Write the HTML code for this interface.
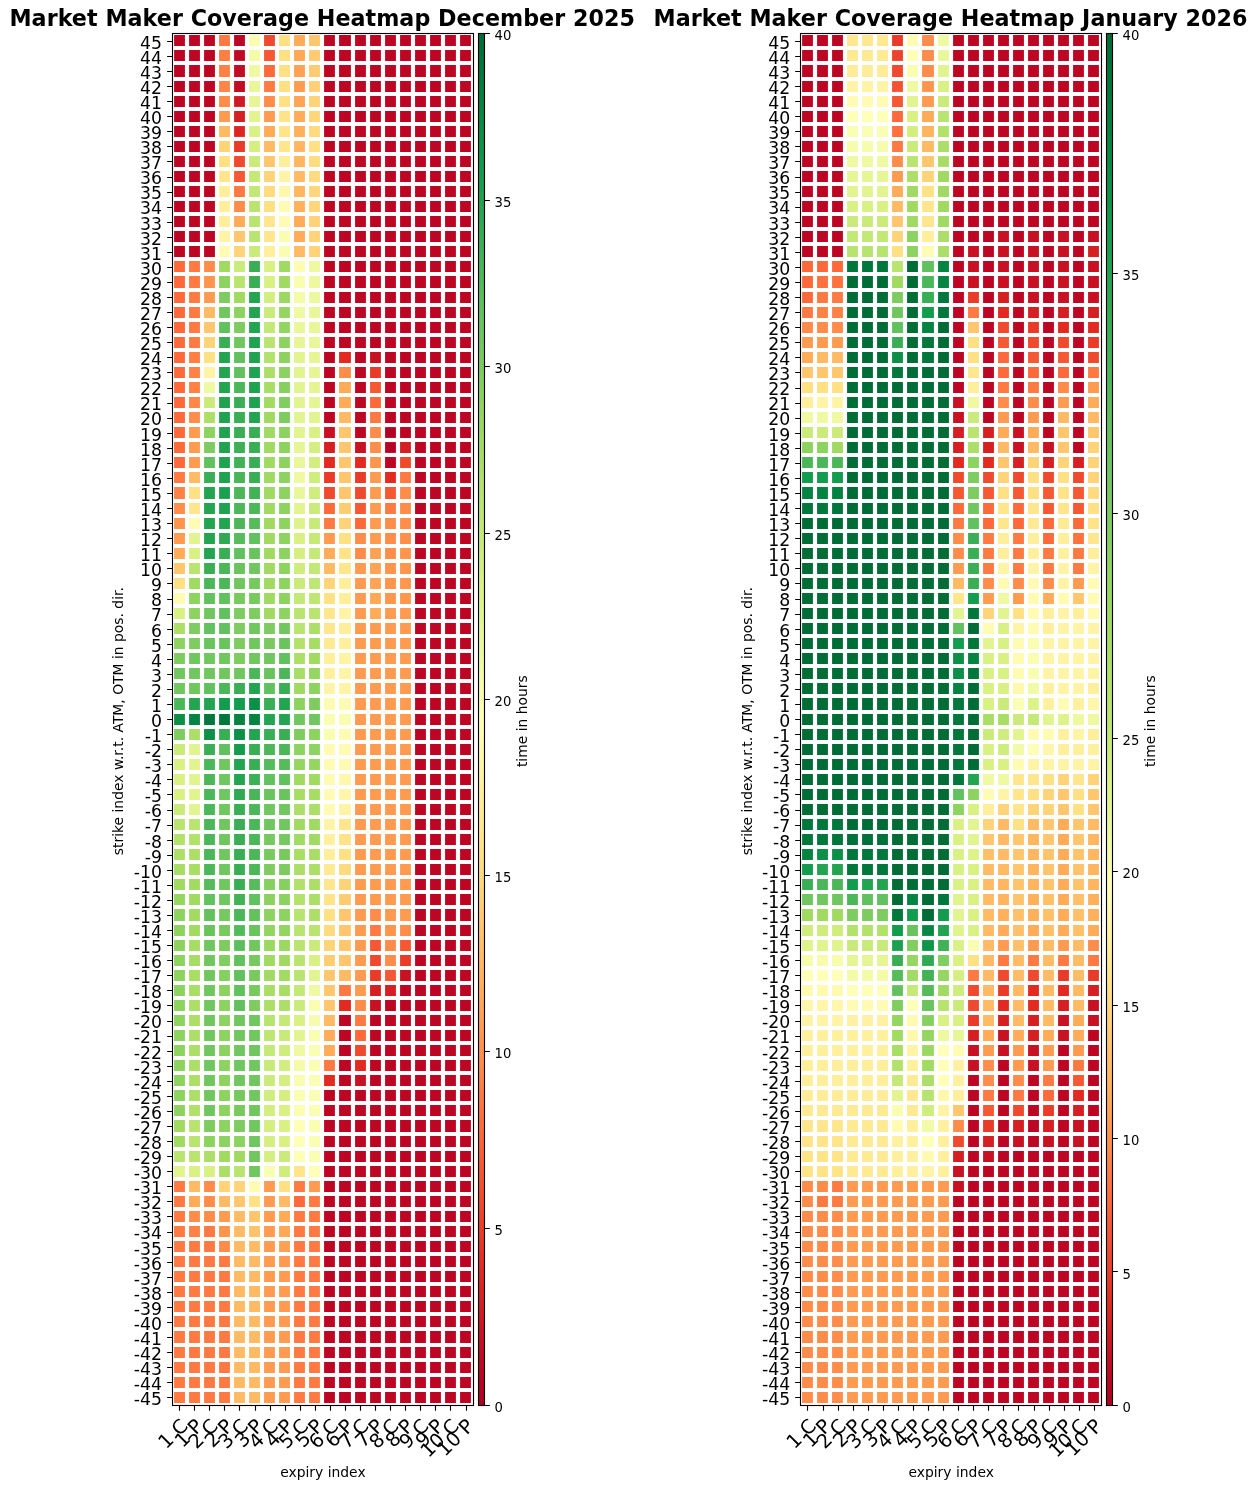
<!DOCTYPE html>
<html><head><meta charset="utf-8"><title>Market Maker Coverage Heatmap</title>
<style>html,body{margin:0;padding:0;background:#fff}svg{display:block}text{font-family:"DejaVu Sans","Liberation Sans",sans-serif;fill:#000}</style></head><body>
<svg width="1257" height="1489" viewBox="0 0 1257 1489">
<rect width="1257" height="1489" fill="#fff"/>
<defs><linearGradient id="cb" x1="0" y1="1" x2="0" y2="0"><stop offset="0%" stop-color="#b00024"/><stop offset="2.5%" stop-color="#bc0624"/><stop offset="5%" stop-color="#c81123"/><stop offset="7.5%" stop-color="#d61f22"/><stop offset="10%" stop-color="#e22a21"/><stop offset="12.5%" stop-color="#ea3b28"/><stop offset="15%" stop-color="#f04a2e"/><stop offset="17.5%" stop-color="#f65834"/><stop offset="20%" stop-color="#fe693b"/><stop offset="22.5%" stop-color="#ff7942"/><stop offset="25%" stop-color="#ff8c4a"/><stop offset="27.5%" stop-color="#ff9b51"/><stop offset="30%" stop-color="#ffab57"/><stop offset="32.5%" stop-color="#ffba63"/><stop offset="35%" stop-color="#ffc66d"/><stop offset="37.5%" stop-color="#ffd479"/><stop offset="40%" stop-color="#ffe083"/><stop offset="42.5%" stop-color="#ffe88f"/><stop offset="45%" stop-color="#fff09e"/><stop offset="47.5%" stop-color="#fff8ab"/><stop offset="50%" stop-color="#ffffb8"/><stop offset="52.5%" stop-color="#f6fcab"/><stop offset="55%" stop-color="#edf89f"/><stop offset="57.5%" stop-color="#e2f490"/><stop offset="60%" stop-color="#d9f183"/><stop offset="62.5%" stop-color="#caeb7a"/><stop offset="65%" stop-color="#bee672"/><stop offset="67.5%" stop-color="#b1e16a"/><stop offset="70%" stop-color="#a2db62"/><stop offset="72.5%" stop-color="#93d561"/><stop offset="75%" stop-color="#80cd60"/><stop offset="77.5%" stop-color="#71c75f"/><stop offset="80%" stop-color="#61c15e"/><stop offset="82.5%" stop-color="#4bb759"/><stop offset="85%" stop-color="#39ae55"/><stop offset="87.5%" stop-color="#23a451"/><stop offset="90%" stop-color="#129c4d"/><stop offset="92.5%" stop-color="#0c9047"/><stop offset="95%" stop-color="#058341"/><stop offset="97.5%" stop-color="#00773b"/><stop offset="100%" stop-color="#006c36"/></linearGradient><linearGradient id="cb2" x1="0" y1="1" x2="0" y2="0"><stop offset="0.00%" stop-color="#b00024"/><stop offset="1.89%" stop-color="#bc0624"/><stop offset="3.77%" stop-color="#c81123"/><stop offset="5.66%" stop-color="#d61f22"/><stop offset="7.55%" stop-color="#e22a21"/><stop offset="9.43%" stop-color="#ea3b28"/><stop offset="11.32%" stop-color="#f04a2e"/><stop offset="13.21%" stop-color="#f65834"/><stop offset="15.09%" stop-color="#fe693b"/><stop offset="16.98%" stop-color="#ff7942"/><stop offset="18.87%" stop-color="#ff8c4a"/><stop offset="20.75%" stop-color="#ff9b51"/><stop offset="22.64%" stop-color="#ffab57"/><stop offset="24.53%" stop-color="#ffba63"/><stop offset="26.41%" stop-color="#ffc66d"/><stop offset="28.30%" stop-color="#ffd479"/><stop offset="30.19%" stop-color="#ffe083"/><stop offset="32.07%" stop-color="#ffe88f"/><stop offset="33.96%" stop-color="#fff09e"/><stop offset="35.85%" stop-color="#fff8ab"/><stop offset="37.73%" stop-color="#ffffb8"/><stop offset="39.74%" stop-color="#f6fcab"/><stop offset="41.74%" stop-color="#edf89f"/><stop offset="43.74%" stop-color="#e2f490"/><stop offset="45.75%" stop-color="#d9f183"/><stop offset="47.75%" stop-color="#caeb7a"/><stop offset="49.75%" stop-color="#bee672"/><stop offset="50.00%" stop-color="#bce571"/><stop offset="53.16%" stop-color="#b1e16a"/><stop offset="56.77%" stop-color="#a2db62"/><stop offset="60.37%" stop-color="#93d561"/><stop offset="63.97%" stop-color="#80cd60"/><stop offset="67.57%" stop-color="#71c75f"/><stop offset="71.18%" stop-color="#61c15e"/><stop offset="74.78%" stop-color="#4bb759"/><stop offset="78.38%" stop-color="#39ae55"/><stop offset="81.99%" stop-color="#23a451"/><stop offset="85.59%" stop-color="#129c4d"/><stop offset="89.19%" stop-color="#0c9047"/><stop offset="92.79%" stop-color="#058341"/><stop offset="96.40%" stop-color="#00773b"/><stop offset="100.00%" stop-color="#006c36"/></linearGradient></defs>
<g>
<path fill="#bc0624" d="M174.09 35.09h10.83v10.83h-10.83zM189.09 35.09h10.83v10.83h-10.83zM204.09 35.09h10.83v10.83h-10.83zM234.09 35.09h10.83v10.83h-10.83zM324.08 35.09h10.83v10.83h-10.83zM339.08 35.09h11.83v10.83h-11.83zM355.08 35.09h10.83v10.83h-10.83zM370.08 35.09h10.83v10.83h-10.83zM385.08 35.09h10.83v10.83h-10.83zM400.08 35.09h10.83v10.83h-10.83zM415.08 35.09h10.83v10.83h-10.83zM430.08 35.09h10.83v10.83h-10.83zM445.08 35.09h10.83v10.83h-10.83zM460.08 35.09h10.83v10.83h-10.83zM174.09 50.09h10.83v10.83h-10.83zM189.09 50.09h10.83v10.83h-10.83zM204.09 50.09h10.83v10.83h-10.83zM324.08 50.09h10.83v10.83h-10.83zM339.08 50.09h11.83v10.83h-11.83zM355.08 50.09h10.83v10.83h-10.83zM370.08 50.09h10.83v10.83h-10.83zM385.08 50.09h10.83v10.83h-10.83zM400.08 50.09h10.83v10.83h-10.83zM415.08 50.09h10.83v10.83h-10.83zM430.08 50.09h10.83v10.83h-10.83zM445.08 50.09h10.83v10.83h-10.83zM460.08 50.09h10.83v10.83h-10.83zM174.09 65.08h10.83v11.83h-10.83zM189.09 65.08h10.83v11.83h-10.83zM204.09 65.08h10.83v11.83h-10.83zM324.08 65.08h10.83v11.83h-10.83zM339.08 65.08h11.83v11.83h-11.83zM355.08 65.08h10.83v11.83h-10.83zM370.08 65.08h10.83v11.83h-10.83zM385.08 65.08h10.83v11.83h-10.83zM400.08 65.08h10.83v11.83h-10.83zM415.08 65.08h10.83v11.83h-10.83zM430.08 65.08h10.83v11.83h-10.83zM445.08 65.08h10.83v11.83h-10.83zM460.08 65.08h10.83v11.83h-10.83zM174.09 81.08h10.83v10.83h-10.83zM189.09 81.08h10.83v10.83h-10.83zM204.09 81.08h10.83v10.83h-10.83zM324.08 81.08h10.83v10.83h-10.83zM339.08 81.08h11.83v10.83h-11.83zM355.08 81.08h10.83v10.83h-10.83zM370.08 81.08h10.83v10.83h-10.83zM385.08 81.08h10.83v10.83h-10.83zM400.08 81.08h10.83v10.83h-10.83zM415.08 81.08h10.83v10.83h-10.83zM430.08 81.08h10.83v10.83h-10.83zM445.08 81.08h10.83v10.83h-10.83zM460.08 81.08h10.83v10.83h-10.83zM174.09 96.08h10.83v10.83h-10.83zM189.09 96.08h10.83v10.83h-10.83zM204.09 96.08h10.83v10.83h-10.83zM324.08 96.08h10.83v10.83h-10.83zM339.08 96.08h11.83v10.83h-11.83zM355.08 96.08h10.83v10.83h-10.83zM370.08 96.08h10.83v10.83h-10.83zM385.08 96.08h10.83v10.83h-10.83zM400.08 96.08h10.83v10.83h-10.83zM415.08 96.08h10.83v10.83h-10.83zM430.08 96.08h10.83v10.83h-10.83zM445.08 96.08h10.83v10.83h-10.83zM460.08 96.08h10.83v10.83h-10.83zM174.09 111.08h10.83v10.83h-10.83zM189.09 111.08h10.83v10.83h-10.83zM204.09 111.08h10.83v10.83h-10.83zM324.08 111.08h10.83v10.83h-10.83zM339.08 111.08h11.83v10.83h-11.83zM355.08 111.08h10.83v10.83h-10.83zM370.08 111.08h10.83v10.83h-10.83zM385.08 111.08h10.83v10.83h-10.83zM400.08 111.08h10.83v10.83h-10.83zM415.08 111.08h10.83v10.83h-10.83zM430.08 111.08h10.83v10.83h-10.83zM445.08 111.08h10.83v10.83h-10.83zM460.08 111.08h10.83v10.83h-10.83zM174.09 126.08h10.83v10.83h-10.83zM189.09 126.08h10.83v10.83h-10.83zM204.09 126.08h10.83v10.83h-10.83zM324.08 126.08h10.83v10.83h-10.83zM339.08 126.08h11.83v10.83h-11.83zM355.08 126.08h10.83v10.83h-10.83zM370.08 126.08h10.83v10.83h-10.83zM385.08 126.08h10.83v10.83h-10.83zM400.08 126.08h10.83v10.83h-10.83zM415.08 126.08h10.83v10.83h-10.83zM430.08 126.08h10.83v10.83h-10.83zM445.08 126.08h10.83v10.83h-10.83zM460.08 126.08h10.83v10.83h-10.83zM174.09 141.09h10.83v10.83h-10.83zM189.09 141.09h10.83v10.83h-10.83zM204.09 141.09h10.83v10.83h-10.83zM324.08 141.09h10.83v10.83h-10.83zM339.08 141.09h11.83v10.83h-11.83zM355.08 141.09h10.83v10.83h-10.83zM370.08 141.09h10.83v10.83h-10.83zM385.08 141.09h10.83v10.83h-10.83zM400.08 141.09h10.83v10.83h-10.83zM415.08 141.09h10.83v10.83h-10.83zM430.08 141.09h10.83v10.83h-10.83zM445.08 141.09h10.83v10.83h-10.83zM460.08 141.09h10.83v10.83h-10.83zM174.09 156.09h10.83v10.83h-10.83zM189.09 156.09h10.83v10.83h-10.83zM204.09 156.09h10.83v10.83h-10.83zM324.08 156.09h10.83v10.83h-10.83zM339.08 156.09h11.83v10.83h-11.83zM355.08 156.09h10.83v10.83h-10.83zM370.08 156.09h10.83v10.83h-10.83zM385.08 156.09h10.83v10.83h-10.83zM400.08 156.09h10.83v10.83h-10.83zM415.08 156.09h10.83v10.83h-10.83zM430.08 156.09h10.83v10.83h-10.83zM445.08 156.09h10.83v10.83h-10.83zM460.08 156.09h10.83v10.83h-10.83zM174.09 171.09h10.83v10.83h-10.83zM189.09 171.09h10.83v10.83h-10.83zM204.09 171.09h10.83v10.83h-10.83zM324.08 171.09h10.83v10.83h-10.83zM339.08 171.09h11.83v10.83h-11.83zM355.08 171.09h10.83v10.83h-10.83zM370.08 171.09h10.83v10.83h-10.83zM385.08 171.09h10.83v10.83h-10.83zM400.08 171.09h10.83v10.83h-10.83zM415.08 171.09h10.83v10.83h-10.83zM430.08 171.09h10.83v10.83h-10.83zM445.08 171.09h10.83v10.83h-10.83zM460.08 171.09h10.83v10.83h-10.83zM174.09 186.09h10.83v10.83h-10.83zM189.09 186.09h10.83v10.83h-10.83zM204.09 186.09h10.83v10.83h-10.83zM324.08 186.09h10.83v10.83h-10.83zM339.08 186.09h11.83v10.83h-11.83zM355.08 186.09h10.83v10.83h-10.83zM370.08 186.09h10.83v10.83h-10.83zM385.08 186.09h10.83v10.83h-10.83zM400.08 186.09h10.83v10.83h-10.83zM415.08 186.09h10.83v10.83h-10.83zM430.08 186.09h10.83v10.83h-10.83zM445.08 186.09h10.83v10.83h-10.83zM460.08 186.09h10.83v10.83h-10.83zM174.09 201.09h10.83v10.83h-10.83zM189.09 201.09h10.83v10.83h-10.83zM204.09 201.09h10.83v10.83h-10.83zM324.08 201.09h10.83v10.83h-10.83zM339.08 201.09h11.83v10.83h-11.83zM355.08 201.09h10.83v10.83h-10.83zM370.08 201.09h10.83v10.83h-10.83zM385.08 201.09h10.83v10.83h-10.83zM400.08 201.09h10.83v10.83h-10.83zM415.08 201.09h10.83v10.83h-10.83zM430.08 201.09h10.83v10.83h-10.83zM445.08 201.09h10.83v10.83h-10.83zM460.08 201.09h10.83v10.83h-10.83zM174.09 216.09h10.83v10.83h-10.83zM189.09 216.09h10.83v10.83h-10.83zM204.09 216.09h10.83v10.83h-10.83zM324.08 216.09h10.83v10.83h-10.83zM339.08 216.09h11.83v10.83h-11.83zM355.08 216.09h10.83v10.83h-10.83zM370.08 216.09h10.83v10.83h-10.83zM385.08 216.09h10.83v10.83h-10.83zM400.08 216.09h10.83v10.83h-10.83zM415.08 216.09h10.83v10.83h-10.83zM430.08 216.09h10.83v10.83h-10.83zM445.08 216.09h10.83v10.83h-10.83zM460.08 216.09h10.83v10.83h-10.83zM174.09 231.09h10.83v10.83h-10.83zM189.09 231.09h10.83v10.83h-10.83zM204.09 231.09h10.83v10.83h-10.83zM324.08 231.09h10.83v10.83h-10.83zM339.08 231.09h11.83v10.83h-11.83zM355.08 231.09h10.83v10.83h-10.83zM370.08 231.09h10.83v10.83h-10.83zM385.08 231.09h10.83v10.83h-10.83zM400.08 231.09h10.83v10.83h-10.83zM415.08 231.09h10.83v10.83h-10.83zM430.08 231.09h10.83v10.83h-10.83zM445.08 231.09h10.83v10.83h-10.83zM460.08 231.09h10.83v10.83h-10.83zM174.09 246.09h10.83v10.83h-10.83zM189.09 246.09h10.83v10.83h-10.83zM204.09 246.09h10.83v10.83h-10.83zM324.08 246.09h10.83v10.83h-10.83zM339.08 246.09h11.83v10.83h-11.83zM355.08 246.09h10.83v10.83h-10.83zM370.08 246.09h10.83v10.83h-10.83zM385.08 246.09h10.83v10.83h-10.83zM400.08 246.09h10.83v10.83h-10.83zM415.08 246.09h10.83v10.83h-10.83zM430.08 246.09h10.83v10.83h-10.83zM445.08 246.09h10.83v10.83h-10.83zM460.08 246.09h10.83v10.83h-10.83zM324.08 261.08h10.83v10.83h-10.83zM339.08 261.08h11.83v10.83h-11.83zM355.08 261.08h10.83v10.83h-10.83zM370.08 261.08h10.83v10.83h-10.83zM385.08 261.08h10.83v10.83h-10.83zM400.08 261.08h10.83v10.83h-10.83zM415.08 261.08h10.83v10.83h-10.83zM430.08 261.08h10.83v10.83h-10.83zM445.08 261.08h10.83v10.83h-10.83zM460.08 261.08h10.83v10.83h-10.83zM324.08 276.08h10.83v11.83h-10.83zM339.08 276.08h11.83v11.83h-11.83zM355.08 276.08h10.83v11.83h-10.83zM370.08 276.08h10.83v11.83h-10.83zM385.08 276.08h10.83v11.83h-10.83zM400.08 276.08h10.83v11.83h-10.83zM415.08 276.08h10.83v11.83h-10.83zM430.08 276.08h10.83v11.83h-10.83zM445.08 276.08h10.83v11.83h-10.83zM460.08 276.08h10.83v11.83h-10.83zM324.08 292.08h10.83v10.83h-10.83zM339.08 292.08h11.83v10.83h-11.83zM355.08 292.08h10.83v10.83h-10.83zM370.08 292.08h10.83v10.83h-10.83zM385.08 292.08h10.83v10.83h-10.83zM400.08 292.08h10.83v10.83h-10.83zM415.08 292.08h10.83v10.83h-10.83zM430.08 292.08h10.83v10.83h-10.83zM445.08 292.08h10.83v10.83h-10.83zM460.08 292.08h10.83v10.83h-10.83zM324.08 307.08h10.83v10.83h-10.83zM339.08 307.08h11.83v10.83h-11.83zM355.08 307.08h10.83v10.83h-10.83zM370.08 307.08h10.83v10.83h-10.83zM385.08 307.08h10.83v10.83h-10.83zM400.08 307.08h10.83v10.83h-10.83zM415.08 307.08h10.83v10.83h-10.83zM430.08 307.08h10.83v10.83h-10.83zM445.08 307.08h10.83v10.83h-10.83zM460.08 307.08h10.83v10.83h-10.83zM324.08 322.08h10.83v10.83h-10.83zM339.08 322.08h11.83v10.83h-11.83zM355.08 322.08h10.83v10.83h-10.83zM370.08 322.08h10.83v10.83h-10.83zM385.08 322.08h10.83v10.83h-10.83zM400.08 322.08h10.83v10.83h-10.83zM415.08 322.08h10.83v10.83h-10.83zM430.08 322.08h10.83v10.83h-10.83zM445.08 322.08h10.83v10.83h-10.83zM460.08 322.08h10.83v10.83h-10.83zM324.08 337.08h10.83v10.83h-10.83zM339.08 337.08h11.83v10.83h-11.83zM355.08 337.08h10.83v10.83h-10.83zM370.08 337.08h10.83v10.83h-10.83zM385.08 337.08h10.83v10.83h-10.83zM400.08 337.08h10.83v10.83h-10.83zM415.08 337.08h10.83v10.83h-10.83zM430.08 337.08h10.83v10.83h-10.83zM445.08 337.08h10.83v10.83h-10.83zM460.08 337.08h10.83v10.83h-10.83zM324.08 352.08h10.83v10.83h-10.83zM355.08 352.08h10.83v10.83h-10.83zM385.08 352.08h10.83v10.83h-10.83zM400.08 352.08h10.83v10.83h-10.83zM415.08 352.08h10.83v10.83h-10.83zM430.08 352.08h10.83v10.83h-10.83zM445.08 352.08h10.83v10.83h-10.83zM460.08 352.08h10.83v10.83h-10.83zM324.08 367.08h10.83v10.83h-10.83zM355.08 367.08h10.83v10.83h-10.83zM385.08 367.08h10.83v10.83h-10.83zM400.08 367.08h10.83v10.83h-10.83zM415.08 367.08h10.83v10.83h-10.83zM430.08 367.08h10.83v10.83h-10.83zM445.08 367.08h10.83v10.83h-10.83zM460.08 367.08h10.83v10.83h-10.83zM324.08 382.08h10.83v10.83h-10.83zM355.08 382.08h10.83v10.83h-10.83zM385.08 382.08h10.83v10.83h-10.83zM400.08 382.08h10.83v10.83h-10.83zM415.08 382.08h10.83v10.83h-10.83zM430.08 382.08h10.83v10.83h-10.83zM445.08 382.08h10.83v10.83h-10.83zM460.08 382.08h10.83v10.83h-10.83zM324.08 397.08h10.83v10.83h-10.83zM355.08 397.08h10.83v10.83h-10.83zM385.08 397.08h10.83v10.83h-10.83zM400.08 397.08h10.83v10.83h-10.83zM415.08 397.08h10.83v10.83h-10.83zM430.08 397.08h10.83v10.83h-10.83zM445.08 397.08h10.83v10.83h-10.83zM460.08 397.08h10.83v10.83h-10.83zM324.08 412.08h10.83v10.83h-10.83zM355.08 412.08h10.83v10.83h-10.83zM385.08 412.08h10.83v10.83h-10.83zM400.08 412.08h10.83v10.83h-10.83zM415.08 412.08h10.83v10.83h-10.83zM430.08 412.08h10.83v10.83h-10.83zM445.08 412.08h10.83v10.83h-10.83zM460.08 412.08h10.83v10.83h-10.83zM355.08 427.08h10.83v10.83h-10.83zM400.08 427.08h10.83v10.83h-10.83zM415.08 427.08h10.83v10.83h-10.83zM430.08 427.08h10.83v10.83h-10.83zM445.08 427.08h10.83v10.83h-10.83zM460.08 427.08h10.83v10.83h-10.83zM415.08 442.08h10.83v10.83h-10.83zM430.08 442.08h10.83v10.83h-10.83zM445.08 442.08h10.83v10.83h-10.83zM460.08 442.08h10.83v10.83h-10.83zM385.08 457.08h10.83v10.83h-10.83zM415.08 457.08h10.83v10.83h-10.83zM430.08 457.08h10.83v10.83h-10.83zM445.08 457.08h10.83v10.83h-10.83zM460.08 457.08h10.83v10.83h-10.83zM415.08 472.08h10.83v10.83h-10.83zM430.08 472.08h10.83v10.83h-10.83zM445.08 472.08h10.83v10.83h-10.83zM460.08 472.08h10.83v10.83h-10.83zM415.08 487.08h10.83v11.83h-10.83zM430.08 487.08h10.83v11.83h-10.83zM445.08 487.08h10.83v11.83h-10.83zM460.08 487.08h10.83v11.83h-10.83zM415.08 503.08h10.83v10.83h-10.83zM430.08 503.08h10.83v10.83h-10.83zM445.08 503.08h10.83v10.83h-10.83zM460.08 503.08h10.83v10.83h-10.83zM415.08 518.09h10.83v10.83h-10.83zM430.08 518.09h10.83v10.83h-10.83zM445.08 518.09h10.83v10.83h-10.83zM460.08 518.09h10.83v10.83h-10.83zM415.08 533.09h10.83v10.83h-10.83zM430.08 533.09h10.83v10.83h-10.83zM445.08 533.09h10.83v10.83h-10.83zM460.08 533.09h10.83v10.83h-10.83zM415.08 548.09h10.83v10.83h-10.83zM430.08 548.09h10.83v10.83h-10.83zM445.08 548.09h10.83v10.83h-10.83zM460.08 548.09h10.83v10.83h-10.83zM415.08 563.09h10.83v10.83h-10.83zM430.08 563.09h10.83v10.83h-10.83zM445.08 563.09h10.83v10.83h-10.83zM460.08 563.09h10.83v10.83h-10.83zM415.08 578.09h10.83v10.83h-10.83zM430.08 578.09h10.83v10.83h-10.83zM445.08 578.09h10.83v10.83h-10.83zM460.08 578.09h10.83v10.83h-10.83zM415.08 593.09h10.83v10.83h-10.83zM430.08 593.09h10.83v10.83h-10.83zM445.08 593.09h10.83v10.83h-10.83zM460.08 593.09h10.83v10.83h-10.83zM415.08 608.09h10.83v10.83h-10.83zM430.08 608.09h10.83v10.83h-10.83zM445.08 608.09h10.83v10.83h-10.83zM460.08 608.09h10.83v10.83h-10.83zM415.08 623.09h10.83v10.83h-10.83zM430.08 623.09h10.83v10.83h-10.83zM445.08 623.09h10.83v10.83h-10.83zM460.08 623.09h10.83v10.83h-10.83zM415.08 638.09h10.83v10.83h-10.83zM430.08 638.09h10.83v10.83h-10.83zM445.08 638.09h10.83v10.83h-10.83zM460.08 638.09h10.83v10.83h-10.83zM415.08 653.09h10.83v10.83h-10.83zM430.08 653.09h10.83v10.83h-10.83zM445.08 653.09h10.83v10.83h-10.83zM460.08 653.09h10.83v10.83h-10.83zM415.08 668.09h10.83v10.83h-10.83zM430.08 668.09h10.83v10.83h-10.83zM445.08 668.09h10.83v10.83h-10.83zM460.08 668.09h10.83v10.83h-10.83zM415.08 683.09h10.83v10.83h-10.83zM430.08 683.09h10.83v10.83h-10.83zM445.08 683.09h10.83v10.83h-10.83zM460.08 683.09h10.83v10.83h-10.83zM415.08 698.09h10.83v11.83h-10.83zM430.08 698.09h10.83v11.83h-10.83zM445.08 698.09h10.83v11.83h-10.83zM460.08 698.09h10.83v11.83h-10.83zM415.08 714.09h10.83v10.83h-10.83zM430.08 714.09h10.83v10.83h-10.83zM445.08 714.09h10.83v10.83h-10.83zM460.08 714.09h10.83v10.83h-10.83zM415.08 729.09h10.83v10.83h-10.83zM430.08 729.09h10.83v10.83h-10.83zM445.08 729.09h10.83v10.83h-10.83zM460.08 729.09h10.83v10.83h-10.83zM415.08 744.09h10.83v10.83h-10.83zM430.08 744.09h10.83v10.83h-10.83zM445.08 744.09h10.83v10.83h-10.83zM460.08 744.09h10.83v10.83h-10.83zM415.08 759.09h10.83v10.83h-10.83zM430.08 759.09h10.83v10.83h-10.83zM445.08 759.09h10.83v10.83h-10.83zM460.08 759.09h10.83v10.83h-10.83zM415.08 774.09h10.83v10.83h-10.83zM430.08 774.09h10.83v10.83h-10.83zM445.08 774.09h10.83v10.83h-10.83zM460.08 774.09h10.83v10.83h-10.83zM415.08 789.09h10.83v10.83h-10.83zM430.08 789.09h10.83v10.83h-10.83zM445.08 789.09h10.83v10.83h-10.83zM460.08 789.09h10.83v10.83h-10.83zM415.08 804.09h10.83v10.83h-10.83zM430.08 804.09h10.83v10.83h-10.83zM445.08 804.09h10.83v10.83h-10.83zM460.08 804.09h10.83v10.83h-10.83zM415.08 819.09h10.83v10.83h-10.83zM430.08 819.09h10.83v10.83h-10.83zM445.08 819.09h10.83v10.83h-10.83zM460.08 819.09h10.83v10.83h-10.83zM415.08 834.09h10.83v10.83h-10.83zM430.08 834.09h10.83v10.83h-10.83zM445.08 834.09h10.83v10.83h-10.83zM460.08 834.09h10.83v10.83h-10.83zM415.08 849.09h10.83v10.83h-10.83zM430.08 849.09h10.83v10.83h-10.83zM445.08 849.09h10.83v10.83h-10.83zM460.08 849.09h10.83v10.83h-10.83zM415.08 864.09h10.83v10.83h-10.83zM430.08 864.09h10.83v10.83h-10.83zM445.08 864.09h10.83v10.83h-10.83zM460.08 864.09h10.83v10.83h-10.83zM415.08 879.09h10.83v10.83h-10.83zM430.08 879.09h10.83v10.83h-10.83zM445.08 879.09h10.83v10.83h-10.83zM460.08 879.09h10.83v10.83h-10.83zM415.08 894.09h10.83v10.83h-10.83zM430.08 894.09h10.83v10.83h-10.83zM445.08 894.09h10.83v10.83h-10.83zM460.08 894.09h10.83v10.83h-10.83zM415.08 909.09h10.83v11.83h-10.83zM430.08 909.09h10.83v11.83h-10.83zM445.08 909.09h10.83v11.83h-10.83zM460.08 909.09h10.83v11.83h-10.83zM415.08 925.09h10.83v10.83h-10.83zM430.08 925.09h10.83v10.83h-10.83zM445.08 925.09h10.83v10.83h-10.83zM460.08 925.09h10.83v10.83h-10.83zM415.08 940.09h10.83v10.83h-10.83zM430.08 940.09h10.83v10.83h-10.83zM445.08 940.09h10.83v10.83h-10.83zM460.08 940.09h10.83v10.83h-10.83zM415.08 955.09h10.83v10.83h-10.83zM430.08 955.09h10.83v10.83h-10.83zM445.08 955.09h10.83v10.83h-10.83zM460.08 955.09h10.83v10.83h-10.83zM415.08 970.09h10.83v10.83h-10.83zM430.08 970.09h10.83v10.83h-10.83zM445.08 970.09h10.83v10.83h-10.83zM460.08 970.09h10.83v10.83h-10.83zM400.08 985.09h10.83v10.83h-10.83zM415.08 985.09h10.83v10.83h-10.83zM430.08 985.09h10.83v10.83h-10.83zM445.08 985.09h10.83v10.83h-10.83zM460.08 985.09h10.83v10.83h-10.83zM385.08 1000.09h10.83v10.83h-10.83zM400.08 1000.09h10.83v10.83h-10.83zM415.08 1000.09h10.83v10.83h-10.83zM430.08 1000.09h10.83v10.83h-10.83zM445.08 1000.09h10.83v10.83h-10.83zM460.08 1000.09h10.83v10.83h-10.83zM339.08 1015.09h11.83v10.83h-11.83zM370.08 1015.09h10.83v10.83h-10.83zM385.08 1015.09h10.83v10.83h-10.83zM400.08 1015.09h10.83v10.83h-10.83zM415.08 1015.09h10.83v10.83h-10.83zM430.08 1015.09h10.83v10.83h-10.83zM445.08 1015.09h10.83v10.83h-10.83zM460.08 1015.09h10.83v10.83h-10.83zM339.08 1030.09h11.83v10.83h-11.83zM370.08 1030.09h10.83v10.83h-10.83zM385.08 1030.09h10.83v10.83h-10.83zM400.08 1030.09h10.83v10.83h-10.83zM415.08 1030.09h10.83v10.83h-10.83zM430.08 1030.09h10.83v10.83h-10.83zM445.08 1030.09h10.83v10.83h-10.83zM460.08 1030.09h10.83v10.83h-10.83zM339.08 1045.09h11.83v10.83h-11.83zM370.08 1045.09h10.83v10.83h-10.83zM385.08 1045.09h10.83v10.83h-10.83zM400.08 1045.09h10.83v10.83h-10.83zM415.08 1045.09h10.83v10.83h-10.83zM430.08 1045.09h10.83v10.83h-10.83zM445.08 1045.09h10.83v10.83h-10.83zM460.08 1045.09h10.83v10.83h-10.83zM339.08 1060.09h11.83v10.83h-11.83zM370.08 1060.09h10.83v10.83h-10.83zM385.08 1060.09h10.83v10.83h-10.83zM400.08 1060.09h10.83v10.83h-10.83zM415.08 1060.09h10.83v10.83h-10.83zM430.08 1060.09h10.83v10.83h-10.83zM445.08 1060.09h10.83v10.83h-10.83zM460.08 1060.09h10.83v10.83h-10.83zM339.08 1075.09h11.83v10.83h-11.83zM370.08 1075.09h10.83v10.83h-10.83zM385.08 1075.09h10.83v10.83h-10.83zM400.08 1075.09h10.83v10.83h-10.83zM415.08 1075.09h10.83v10.83h-10.83zM430.08 1075.09h10.83v10.83h-10.83zM445.08 1075.09h10.83v10.83h-10.83zM460.08 1075.09h10.83v10.83h-10.83zM324.08 1090.09h10.83v10.83h-10.83zM339.08 1090.09h11.83v10.83h-11.83zM355.08 1090.09h10.83v10.83h-10.83zM370.08 1090.09h10.83v10.83h-10.83zM385.08 1090.09h10.83v10.83h-10.83zM400.08 1090.09h10.83v10.83h-10.83zM415.08 1090.09h10.83v10.83h-10.83zM430.08 1090.09h10.83v10.83h-10.83zM445.08 1090.09h10.83v10.83h-10.83zM460.08 1090.09h10.83v10.83h-10.83zM324.08 1105.09h10.83v10.83h-10.83zM339.08 1105.09h11.83v10.83h-11.83zM355.08 1105.09h10.83v10.83h-10.83zM370.08 1105.09h10.83v10.83h-10.83zM385.08 1105.09h10.83v10.83h-10.83zM400.08 1105.09h10.83v10.83h-10.83zM415.08 1105.09h10.83v10.83h-10.83zM430.08 1105.09h10.83v10.83h-10.83zM445.08 1105.09h10.83v10.83h-10.83zM460.08 1105.09h10.83v10.83h-10.83zM324.08 1120.09h10.83v11.83h-10.83zM339.08 1120.09h11.83v11.83h-11.83zM355.08 1120.09h10.83v11.83h-10.83zM370.08 1120.09h10.83v11.83h-10.83zM385.08 1120.09h10.83v11.83h-10.83zM400.08 1120.09h10.83v11.83h-10.83zM415.08 1120.09h10.83v11.83h-10.83zM430.08 1120.09h10.83v11.83h-10.83zM445.08 1120.09h10.83v11.83h-10.83zM460.08 1120.09h10.83v11.83h-10.83zM324.08 1136.09h10.83v10.83h-10.83zM339.08 1136.09h11.83v10.83h-11.83zM355.08 1136.09h10.83v10.83h-10.83zM370.08 1136.09h10.83v10.83h-10.83zM385.08 1136.09h10.83v10.83h-10.83zM400.08 1136.09h10.83v10.83h-10.83zM415.08 1136.09h10.83v10.83h-10.83zM430.08 1136.09h10.83v10.83h-10.83zM445.08 1136.09h10.83v10.83h-10.83zM460.08 1136.09h10.83v10.83h-10.83zM324.08 1151.09h10.83v10.83h-10.83zM339.08 1151.09h11.83v10.83h-11.83zM355.08 1151.09h10.83v10.83h-10.83zM370.08 1151.09h10.83v10.83h-10.83zM385.08 1151.09h10.83v10.83h-10.83zM400.08 1151.09h10.83v10.83h-10.83zM415.08 1151.09h10.83v10.83h-10.83zM430.08 1151.09h10.83v10.83h-10.83zM445.08 1151.09h10.83v10.83h-10.83zM460.08 1151.09h10.83v10.83h-10.83zM324.08 1166.09h10.83v10.83h-10.83zM339.08 1166.09h11.83v10.83h-11.83zM355.08 1166.09h10.83v10.83h-10.83zM370.08 1166.09h10.83v10.83h-10.83zM385.08 1166.09h10.83v10.83h-10.83zM400.08 1166.09h10.83v10.83h-10.83zM415.08 1166.09h10.83v10.83h-10.83zM430.08 1166.09h10.83v10.83h-10.83zM445.08 1166.09h10.83v10.83h-10.83zM460.08 1166.09h10.83v10.83h-10.83zM324.08 1181.09h10.83v10.83h-10.83zM339.08 1181.09h11.83v10.83h-11.83zM355.08 1181.09h10.83v10.83h-10.83zM370.08 1181.09h10.83v10.83h-10.83zM385.08 1181.09h10.83v10.83h-10.83zM400.08 1181.09h10.83v10.83h-10.83zM415.08 1181.09h10.83v10.83h-10.83zM430.08 1181.09h10.83v10.83h-10.83zM445.08 1181.09h10.83v10.83h-10.83zM460.08 1181.09h10.83v10.83h-10.83zM324.08 1196.09h10.83v10.83h-10.83zM339.08 1196.09h11.83v10.83h-11.83zM355.08 1196.09h10.83v10.83h-10.83zM370.08 1196.09h10.83v10.83h-10.83zM385.08 1196.09h10.83v10.83h-10.83zM400.08 1196.09h10.83v10.83h-10.83zM415.08 1196.09h10.83v10.83h-10.83zM430.08 1196.09h10.83v10.83h-10.83zM445.08 1196.09h10.83v10.83h-10.83zM460.08 1196.09h10.83v10.83h-10.83zM324.08 1211.09h10.83v10.83h-10.83zM339.08 1211.09h11.83v10.83h-11.83zM355.08 1211.09h10.83v10.83h-10.83zM370.08 1211.09h10.83v10.83h-10.83zM385.08 1211.09h10.83v10.83h-10.83zM400.08 1211.09h10.83v10.83h-10.83zM415.08 1211.09h10.83v10.83h-10.83zM430.08 1211.09h10.83v10.83h-10.83zM445.08 1211.09h10.83v10.83h-10.83zM460.08 1211.09h10.83v10.83h-10.83zM324.08 1226.09h10.83v10.83h-10.83zM339.08 1226.09h11.83v10.83h-11.83zM355.08 1226.09h10.83v10.83h-10.83zM370.08 1226.09h10.83v10.83h-10.83zM385.08 1226.09h10.83v10.83h-10.83zM400.08 1226.09h10.83v10.83h-10.83zM415.08 1226.09h10.83v10.83h-10.83zM430.08 1226.09h10.83v10.83h-10.83zM445.08 1226.09h10.83v10.83h-10.83zM460.08 1226.09h10.83v10.83h-10.83zM324.08 1241.09h10.83v10.83h-10.83zM339.08 1241.09h11.83v10.83h-11.83zM355.08 1241.09h10.83v10.83h-10.83zM370.08 1241.09h10.83v10.83h-10.83zM385.08 1241.09h10.83v10.83h-10.83zM400.08 1241.09h10.83v10.83h-10.83zM415.08 1241.09h10.83v10.83h-10.83zM430.08 1241.09h10.83v10.83h-10.83zM445.08 1241.09h10.83v10.83h-10.83zM460.08 1241.09h10.83v10.83h-10.83zM324.08 1256.09h10.83v10.83h-10.83zM339.08 1256.09h11.83v10.83h-11.83zM355.08 1256.09h10.83v10.83h-10.83zM370.08 1256.09h10.83v10.83h-10.83zM385.08 1256.09h10.83v10.83h-10.83zM400.08 1256.09h10.83v10.83h-10.83zM415.08 1256.09h10.83v10.83h-10.83zM430.08 1256.09h10.83v10.83h-10.83zM445.08 1256.09h10.83v10.83h-10.83zM460.08 1256.09h10.83v10.83h-10.83zM324.08 1271.09h10.83v10.83h-10.83zM339.08 1271.09h11.83v10.83h-11.83zM355.08 1271.09h10.83v10.83h-10.83zM370.08 1271.09h10.83v10.83h-10.83zM385.08 1271.09h10.83v10.83h-10.83zM400.08 1271.09h10.83v10.83h-10.83zM415.08 1271.09h10.83v10.83h-10.83zM430.08 1271.09h10.83v10.83h-10.83zM445.08 1271.09h10.83v10.83h-10.83zM460.08 1271.09h10.83v10.83h-10.83zM324.08 1286.09h10.83v10.83h-10.83zM339.08 1286.09h11.83v10.83h-11.83zM355.08 1286.09h10.83v10.83h-10.83zM370.08 1286.09h10.83v10.83h-10.83zM385.08 1286.09h10.83v10.83h-10.83zM400.08 1286.09h10.83v10.83h-10.83zM415.08 1286.09h10.83v10.83h-10.83zM430.08 1286.09h10.83v10.83h-10.83zM445.08 1286.09h10.83v10.83h-10.83zM460.08 1286.09h10.83v10.83h-10.83zM324.08 1301.09h10.83v10.83h-10.83zM339.08 1301.09h11.83v10.83h-11.83zM355.08 1301.09h10.83v10.83h-10.83zM370.08 1301.09h10.83v10.83h-10.83zM385.08 1301.09h10.83v10.83h-10.83zM400.08 1301.09h10.83v10.83h-10.83zM415.08 1301.09h10.83v10.83h-10.83zM430.08 1301.09h10.83v10.83h-10.83zM445.08 1301.09h10.83v10.83h-10.83zM460.08 1301.09h10.83v10.83h-10.83zM324.08 1316.09h10.83v10.83h-10.83zM339.08 1316.09h11.83v10.83h-11.83zM355.08 1316.09h10.83v10.83h-10.83zM370.08 1316.09h10.83v10.83h-10.83zM385.08 1316.09h10.83v10.83h-10.83zM400.08 1316.09h10.83v10.83h-10.83zM415.08 1316.09h10.83v10.83h-10.83zM430.08 1316.09h10.83v10.83h-10.83zM445.08 1316.09h10.83v10.83h-10.83zM460.08 1316.09h10.83v10.83h-10.83zM324.08 1331.09h10.83v11.83h-10.83zM339.08 1331.09h11.83v11.83h-11.83zM355.08 1331.09h10.83v11.83h-10.83zM370.08 1331.09h10.83v11.83h-10.83zM385.08 1331.09h10.83v11.83h-10.83zM400.08 1331.09h10.83v11.83h-10.83zM415.08 1331.09h10.83v11.83h-10.83zM430.08 1331.09h10.83v11.83h-10.83zM445.08 1331.09h10.83v11.83h-10.83zM460.08 1331.09h10.83v11.83h-10.83zM324.08 1347.09h10.83v10.83h-10.83zM339.08 1347.09h11.83v10.83h-11.83zM355.08 1347.09h10.83v10.83h-10.83zM370.08 1347.09h10.83v10.83h-10.83zM385.08 1347.09h10.83v10.83h-10.83zM400.08 1347.09h10.83v10.83h-10.83zM415.08 1347.09h10.83v10.83h-10.83zM430.08 1347.09h10.83v10.83h-10.83zM445.08 1347.09h10.83v10.83h-10.83zM460.08 1347.09h10.83v10.83h-10.83zM324.08 1362.09h10.83v10.83h-10.83zM339.08 1362.09h11.83v10.83h-11.83zM355.08 1362.09h10.83v10.83h-10.83zM370.08 1362.09h10.83v10.83h-10.83zM385.08 1362.09h10.83v10.83h-10.83zM400.08 1362.09h10.83v10.83h-10.83zM415.08 1362.09h10.83v10.83h-10.83zM430.08 1362.09h10.83v10.83h-10.83zM445.08 1362.09h10.83v10.83h-10.83zM460.08 1362.09h10.83v10.83h-10.83zM324.08 1377.09h10.83v10.83h-10.83zM339.08 1377.09h11.83v10.83h-11.83zM355.08 1377.09h10.83v10.83h-10.83zM370.08 1377.09h10.83v10.83h-10.83zM385.08 1377.09h10.83v10.83h-10.83zM400.08 1377.09h10.83v10.83h-10.83zM415.08 1377.09h10.83v10.83h-10.83zM430.08 1377.09h10.83v10.83h-10.83zM445.08 1377.09h10.83v10.83h-10.83zM460.08 1377.09h10.83v10.83h-10.83zM324.08 1392.09h10.83v10.83h-10.83zM339.08 1392.09h11.83v10.83h-11.83zM355.08 1392.09h10.83v10.83h-10.83zM370.08 1392.09h10.83v10.83h-10.83zM385.08 1392.09h10.83v10.83h-10.83zM400.08 1392.09h10.83v10.83h-10.83zM415.08 1392.09h10.83v10.83h-10.83zM430.08 1392.09h10.83v10.83h-10.83zM445.08 1392.09h10.83v10.83h-10.83zM460.08 1392.09h10.83v10.83h-10.83z"/>
<path fill="#ff7942" d="M219.09 35.09h10.83v10.83h-10.83zM264.08 81.08h10.83v10.83h-10.83zM234.09 186.09h10.83v10.83h-10.83zM189.09 261.08h10.83v10.83h-10.83zM189.09 276.08h10.83v11.83h-10.83zM189.09 292.08h10.83v10.83h-10.83zM189.09 307.08h10.83v10.83h-10.83zM189.09 322.08h10.83v10.83h-10.83zM189.09 337.08h10.83v10.83h-10.83zM370.08 412.08h10.83v10.83h-10.83zM174.09 472.08h10.83v10.83h-10.83zM400.08 472.08h10.83v10.83h-10.83zM385.08 503.08h10.83v10.83h-10.83zM324.08 518.09h10.83v10.83h-10.83zM370.08 925.09h10.83v10.83h-10.83zM339.08 985.09h11.83v10.83h-11.83zM355.08 1015.09h10.83v10.83h-10.83zM324.08 1060.09h10.83v10.83h-10.83zM174.09 1181.09h10.83v10.83h-10.83zM294.08 1181.09h10.83v10.83h-10.83zM174.09 1196.09h10.83v10.83h-10.83zM309.08 1196.09h10.83v10.83h-10.83zM174.09 1211.09h10.83v10.83h-10.83zM294.08 1211.09h10.83v10.83h-10.83zM309.08 1211.09h10.83v10.83h-10.83zM174.09 1226.09h10.83v10.83h-10.83zM204.09 1226.09h10.83v10.83h-10.83zM294.08 1226.09h10.83v10.83h-10.83zM309.08 1226.09h10.83v10.83h-10.83zM174.09 1241.09h10.83v10.83h-10.83zM189.09 1241.09h10.83v10.83h-10.83zM204.09 1241.09h10.83v10.83h-10.83zM294.08 1241.09h10.83v10.83h-10.83zM309.08 1241.09h10.83v10.83h-10.83zM174.09 1256.09h10.83v10.83h-10.83zM189.09 1256.09h10.83v10.83h-10.83zM204.09 1256.09h10.83v10.83h-10.83zM219.09 1256.09h10.83v10.83h-10.83zM294.08 1256.09h10.83v10.83h-10.83zM309.08 1256.09h10.83v10.83h-10.83zM174.09 1271.09h10.83v10.83h-10.83zM189.09 1271.09h10.83v10.83h-10.83zM204.09 1271.09h10.83v10.83h-10.83zM219.09 1271.09h10.83v10.83h-10.83zM294.08 1271.09h10.83v10.83h-10.83zM309.08 1271.09h10.83v10.83h-10.83zM174.09 1286.09h10.83v10.83h-10.83zM189.09 1286.09h10.83v10.83h-10.83zM204.09 1286.09h10.83v10.83h-10.83zM219.09 1286.09h10.83v10.83h-10.83zM294.08 1286.09h10.83v10.83h-10.83zM309.08 1286.09h10.83v10.83h-10.83zM174.09 1301.09h10.83v10.83h-10.83zM189.09 1301.09h10.83v10.83h-10.83zM204.09 1301.09h10.83v10.83h-10.83zM219.09 1301.09h10.83v10.83h-10.83zM294.08 1301.09h10.83v10.83h-10.83zM309.08 1301.09h10.83v10.83h-10.83zM174.09 1316.09h10.83v10.83h-10.83zM189.09 1316.09h10.83v10.83h-10.83zM204.09 1316.09h10.83v10.83h-10.83zM219.09 1316.09h10.83v10.83h-10.83zM294.08 1316.09h10.83v10.83h-10.83zM309.08 1316.09h10.83v10.83h-10.83zM174.09 1331.09h10.83v11.83h-10.83zM189.09 1331.09h10.83v11.83h-10.83zM204.09 1331.09h10.83v11.83h-10.83zM219.09 1331.09h10.83v11.83h-10.83zM294.08 1331.09h10.83v11.83h-10.83zM309.08 1331.09h10.83v11.83h-10.83zM174.09 1347.09h10.83v10.83h-10.83zM189.09 1347.09h10.83v10.83h-10.83zM204.09 1347.09h10.83v10.83h-10.83zM219.09 1347.09h10.83v10.83h-10.83zM294.08 1347.09h10.83v10.83h-10.83zM309.08 1347.09h10.83v10.83h-10.83zM174.09 1362.09h10.83v10.83h-10.83zM189.09 1362.09h10.83v10.83h-10.83zM204.09 1362.09h10.83v10.83h-10.83zM219.09 1362.09h10.83v10.83h-10.83zM294.08 1362.09h10.83v10.83h-10.83zM309.08 1362.09h10.83v10.83h-10.83zM174.09 1377.09h10.83v10.83h-10.83zM189.09 1377.09h10.83v10.83h-10.83zM204.09 1377.09h10.83v10.83h-10.83zM219.09 1377.09h10.83v10.83h-10.83zM294.08 1377.09h10.83v10.83h-10.83zM309.08 1377.09h10.83v10.83h-10.83zM174.09 1392.09h10.83v10.83h-10.83zM189.09 1392.09h10.83v10.83h-10.83zM204.09 1392.09h10.83v10.83h-10.83zM219.09 1392.09h10.83v10.83h-10.83zM294.08 1392.09h10.83v10.83h-10.83zM309.08 1392.09h10.83v10.83h-10.83z"/>
<path fill="#f9fdb0" d="M249.09 35.09h10.83v10.83h-10.83zM279.08 231.09h10.83v10.83h-10.83zM279.08 246.09h10.83v10.83h-10.83zM294.08 276.08h10.83v11.83h-10.83zM324.08 714.09h10.83v10.83h-10.83zM339.08 714.09h11.83v10.83h-11.83zM324.08 729.09h10.83v10.83h-10.83zM309.08 1000.09h10.83v10.83h-10.83zM309.08 1030.09h10.83v10.83h-10.83zM294.08 1075.09h10.83v10.83h-10.83zM264.08 1166.09h10.83v10.83h-10.83z"/>
<path fill="#f04a2e" d="M264.08 35.09h10.83v10.83h-10.83zM234.09 156.09h10.83v10.83h-10.83zM400.08 457.08h10.83v10.83h-10.83zM324.08 487.08h10.83v11.83h-10.83zM355.08 487.08h10.83v11.83h-10.83zM370.08 955.09h10.83v10.83h-10.83zM355.08 1045.09h10.83v10.83h-10.83z"/>
<path fill="#ffe083" d="M279.08 35.09h10.83v10.83h-10.83zM279.08 50.09h10.83v10.83h-10.83zM279.08 65.08h10.83v11.83h-10.83zM279.08 81.08h10.83v10.83h-10.83zM279.08 96.08h10.83v10.83h-10.83zM309.08 141.09h10.83v10.83h-10.83zM219.09 156.09h10.83v10.83h-10.83zM264.08 201.09h10.83v10.83h-10.83zM204.09 352.08h10.83v10.83h-10.83zM189.09 487.08h10.83v11.83h-10.83zM339.08 533.09h11.83v10.83h-11.83zM174.09 578.09h10.83v10.83h-10.83zM324.08 593.09h10.83v10.83h-10.83zM339.08 849.09h11.83v10.83h-11.83zM324.08 909.09h10.83v11.83h-10.83zM279.08 1181.09h10.83v10.83h-10.83zM249.09 1196.09h10.83v10.83h-10.83z"/>
<path fill="#ffab57" d="M294.08 35.09h10.83v10.83h-10.83zM294.08 111.08h10.83v10.83h-10.83zM264.08 126.08h10.83v10.83h-10.83zM234.09 216.09h10.83v10.83h-10.83zM294.08 216.09h10.83v10.83h-10.83zM294.08 231.09h10.83v10.83h-10.83zM339.08 382.08h11.83v10.83h-11.83zM339.08 397.08h11.83v10.83h-11.83zM174.09 548.09h10.83v10.83h-10.83zM324.08 548.09h10.83v10.83h-10.83zM370.08 608.09h10.83v10.83h-10.83zM324.08 1030.09h10.83v10.83h-10.83zM324.08 1045.09h10.83v10.83h-10.83zM189.09 1196.09h10.83v10.83h-10.83zM279.08 1211.09h10.83v10.83h-10.83z"/>
<path fill="#ffc66d" d="M309.08 35.09h10.83v10.83h-10.83zM264.08 156.09h10.83v10.83h-10.83zM234.09 231.09h10.83v10.83h-10.83zM204.09 322.08h10.83v10.83h-10.83zM339.08 427.08h11.83v10.83h-11.83zM339.08 442.08h11.83v10.83h-11.83zM339.08 457.08h11.83v10.83h-11.83zM339.08 472.08h11.83v10.83h-11.83zM339.08 487.08h11.83v11.83h-11.83zM174.09 563.09h10.83v10.83h-10.83zM339.08 909.09h11.83v11.83h-11.83zM339.08 925.09h11.83v10.83h-11.83zM339.08 940.09h11.83v10.83h-11.83zM339.08 955.09h11.83v10.83h-11.83zM324.08 970.09h10.83v10.83h-10.83zM324.08 985.09h10.83v10.83h-10.83zM324.08 1000.09h10.83v10.83h-10.83zM234.09 1196.09h10.83v10.83h-10.83zM249.09 1211.09h10.83v10.83h-10.83z"/>
<path fill="#ff7e44" d="M219.09 50.09h10.83v10.83h-10.83zM189.09 352.08h10.83v10.83h-10.83z"/>
<path fill="#c00a23" d="M234.09 50.09h10.83v10.83h-10.83z"/>
<path fill="#f3fba7" d="M249.09 50.09h10.83v10.83h-10.83zM294.08 292.08h10.83v10.83h-10.83zM294.08 1060.09h10.83v10.83h-10.83z"/>
<path fill="#f65834" d="M264.08 50.09h10.83v10.83h-10.83zM234.09 171.09h10.83v10.83h-10.83zM370.08 382.08h10.83v10.83h-10.83zM385.08 487.08h10.83v11.83h-10.83zM355.08 503.08h10.83v10.83h-10.83zM370.08 940.09h10.83v10.83h-10.83zM400.08 940.09h10.83v10.83h-10.83zM385.08 970.09h10.83v10.83h-10.83z"/>
<path fill="#ffa956" d="M294.08 50.09h10.83v10.83h-10.83zM370.08 593.09h10.83v10.83h-10.83zM279.08 1226.09h10.83v10.83h-10.83z"/>
<path fill="#ffca70" d="M309.08 50.09h10.83v10.83h-10.83z"/>
<path fill="#ff8145" d="M219.09 65.08h10.83v11.83h-10.83zM189.09 367.08h10.83v10.83h-10.83zM189.09 382.08h10.83v10.83h-10.83zM174.09 487.08h10.83v11.83h-10.83zM189.09 1226.09h10.83v10.83h-10.83z"/>
<path fill="#c20c23" d="M234.09 65.08h10.83v11.83h-10.83zM234.09 81.08h10.83v10.83h-10.83z"/>
<path fill="#eef9a1" d="M249.09 65.08h10.83v11.83h-10.83zM309.08 261.08h10.83v10.83h-10.83zM294.08 307.08h10.83v10.83h-10.83zM204.09 382.08h10.83v10.83h-10.83zM294.08 472.08h10.83v10.83h-10.83zM309.08 985.09h10.83v10.83h-10.83zM294.08 1045.09h10.83v10.83h-10.83z"/>
<path fill="#fe693b" d="M264.08 65.08h10.83v11.83h-10.83zM174.09 261.08h10.83v10.83h-10.83zM174.09 276.08h10.83v11.83h-10.83zM174.09 292.08h10.83v10.83h-10.83zM174.09 307.08h10.83v10.83h-10.83zM174.09 322.08h10.83v10.83h-10.83zM174.09 337.08h10.83v10.83h-10.83zM174.09 352.08h10.83v10.83h-10.83zM174.09 367.08h10.83v10.83h-10.83zM174.09 382.08h10.83v10.83h-10.83zM174.09 397.08h10.83v10.83h-10.83zM370.08 397.08h10.83v10.83h-10.83zM174.09 412.08h10.83v10.83h-10.83zM174.09 427.08h10.83v10.83h-10.83zM174.09 442.08h10.83v10.83h-10.83zM174.09 457.08h10.83v10.83h-10.83zM324.08 503.08h10.83v10.83h-10.83zM355.08 518.09h10.83v10.83h-10.83zM355.08 1030.09h10.83v10.83h-10.83zM294.08 1196.09h10.83v10.83h-10.83z"/>
<path fill="#ffa153" d="M294.08 65.08h10.83v11.83h-10.83zM370.08 548.09h10.83v10.83h-10.83zM279.08 1241.09h10.83v10.83h-10.83z"/>
<path fill="#ffcc72" d="M309.08 65.08h10.83v11.83h-10.83zM339.08 503.08h11.83v10.83h-11.83zM339.08 894.09h11.83v10.83h-11.83zM324.08 955.09h10.83v10.83h-10.83z"/>
<path fill="#ff8648" d="M219.09 81.08h10.83v10.83h-10.83zM189.09 397.08h10.83v10.83h-10.83z"/>
<path fill="#e9f79a" d="M249.09 81.08h10.83v10.83h-10.83zM309.08 307.08h10.83v10.83h-10.83zM294.08 322.08h10.83v10.83h-10.83zM309.08 322.08h10.83v10.83h-10.83zM309.08 337.08h10.83v10.83h-10.83zM294.08 457.08h10.83v10.83h-10.83zM294.08 487.08h10.83v11.83h-10.83z"/>
<path fill="#ff9b51" d="M294.08 81.08h10.83v10.83h-10.83zM219.09 111.08h10.83v10.83h-10.83zM264.08 111.08h10.83v10.83h-10.83zM204.09 292.08h10.83v10.83h-10.83zM189.09 427.08h10.83v10.83h-10.83zM189.09 442.08h10.83v10.83h-10.83zM189.09 457.08h10.83v10.83h-10.83zM370.08 472.08h10.83v10.83h-10.83zM370.08 487.08h10.83v11.83h-10.83zM370.08 503.08h10.83v10.83h-10.83zM370.08 518.09h10.83v10.83h-10.83zM174.09 533.09h10.83v10.83h-10.83zM324.08 533.09h10.83v10.83h-10.83zM370.08 533.09h10.83v10.83h-10.83zM355.08 563.09h10.83v10.83h-10.83zM355.08 578.09h10.83v10.83h-10.83zM355.08 593.09h10.83v10.83h-10.83zM355.08 608.09h10.83v10.83h-10.83zM385.08 608.09h10.83v10.83h-10.83zM400.08 608.09h10.83v10.83h-10.83zM355.08 623.09h10.83v10.83h-10.83zM370.08 623.09h10.83v10.83h-10.83zM385.08 623.09h10.83v10.83h-10.83zM400.08 623.09h10.83v10.83h-10.83zM355.08 638.09h10.83v10.83h-10.83zM370.08 638.09h10.83v10.83h-10.83zM385.08 638.09h10.83v10.83h-10.83zM400.08 638.09h10.83v10.83h-10.83zM355.08 653.09h10.83v10.83h-10.83zM370.08 653.09h10.83v10.83h-10.83zM385.08 653.09h10.83v10.83h-10.83zM400.08 653.09h10.83v10.83h-10.83zM355.08 668.09h10.83v10.83h-10.83zM370.08 668.09h10.83v10.83h-10.83zM385.08 668.09h10.83v10.83h-10.83zM400.08 668.09h10.83v10.83h-10.83zM355.08 683.09h10.83v10.83h-10.83zM370.08 683.09h10.83v10.83h-10.83zM385.08 683.09h10.83v10.83h-10.83zM400.08 683.09h10.83v10.83h-10.83zM355.08 698.09h10.83v11.83h-10.83zM370.08 698.09h10.83v11.83h-10.83zM385.08 698.09h10.83v11.83h-10.83zM400.08 698.09h10.83v11.83h-10.83zM355.08 714.09h10.83v10.83h-10.83zM370.08 714.09h10.83v10.83h-10.83zM385.08 714.09h10.83v10.83h-10.83zM400.08 714.09h10.83v10.83h-10.83zM355.08 729.09h10.83v10.83h-10.83zM370.08 729.09h10.83v10.83h-10.83zM385.08 729.09h10.83v10.83h-10.83zM400.08 729.09h10.83v10.83h-10.83zM355.08 744.09h10.83v10.83h-10.83zM370.08 744.09h10.83v10.83h-10.83zM385.08 744.09h10.83v10.83h-10.83zM400.08 744.09h10.83v10.83h-10.83zM355.08 759.09h10.83v10.83h-10.83zM370.08 759.09h10.83v10.83h-10.83zM385.08 759.09h10.83v10.83h-10.83zM400.08 759.09h10.83v10.83h-10.83zM355.08 774.09h10.83v10.83h-10.83zM370.08 774.09h10.83v10.83h-10.83zM385.08 774.09h10.83v10.83h-10.83zM400.08 774.09h10.83v10.83h-10.83zM355.08 789.09h10.83v10.83h-10.83zM370.08 789.09h10.83v10.83h-10.83zM385.08 789.09h10.83v10.83h-10.83zM400.08 789.09h10.83v10.83h-10.83zM355.08 804.09h10.83v10.83h-10.83zM370.08 804.09h10.83v10.83h-10.83zM385.08 804.09h10.83v10.83h-10.83zM400.08 804.09h10.83v10.83h-10.83zM355.08 819.09h10.83v10.83h-10.83zM370.08 819.09h10.83v10.83h-10.83zM385.08 819.09h10.83v10.83h-10.83zM400.08 819.09h10.83v10.83h-10.83zM355.08 834.09h10.83v10.83h-10.83zM370.08 834.09h10.83v10.83h-10.83zM385.08 834.09h10.83v10.83h-10.83zM400.08 834.09h10.83v10.83h-10.83zM355.08 849.09h10.83v10.83h-10.83zM370.08 849.09h10.83v10.83h-10.83zM385.08 849.09h10.83v10.83h-10.83zM400.08 849.09h10.83v10.83h-10.83zM355.08 864.09h10.83v10.83h-10.83zM370.08 864.09h10.83v10.83h-10.83zM385.08 864.09h10.83v10.83h-10.83zM400.08 864.09h10.83v10.83h-10.83zM355.08 879.09h10.83v10.83h-10.83zM370.08 879.09h10.83v10.83h-10.83zM385.08 879.09h10.83v10.83h-10.83zM400.08 879.09h10.83v10.83h-10.83zM355.08 894.09h10.83v10.83h-10.83zM370.08 894.09h10.83v10.83h-10.83zM385.08 894.09h10.83v10.83h-10.83zM400.08 894.09h10.83v10.83h-10.83zM355.08 909.09h10.83v11.83h-10.83zM385.08 909.09h10.83v11.83h-10.83zM400.08 909.09h10.83v11.83h-10.83zM355.08 925.09h10.83v10.83h-10.83zM355.08 940.09h10.83v10.83h-10.83zM355.08 955.09h10.83v10.83h-10.83zM355.08 970.09h10.83v10.83h-10.83zM355.08 985.09h10.83v10.83h-10.83zM264.08 1181.09h10.83v10.83h-10.83zM309.08 1181.09h10.83v10.83h-10.83zM264.08 1196.09h10.83v10.83h-10.83zM219.09 1211.09h10.83v10.83h-10.83zM264.08 1211.09h10.83v10.83h-10.83zM264.08 1226.09h10.83v10.83h-10.83zM264.08 1241.09h10.83v10.83h-10.83zM264.08 1256.09h10.83v10.83h-10.83zM279.08 1256.09h10.83v10.83h-10.83zM264.08 1271.09h10.83v10.83h-10.83zM279.08 1271.09h10.83v10.83h-10.83zM264.08 1286.09h10.83v10.83h-10.83zM279.08 1286.09h10.83v10.83h-10.83zM264.08 1301.09h10.83v10.83h-10.83zM279.08 1301.09h10.83v10.83h-10.83zM264.08 1316.09h10.83v10.83h-10.83zM279.08 1316.09h10.83v10.83h-10.83zM264.08 1331.09h10.83v11.83h-10.83zM279.08 1331.09h10.83v11.83h-10.83zM264.08 1347.09h10.83v10.83h-10.83zM279.08 1347.09h10.83v10.83h-10.83zM264.08 1362.09h10.83v10.83h-10.83zM279.08 1362.09h10.83v10.83h-10.83zM264.08 1377.09h10.83v10.83h-10.83zM279.08 1377.09h10.83v10.83h-10.83zM264.08 1392.09h10.83v10.83h-10.83zM279.08 1392.09h10.83v10.83h-10.83z"/>
<path fill="#ffd075" d="M309.08 81.08h10.83v10.83h-10.83z"/>
<path fill="#ff8c4a" d="M219.09 96.08h10.83v10.83h-10.83zM264.08 96.08h10.83v10.83h-10.83zM234.09 201.09h10.83v10.83h-10.83zM204.09 261.08h10.83v10.83h-10.83zM339.08 367.08h11.83v10.83h-11.83zM189.09 412.08h10.83v10.83h-10.83zM370.08 427.08h10.83v10.83h-10.83zM400.08 487.08h10.83v11.83h-10.83zM174.09 503.08h10.83v10.83h-10.83zM400.08 503.08h10.83v10.83h-10.83zM385.08 518.09h10.83v10.83h-10.83zM355.08 533.09h10.83v10.83h-10.83zM385.08 533.09h10.83v10.83h-10.83zM355.08 548.09h10.83v10.83h-10.83zM370.08 909.09h10.83v11.83h-10.83zM400.08 925.09h10.83v10.83h-10.83zM385.08 940.09h10.83v10.83h-10.83zM385.08 955.09h10.83v10.83h-10.83zM355.08 1000.09h10.83v10.83h-10.83zM204.09 1181.09h10.83v10.83h-10.83zM204.09 1196.09h10.83v10.83h-10.83zM189.09 1211.09h10.83v10.83h-10.83zM204.09 1211.09h10.83v10.83h-10.83zM219.09 1241.09h10.83v10.83h-10.83z"/>
<path fill="#d01922" d="M234.09 96.08h10.83v10.83h-10.83z"/>
<path fill="#e6f696" d="M249.09 96.08h10.83v10.83h-10.83zM294.08 337.08h10.83v10.83h-10.83zM309.08 352.08h10.83v10.83h-10.83zM309.08 367.08h10.83v10.83h-10.83zM294.08 442.08h10.83v10.83h-10.83z"/>
<path fill="#ffa354" d="M294.08 96.08h10.83v10.83h-10.83zM370.08 563.09h10.83v10.83h-10.83zM370.08 578.09h10.83v10.83h-10.83z"/>
<path fill="#ffd479" d="M309.08 96.08h10.83v10.83h-10.83zM219.09 141.09h10.83v10.83h-10.83zM264.08 171.09h10.83v10.83h-10.83zM309.08 216.09h10.83v10.83h-10.83zM309.08 231.09h10.83v10.83h-10.83zM234.09 246.09h10.83v10.83h-10.83zM309.08 246.09h10.83v10.83h-10.83zM204.09 337.08h10.83v10.83h-10.83zM339.08 518.09h11.83v10.83h-11.83zM324.08 578.09h10.83v10.83h-10.83zM339.08 879.09h11.83v10.83h-11.83zM324.08 940.09h10.83v10.83h-10.83zM219.09 1181.09h10.83v10.83h-10.83zM234.09 1181.09h10.83v10.83h-10.83z"/>
<path fill="#d61f22" d="M234.09 111.08h10.83v10.83h-10.83zM324.08 442.08h10.83v10.83h-10.83zM400.08 442.08h10.83v10.83h-10.83zM370.08 985.09h10.83v10.83h-10.83zM385.08 985.09h10.83v10.83h-10.83z"/>
<path fill="#e2f490" d="M249.09 111.08h10.83v10.83h-10.83zM294.08 352.08h10.83v10.83h-10.83zM294.08 367.08h10.83v10.83h-10.83zM294.08 382.08h10.83v10.83h-10.83zM294.08 397.08h10.83v10.83h-10.83zM294.08 412.08h10.83v10.83h-10.83zM309.08 412.08h10.83v10.83h-10.83zM294.08 427.08h10.83v10.83h-10.83zM294.08 503.08h10.83v10.83h-10.83zM189.09 533.09h10.83v10.83h-10.83zM189.09 744.09h10.83v10.83h-10.83zM189.09 759.09h10.83v10.83h-10.83zM189.09 774.09h10.83v10.83h-10.83zM189.09 789.09h10.83v10.83h-10.83zM189.09 804.09h10.83v10.83h-10.83zM309.08 970.09h10.83v10.83h-10.83zM294.08 1030.09h10.83v10.83h-10.83zM174.09 1166.09h10.83v10.83h-10.83z"/>
<path fill="#ffe387" d="M279.08 111.08h10.83v10.83h-10.83zM339.08 548.09h11.83v10.83h-11.83zM339.08 834.09h11.83v10.83h-11.83zM324.08 894.09h10.83v10.83h-10.83z"/>
<path fill="#ffd67a" d="M309.08 111.08h10.83v10.83h-10.83zM309.08 186.09h10.83v10.83h-10.83zM309.08 201.09h10.83v10.83h-10.83z"/>
<path fill="#ffba63" d="M219.09 126.08h10.83v10.83h-10.83zM264.08 141.09h10.83v10.83h-10.83zM294.08 171.09h10.83v10.83h-10.83zM294.08 246.09h10.83v10.83h-10.83zM204.09 307.08h10.83v10.83h-10.83zM339.08 412.08h11.83v10.83h-11.83zM189.09 472.08h10.83v10.83h-10.83zM324.08 563.09h10.83v10.83h-10.83zM339.08 970.09h11.83v10.83h-11.83zM324.08 1015.09h10.83v10.83h-10.83zM189.09 1181.09h10.83v10.83h-10.83zM219.09 1196.09h10.83v10.83h-10.83zM279.08 1196.09h10.83v10.83h-10.83zM234.09 1211.09h10.83v10.83h-10.83zM234.09 1226.09h10.83v10.83h-10.83zM234.09 1241.09h10.83v10.83h-10.83zM234.09 1256.09h10.83v10.83h-10.83zM249.09 1256.09h10.83v10.83h-10.83zM234.09 1271.09h10.83v10.83h-10.83zM249.09 1271.09h10.83v10.83h-10.83zM234.09 1286.09h10.83v10.83h-10.83zM249.09 1286.09h10.83v10.83h-10.83zM234.09 1301.09h10.83v10.83h-10.83zM249.09 1301.09h10.83v10.83h-10.83zM234.09 1316.09h10.83v10.83h-10.83zM249.09 1316.09h10.83v10.83h-10.83zM234.09 1331.09h10.83v11.83h-10.83zM249.09 1331.09h10.83v11.83h-10.83zM234.09 1347.09h10.83v10.83h-10.83zM249.09 1347.09h10.83v10.83h-10.83zM234.09 1362.09h10.83v10.83h-10.83zM249.09 1362.09h10.83v10.83h-10.83zM234.09 1377.09h10.83v10.83h-10.83zM249.09 1377.09h10.83v10.83h-10.83zM234.09 1392.09h10.83v10.83h-10.83zM249.09 1392.09h10.83v10.83h-10.83z"/>
<path fill="#dc2422" d="M234.09 126.08h10.83v10.83h-10.83z"/>
<path fill="#daf185" d="M249.09 126.08h10.83v10.83h-10.83z"/>
<path fill="#ffe489" d="M279.08 126.08h10.83v10.83h-10.83zM294.08 1166.09h10.83v10.83h-10.83z"/>
<path fill="#ffb05a" d="M294.08 126.08h10.83v10.83h-10.83zM294.08 201.09h10.83v10.83h-10.83z"/>
<path fill="#ffda7e" d="M309.08 126.08h10.83v10.83h-10.83zM309.08 171.09h10.83v10.83h-10.83zM264.08 186.09h10.83v10.83h-10.83zM339.08 864.09h11.83v10.83h-11.83zM324.08 925.09h10.83v10.83h-10.83z"/>
<path fill="#ea3b28" d="M234.09 141.09h10.83v10.83h-10.83zM370.08 367.08h10.83v10.83h-10.83zM324.08 472.08h10.83v10.83h-10.83zM355.08 472.08h10.83v10.83h-10.83zM400.08 955.09h10.83v10.83h-10.83zM370.08 970.09h10.83v10.83h-10.83z"/>
<path fill="#d4ef80" d="M249.09 141.09h10.83v10.83h-10.83zM309.08 442.08h10.83v10.83h-10.83zM294.08 548.09h10.83v10.83h-10.83zM279.08 1075.09h10.83v10.83h-10.83zM279.08 1090.09h10.83v10.83h-10.83zM264.08 1120.09h10.83v11.83h-10.83zM264.08 1136.09h10.83v10.83h-10.83zM264.08 1151.09h10.83v10.83h-10.83z"/>
<path fill="#ffe68d" d="M279.08 141.09h10.83v10.83h-10.83zM219.09 171.09h10.83v10.83h-10.83zM264.08 216.09h10.83v10.83h-10.83zM264.08 231.09h10.83v10.83h-10.83zM189.09 503.08h10.83v10.83h-10.83zM339.08 563.09h11.83v10.83h-11.83zM324.08 608.09h10.83v10.83h-10.83zM324.08 623.09h10.83v10.83h-10.83zM339.08 819.09h11.83v10.83h-11.83zM324.08 879.09h10.83v10.83h-10.83z"/>
<path fill="#ffb45e" d="M294.08 141.09h10.83v10.83h-10.83z"/>
<path fill="#caeb7a" d="M249.09 156.09h10.83v10.83h-10.83zM249.09 246.09h10.83v10.83h-10.83zM234.09 261.08h10.83v10.83h-10.83zM264.08 307.08h10.83v10.83h-10.83zM204.09 397.08h10.83v10.83h-10.83zM309.08 503.08h10.83v10.83h-10.83zM294.08 578.09h10.83v10.83h-10.83zM174.09 744.09h10.83v10.83h-10.83zM174.09 804.09h10.83v10.83h-10.83zM309.08 940.09h10.83v10.83h-10.83zM294.08 1000.09h10.83v10.83h-10.83zM264.08 1075.09h10.83v10.83h-10.83zM279.08 1151.09h10.83v10.83h-10.83z"/>
<path fill="#ffee9a" d="M279.08 156.09h10.83v10.83h-10.83zM219.09 186.09h10.83v10.83h-10.83zM219.09 201.09h10.83v10.83h-10.83zM219.09 216.09h10.83v10.83h-10.83zM264.08 246.09h10.83v10.83h-10.83zM339.08 578.09h11.83v10.83h-11.83zM339.08 593.09h11.83v10.83h-11.83zM339.08 623.09h11.83v10.83h-11.83zM324.08 653.09h10.83v10.83h-10.83zM324.08 849.09h10.83v10.83h-10.83z"/>
<path fill="#ffb65f" d="M294.08 156.09h10.83v10.83h-10.83zM294.08 186.09h10.83v10.83h-10.83z"/>
<path fill="#ffdc7f" d="M309.08 156.09h10.83v10.83h-10.83z"/>
<path fill="#c4e976" d="M249.09 171.09h10.83v10.83h-10.83zM309.08 533.09h10.83v10.83h-10.83zM309.08 548.09h10.83v10.83h-10.83zM279.08 1015.09h10.83v10.83h-10.83zM264.08 1045.09h10.83v10.83h-10.83z"/>
<path fill="#fff4a5" d="M279.08 171.09h10.83v10.83h-10.83zM219.09 231.09h10.83v10.83h-10.83zM204.09 367.08h10.83v10.83h-10.83zM339.08 608.09h11.83v10.83h-11.83zM339.08 653.09h11.83v10.83h-11.83zM339.08 668.09h11.83v10.83h-11.83zM324.08 683.09h10.83v10.83h-10.83zM339.08 683.09h11.83v10.83h-11.83zM339.08 804.09h11.83v10.83h-11.83zM324.08 819.09h10.83v10.83h-10.83z"/>
<path fill="#c2e875" d="M249.09 186.09h10.83v10.83h-10.83zM264.08 322.08h10.83v10.83h-10.83zM309.08 563.09h10.83v10.83h-10.83zM294.08 593.09h10.83v10.83h-10.83zM294.08 985.09h10.83v10.83h-10.83z"/>
<path fill="#fff8ab" d="M279.08 186.09h10.83v10.83h-10.83zM339.08 774.09h11.83v10.83h-11.83z"/>
<path fill="#b9e46f" d="M249.09 201.09h10.83v10.83h-10.83zM249.09 216.09h10.83v10.83h-10.83zM249.09 231.09h10.83v10.83h-10.83zM234.09 276.08h10.83v11.83h-10.83zM264.08 337.08h10.83v10.83h-10.83zM189.09 563.09h10.83v10.83h-10.83zM294.08 608.09h10.83v10.83h-10.83zM309.08 608.09h10.83v10.83h-10.83zM294.08 623.09h10.83v10.83h-10.83zM174.09 819.09h10.83v10.83h-10.83zM189.09 819.09h10.83v10.83h-10.83zM294.08 925.09h10.83v10.83h-10.83zM309.08 925.09h10.83v10.83h-10.83zM294.08 940.09h10.83v10.83h-10.83zM294.08 955.09h10.83v10.83h-10.83zM294.08 970.09h10.83v10.83h-10.83zM189.09 1136.09h10.83v10.83h-10.83zM174.09 1151.09h10.83v10.83h-10.83zM189.09 1151.09h10.83v10.83h-10.83zM234.09 1166.09h10.83v10.83h-10.83z"/>
<path fill="#fffbb2" d="M279.08 201.09h10.83v10.83h-10.83zM279.08 216.09h10.83v10.83h-10.83zM219.09 246.09h10.83v10.83h-10.83zM294.08 261.08h10.83v10.83h-10.83zM189.09 518.09h10.83v10.83h-10.83zM174.09 593.09h10.83v10.83h-10.83zM324.08 698.09h10.83v11.83h-10.83zM339.08 698.09h11.83v11.83h-11.83zM339.08 729.09h11.83v10.83h-11.83zM324.08 744.09h10.83v10.83h-10.83zM339.08 744.09h11.83v10.83h-11.83zM324.08 759.09h10.83v10.83h-10.83zM324.08 774.09h10.83v10.83h-10.83zM324.08 789.09h10.83v10.83h-10.83zM324.08 804.09h10.83v10.83h-10.83zM249.09 1181.09h10.83v10.83h-10.83z"/>
<path fill="#a0da61" d="M219.09 261.08h10.83v10.83h-10.83zM279.08 261.08h10.83v10.83h-10.83zM279.08 276.08h10.83v11.83h-10.83zM234.09 292.08h10.83v10.83h-10.83zM264.08 412.08h10.83v10.83h-10.83zM264.08 427.08h10.83v10.83h-10.83zM264.08 442.08h10.83v10.83h-10.83zM264.08 457.08h10.83v10.83h-10.83zM264.08 472.08h10.83v10.83h-10.83zM264.08 487.08h10.83v11.83h-10.83zM264.08 503.08h10.83v10.83h-10.83zM264.08 518.09h10.83v10.83h-10.83zM264.08 533.09h10.83v10.83h-10.83zM264.08 548.09h10.83v10.83h-10.83zM264.08 563.09h10.83v10.83h-10.83zM189.09 578.09h10.83v10.83h-10.83zM264.08 578.09h10.83v10.83h-10.83zM264.08 593.09h10.83v10.83h-10.83zM264.08 608.09h10.83v10.83h-10.83zM309.08 653.09h10.83v10.83h-10.83zM294.08 683.09h10.83v10.83h-10.83zM294.08 774.09h10.83v10.83h-10.83zM309.08 774.09h10.83v10.83h-10.83zM294.08 819.09h10.83v10.83h-10.83zM309.08 819.09h10.83v10.83h-10.83zM174.09 879.09h10.83v10.83h-10.83zM189.09 894.09h10.83v10.83h-10.83zM264.08 955.09h10.83v10.83h-10.83zM279.08 955.09h10.83v10.83h-10.83zM174.09 1120.09h10.83v11.83h-10.83zM174.09 1136.09h10.83v10.83h-10.83zM219.09 1151.09h10.83v10.83h-10.83zM234.09 1151.09h10.83v10.83h-10.83z"/>
<path fill="#39ae55" d="M249.09 261.08h10.83v10.83h-10.83zM249.09 276.08h10.83v11.83h-10.83zM219.09 337.08h10.83v10.83h-10.83zM234.09 397.08h10.83v10.83h-10.83zM234.09 412.08h10.83v10.83h-10.83zM234.09 427.08h10.83v10.83h-10.83zM249.09 427.08h10.83v10.83h-10.83zM249.09 442.08h10.83v10.83h-10.83zM249.09 457.08h10.83v10.83h-10.83zM204.09 472.08h10.83v10.83h-10.83zM249.09 472.08h10.83v10.83h-10.83zM219.09 548.09h10.83v10.83h-10.83zM204.09 563.09h10.83v10.83h-10.83zM234.09 683.09h10.83v10.83h-10.83zM279.08 683.09h10.83v10.83h-10.83zM264.08 698.09h10.83v11.83h-10.83zM219.09 729.09h10.83v10.83h-10.83zM264.08 729.09h10.83v10.83h-10.83zM279.08 729.09h10.83v10.83h-10.83zM204.09 744.09h10.83v10.83h-10.83zM249.09 744.09h10.83v10.83h-10.83zM249.09 759.09h10.83v10.83h-10.83zM234.09 804.09h10.83v10.83h-10.83zM234.09 819.09h10.83v10.83h-10.83zM234.09 834.09h10.83v10.83h-10.83zM234.09 849.09h10.83v10.83h-10.83zM234.09 864.09h10.83v10.83h-10.83zM234.09 879.09h10.83v10.83h-10.83z"/>
<path fill="#d9f183" d="M264.08 261.08h10.83v10.83h-10.83zM264.08 276.08h10.83v11.83h-10.83zM309.08 427.08h10.83v10.83h-10.83zM294.08 533.09h10.83v10.83h-10.83zM189.09 548.09h10.83v10.83h-10.83zM174.09 608.09h10.83v10.83h-10.83zM174.09 759.09h10.83v10.83h-10.83zM174.09 774.09h10.83v10.83h-10.83zM174.09 789.09h10.83v10.83h-10.83zM309.08 955.09h10.83v10.83h-10.83zM294.08 1015.09h10.83v10.83h-10.83zM279.08 1105.09h10.83v10.83h-10.83zM279.08 1120.09h10.83v11.83h-10.83zM279.08 1136.09h10.83v10.83h-10.83zM189.09 1166.09h10.83v10.83h-10.83zM204.09 1166.09h10.83v10.83h-10.83z"/>
<path fill="#ff944d" d="M204.09 276.08h10.83v11.83h-10.83zM174.09 518.09h10.83v10.83h-10.83zM400.08 548.09h10.83v10.83h-10.83zM385.08 563.09h10.83v10.83h-10.83zM400.08 563.09h10.83v10.83h-10.83zM385.08 578.09h10.83v10.83h-10.83zM385.08 925.09h10.83v10.83h-10.83zM219.09 1226.09h10.83v10.83h-10.83z"/>
<path fill="#8dd360" d="M219.09 276.08h10.83v11.83h-10.83zM234.09 307.08h10.83v10.83h-10.83zM279.08 337.08h10.83v10.83h-10.83zM204.09 427.08h10.83v10.83h-10.83zM279.08 427.08h10.83v10.83h-10.83zM279.08 442.08h10.83v10.83h-10.83zM279.08 457.08h10.83v10.83h-10.83zM279.08 472.08h10.83v10.83h-10.83zM279.08 487.08h10.83v11.83h-10.83zM279.08 503.08h10.83v10.83h-10.83zM279.08 518.09h10.83v10.83h-10.83zM279.08 533.09h10.83v10.83h-10.83zM279.08 548.09h10.83v10.83h-10.83zM279.08 563.09h10.83v10.83h-10.83zM279.08 578.09h10.83v10.83h-10.83zM189.09 593.09h10.83v10.83h-10.83zM279.08 593.09h10.83v10.83h-10.83zM189.09 608.09h10.83v10.83h-10.83zM279.08 608.09h10.83v10.83h-10.83zM174.09 638.09h10.83v10.83h-10.83zM309.08 683.09h10.83v10.83h-10.83zM294.08 698.09h10.83v11.83h-10.83zM309.08 729.09h10.83v10.83h-10.83zM294.08 744.09h10.83v10.83h-10.83zM309.08 744.09h10.83v10.83h-10.83zM174.09 909.09h10.83v11.83h-10.83zM264.08 909.09h10.83v11.83h-10.83zM279.08 909.09h10.83v11.83h-10.83zM174.09 925.09h10.83v10.83h-10.83zM174.09 940.09h10.83v10.83h-10.83zM174.09 955.09h10.83v10.83h-10.83zM174.09 970.09h10.83v10.83h-10.83zM174.09 985.09h10.83v10.83h-10.83zM174.09 1000.09h10.83v10.83h-10.83zM219.09 1000.09h10.83v10.83h-10.83zM174.09 1015.09h10.83v10.83h-10.83zM219.09 1015.09h10.83v10.83h-10.83zM174.09 1030.09h10.83v10.83h-10.83zM219.09 1030.09h10.83v10.83h-10.83zM174.09 1045.09h10.83v10.83h-10.83zM219.09 1045.09h10.83v10.83h-10.83zM174.09 1060.09h10.83v10.83h-10.83zM219.09 1060.09h10.83v10.83h-10.83zM174.09 1075.09h10.83v10.83h-10.83zM219.09 1075.09h10.83v10.83h-10.83zM174.09 1090.09h10.83v10.83h-10.83zM219.09 1090.09h10.83v10.83h-10.83zM174.09 1105.09h10.83v10.83h-10.83zM219.09 1105.09h10.83v10.83h-10.83zM219.09 1120.09h10.83v11.83h-10.83zM204.09 1136.09h10.83v10.83h-10.83zM219.09 1136.09h10.83v10.83h-10.83zM234.09 1136.09h10.83v10.83h-10.83z"/>
<path fill="#edf89f" d="M309.08 276.08h10.83v11.83h-10.83zM309.08 292.08h10.83v10.83h-10.83z"/>
<path fill="#7ecc5f" d="M219.09 292.08h10.83v10.83h-10.83zM234.09 322.08h10.83v10.83h-10.83zM279.08 412.08h10.83v10.83h-10.83zM204.09 442.08h10.83v10.83h-10.83zM234.09 608.09h10.83v10.83h-10.83zM249.09 608.09h10.83v10.83h-10.83zM189.09 623.09h10.83v10.83h-10.83zM234.09 623.09h10.83v10.83h-10.83zM264.08 623.09h10.83v10.83h-10.83zM189.09 638.09h10.83v10.83h-10.83zM234.09 638.09h10.83v10.83h-10.83zM174.09 653.09h10.83v10.83h-10.83zM234.09 653.09h10.83v10.83h-10.83zM309.08 698.09h10.83v11.83h-10.83zM174.09 729.09h10.83v10.83h-10.83zM294.08 729.09h10.83v10.83h-10.83zM264.08 864.09h10.83v10.83h-10.83zM279.08 864.09h10.83v10.83h-10.83zM219.09 940.09h10.83v10.83h-10.83zM249.09 1000.09h10.83v10.83h-10.83zM204.09 1120.09h10.83v11.83h-10.83zM234.09 1120.09h10.83v11.83h-10.83z"/>
<path fill="#23a451" d="M249.09 292.08h10.83v10.83h-10.83zM249.09 307.08h10.83v10.83h-10.83zM249.09 322.08h10.83v10.83h-10.83zM219.09 352.08h10.83v10.83h-10.83zM219.09 367.08h10.83v10.83h-10.83zM219.09 382.08h10.83v10.83h-10.83zM249.09 412.08h10.83v10.83h-10.83zM204.09 487.08h10.83v11.83h-10.83zM204.09 503.08h10.83v10.83h-10.83zM204.09 518.09h10.83v10.83h-10.83zM219.09 518.09h10.83v10.83h-10.83zM204.09 533.09h10.83v10.83h-10.83zM204.09 548.09h10.83v10.83h-10.83zM249.09 683.09h10.83v10.83h-10.83zM189.09 698.09h10.83v11.83h-10.83zM204.09 698.09h10.83v11.83h-10.83zM279.08 698.09h10.83v11.83h-10.83zM264.08 714.09h10.83v10.83h-10.83zM279.08 714.09h10.83v10.83h-10.83zM249.09 729.09h10.83v10.83h-10.83zM234.09 759.09h10.83v10.83h-10.83zM234.09 774.09h10.83v10.83h-10.83z"/>
<path fill="#d2ee7f" d="M264.08 292.08h10.83v10.83h-10.83zM309.08 457.08h10.83v10.83h-10.83zM279.08 1060.09h10.83v10.83h-10.83zM264.08 1105.09h10.83v10.83h-10.83z"/>
<path fill="#9bd861" d="M279.08 292.08h10.83v10.83h-10.83zM264.08 940.09h10.83v10.83h-10.83zM279.08 940.09h10.83v10.83h-10.83z"/>
<path fill="#71c75f" d="M219.09 307.08h10.83v10.83h-10.83zM234.09 337.08h10.83v10.83h-10.83zM249.09 563.09h10.83v10.83h-10.83zM234.09 578.09h10.83v10.83h-10.83zM204.09 608.09h10.83v10.83h-10.83zM249.09 623.09h10.83v10.83h-10.83zM279.08 623.09h10.83v10.83h-10.83zM249.09 638.09h10.83v10.83h-10.83zM189.09 653.09h10.83v10.83h-10.83zM204.09 653.09h10.83v10.83h-10.83zM219.09 653.09h10.83v10.83h-10.83zM249.09 653.09h10.83v10.83h-10.83zM264.08 653.09h10.83v10.83h-10.83zM174.09 668.09h10.83v10.83h-10.83zM189.09 668.09h10.83v10.83h-10.83zM204.09 668.09h10.83v10.83h-10.83zM219.09 668.09h10.83v10.83h-10.83zM234.09 668.09h10.83v10.83h-10.83zM174.09 683.09h10.83v10.83h-10.83zM189.09 683.09h10.83v10.83h-10.83zM294.08 714.09h10.83v10.83h-10.83zM309.08 714.09h10.83v10.83h-10.83zM219.09 759.09h10.83v10.83h-10.83zM219.09 774.09h10.83v10.83h-10.83zM219.09 789.09h10.83v10.83h-10.83zM219.09 804.09h10.83v10.83h-10.83zM264.08 804.09h10.83v10.83h-10.83zM279.08 804.09h10.83v10.83h-10.83zM219.09 819.09h10.83v10.83h-10.83zM264.08 819.09h10.83v10.83h-10.83zM279.08 819.09h10.83v10.83h-10.83zM219.09 834.09h10.83v10.83h-10.83zM219.09 849.09h10.83v10.83h-10.83zM219.09 864.09h10.83v10.83h-10.83zM219.09 879.09h10.83v10.83h-10.83zM219.09 894.09h10.83v10.83h-10.83zM204.09 940.09h10.83v10.83h-10.83zM249.09 940.09h10.83v10.83h-10.83zM204.09 955.09h10.83v10.83h-10.83zM204.09 970.09h10.83v10.83h-10.83zM204.09 985.09h10.83v10.83h-10.83zM204.09 1000.09h10.83v10.83h-10.83zM204.09 1015.09h10.83v10.83h-10.83zM234.09 1015.09h10.83v10.83h-10.83zM249.09 1015.09h10.83v10.83h-10.83zM204.09 1030.09h10.83v10.83h-10.83zM234.09 1030.09h10.83v10.83h-10.83zM249.09 1030.09h10.83v10.83h-10.83zM204.09 1045.09h10.83v10.83h-10.83zM234.09 1045.09h10.83v10.83h-10.83zM249.09 1045.09h10.83v10.83h-10.83zM204.09 1060.09h10.83v10.83h-10.83zM234.09 1060.09h10.83v10.83h-10.83zM249.09 1060.09h10.83v10.83h-10.83zM204.09 1075.09h10.83v10.83h-10.83zM234.09 1075.09h10.83v10.83h-10.83zM249.09 1075.09h10.83v10.83h-10.83zM204.09 1090.09h10.83v10.83h-10.83zM249.09 1090.09h10.83v10.83h-10.83zM204.09 1105.09h10.83v10.83h-10.83zM249.09 1105.09h10.83v10.83h-10.83zM249.09 1120.09h10.83v11.83h-10.83zM249.09 1136.09h10.83v10.83h-10.83zM249.09 1151.09h10.83v10.83h-10.83zM249.09 1166.09h10.83v10.83h-10.83z"/>
<path fill="#95d661" d="M279.08 307.08h10.83v10.83h-10.83zM309.08 668.09h10.83v10.83h-10.83zM294.08 759.09h10.83v10.83h-10.83zM309.08 759.09h10.83v10.83h-10.83zM174.09 894.09h10.83v10.83h-10.83z"/>
<path fill="#61c15e" d="M219.09 322.08h10.83v10.83h-10.83zM234.09 352.08h10.83v10.83h-10.83zM234.09 367.08h10.83v10.83h-10.83zM204.09 457.08h10.83v10.83h-10.83zM249.09 533.09h10.83v10.83h-10.83zM234.09 548.09h10.83v10.83h-10.83zM204.09 593.09h10.83v10.83h-10.83zM219.09 593.09h10.83v10.83h-10.83zM219.09 608.09h10.83v10.83h-10.83zM204.09 623.09h10.83v10.83h-10.83zM219.09 623.09h10.83v10.83h-10.83zM279.08 653.09h10.83v10.83h-10.83zM204.09 683.09h10.83v10.83h-10.83zM264.08 683.09h10.83v10.83h-10.83zM219.09 744.09h10.83v10.83h-10.83zM264.08 774.09h10.83v10.83h-10.83zM279.08 774.09h10.83v10.83h-10.83zM204.09 894.09h10.83v10.83h-10.83zM249.09 894.09h10.83v10.83h-10.83zM234.09 955.09h10.83v10.83h-10.83zM234.09 970.09h10.83v10.83h-10.83zM234.09 985.09h10.83v10.83h-10.83zM234.09 1000.09h10.83v10.83h-10.83z"/>
<path fill="#93d561" d="M279.08 322.08h10.83v10.83h-10.83zM264.08 925.09h10.83v10.83h-10.83zM279.08 925.09h10.83v10.83h-10.83z"/>
<path fill="#20a350" d="M249.09 337.08h10.83v10.83h-10.83zM249.09 352.08h10.83v10.83h-10.83zM249.09 367.08h10.83v10.83h-10.83zM249.09 382.08h10.83v10.83h-10.83zM219.09 397.08h10.83v10.83h-10.83zM249.09 397.08h10.83v10.83h-10.83zM219.09 412.08h10.83v10.83h-10.83zM219.09 427.08h10.83v10.83h-10.83zM219.09 442.08h10.83v10.83h-10.83zM219.09 457.08h10.83v10.83h-10.83zM219.09 472.08h10.83v10.83h-10.83zM219.09 503.08h10.83v10.83h-10.83z"/>
<path fill="#b3e26b" d="M264.08 352.08h10.83v10.83h-10.83zM294.08 638.09h10.83v10.83h-10.83zM174.09 834.09h10.83v10.83h-10.83zM189.09 834.09h10.83v10.83h-10.83zM294.08 894.09h10.83v10.83h-10.83z"/>
<path fill="#8bd260" d="M279.08 352.08h10.83v10.83h-10.83zM279.08 367.08h10.83v10.83h-10.83zM264.08 894.09h10.83v10.83h-10.83zM279.08 894.09h10.83v10.83h-10.83zM219.09 985.09h10.83v10.83h-10.83z"/>
<path fill="#e22a21" d="M339.08 352.08h11.83v10.83h-11.83zM324.08 457.08h10.83v10.83h-10.83zM355.08 457.08h10.83v10.83h-10.83zM385.08 472.08h10.83v10.83h-10.83zM339.08 1000.09h11.83v10.83h-11.83zM355.08 1060.09h10.83v10.83h-10.83zM324.08 1075.09h10.83v10.83h-10.83z"/>
<path fill="#c81123" d="M370.08 352.08h10.83v10.83h-10.83zM324.08 427.08h10.83v10.83h-10.83zM355.08 442.08h10.83v10.83h-10.83zM400.08 970.09h10.83v10.83h-10.83zM370.08 1000.09h10.83v10.83h-10.83zM355.08 1075.09h10.83v10.83h-10.83z"/>
<path fill="#addf68" d="M264.08 367.08h10.83v10.83h-10.83zM204.09 412.08h10.83v10.83h-10.83zM174.09 623.09h10.83v10.83h-10.83zM309.08 623.09h10.83v10.83h-10.83zM294.08 653.09h10.83v10.83h-10.83zM189.09 729.09h10.83v10.83h-10.83zM294.08 804.09h10.83v10.83h-10.83zM309.08 804.09h10.83v10.83h-10.83zM174.09 849.09h10.83v10.83h-10.83zM189.09 849.09h10.83v10.83h-10.83zM294.08 864.09h10.83v10.83h-10.83zM309.08 864.09h10.83v10.83h-10.83zM309.08 879.09h10.83v10.83h-10.83zM309.08 894.09h10.83v10.83h-10.83zM309.08 909.09h10.83v11.83h-10.83zM189.09 1000.09h10.83v10.83h-10.83zM264.08 1000.09h10.83v10.83h-10.83zM279.08 1000.09h10.83v10.83h-10.83zM189.09 1015.09h10.83v10.83h-10.83zM189.09 1030.09h10.83v10.83h-10.83zM189.09 1045.09h10.83v10.83h-10.83zM189.09 1060.09h10.83v10.83h-10.83zM189.09 1075.09h10.83v10.83h-10.83zM189.09 1090.09h10.83v10.83h-10.83zM204.09 1151.09h10.83v10.83h-10.83zM219.09 1166.09h10.83v10.83h-10.83z"/>
<path fill="#4bb759" d="M234.09 382.08h10.83v10.83h-10.83zM234.09 487.08h10.83v11.83h-10.83zM234.09 503.08h10.83v10.83h-10.83zM249.09 503.08h10.83v10.83h-10.83zM234.09 518.09h10.83v10.83h-10.83zM219.09 563.09h10.83v10.83h-10.83zM204.09 578.09h10.83v10.83h-10.83zM219.09 578.09h10.83v10.83h-10.83zM249.09 668.09h10.83v10.83h-10.83zM279.08 668.09h10.83v10.83h-10.83zM219.09 683.09h10.83v10.83h-10.83zM174.09 698.09h10.83v11.83h-10.83zM264.08 744.09h10.83v10.83h-10.83zM279.08 744.09h10.83v10.83h-10.83zM204.09 759.09h10.83v10.83h-10.83zM204.09 774.09h10.83v10.83h-10.83zM204.09 789.09h10.83v10.83h-10.83zM204.09 804.09h10.83v10.83h-10.83zM249.09 804.09h10.83v10.83h-10.83zM204.09 819.09h10.83v10.83h-10.83zM249.09 819.09h10.83v10.83h-10.83zM204.09 834.09h10.83v10.83h-10.83zM249.09 834.09h10.83v10.83h-10.83zM204.09 849.09h10.83v10.83h-10.83zM249.09 849.09h10.83v10.83h-10.83zM204.09 864.09h10.83v10.83h-10.83zM249.09 864.09h10.83v10.83h-10.83zM234.09 909.09h10.83v11.83h-10.83z"/>
<path fill="#a9de65" d="M264.08 382.08h10.83v10.83h-10.83zM294.08 849.09h10.83v10.83h-10.83zM309.08 849.09h10.83v10.83h-10.83zM189.09 864.09h10.83v10.83h-10.83zM189.09 970.09h10.83v10.83h-10.83zM189.09 985.09h10.83v10.83h-10.83zM264.08 985.09h10.83v10.83h-10.83zM279.08 985.09h10.83v10.83h-10.83z"/>
<path fill="#86d060" d="M279.08 382.08h10.83v10.83h-10.83zM264.08 879.09h10.83v10.83h-10.83zM279.08 879.09h10.83v10.83h-10.83zM219.09 970.09h10.83v10.83h-10.83z"/>
<path fill="#e5f594" d="M309.08 382.08h10.83v10.83h-10.83zM309.08 397.08h10.83v10.83h-10.83z"/>
<path fill="#a2db62" d="M264.08 397.08h10.83v10.83h-10.83zM294.08 834.09h10.83v10.83h-10.83zM309.08 834.09h10.83v10.83h-10.83zM189.09 879.09h10.83v10.83h-10.83zM189.09 909.09h10.83v11.83h-10.83zM189.09 925.09h10.83v10.83h-10.83zM264.08 970.09h10.83v10.83h-10.83zM279.08 970.09h10.83v10.83h-10.83z"/>
<path fill="#80cd60" d="M279.08 397.08h10.83v10.83h-10.83zM219.09 955.09h10.83v10.83h-10.83z"/>
<path fill="#b00024" d="M385.08 427.08h10.83v10.83h-10.83z"/>
<path fill="#3cb056" d="M234.09 442.08h10.83v10.83h-10.83zM249.09 774.09h10.83v10.83h-10.83z"/>
<path fill="#ff8e4b" d="M370.08 442.08h10.83v10.83h-10.83zM400.08 518.09h10.83v10.83h-10.83zM400.08 533.09h10.83v10.83h-10.83zM385.08 548.09h10.83v10.83h-10.83z"/>
<path fill="#b60024" d="M385.08 442.08h10.83v10.83h-10.83z"/>
<path fill="#42b257" d="M234.09 457.08h10.83v10.83h-10.83zM249.09 487.08h10.83v11.83h-10.83zM234.09 894.09h10.83v10.83h-10.83z"/>
<path fill="#ff964e" d="M370.08 457.08h10.83v10.83h-10.83zM400.08 578.09h10.83v10.83h-10.83zM385.08 593.09h10.83v10.83h-10.83zM400.08 593.09h10.83v10.83h-10.83z"/>
<path fill="#48b559" d="M234.09 472.08h10.83v10.83h-10.83zM249.09 789.09h10.83v10.83h-10.83z"/>
<path fill="#ceed7c" d="M309.08 472.08h10.83v10.83h-10.83zM309.08 487.08h10.83v11.83h-10.83zM294.08 563.09h10.83v10.83h-10.83zM279.08 1045.09h10.83v10.83h-10.83zM264.08 1090.09h10.83v10.83h-10.83zM279.08 1166.09h10.83v10.83h-10.83z"/>
<path fill="#1aa04f" d="M219.09 487.08h10.83v11.83h-10.83z"/>
<path fill="#55bb5b" d="M249.09 518.09h10.83v10.83h-10.83zM234.09 533.09h10.83v10.83h-10.83zM264.08 759.09h10.83v10.83h-10.83zM279.08 759.09h10.83v10.83h-10.83zM204.09 879.09h10.83v10.83h-10.83zM249.09 879.09h10.83v10.83h-10.83z"/>
<path fill="#ddf389" d="M294.08 518.09h10.83v10.83h-10.83z"/>
<path fill="#c8ea78" d="M309.08 518.09h10.83v10.83h-10.83zM279.08 1030.09h10.83v10.83h-10.83zM264.08 1060.09h10.83v10.83h-10.83z"/>
<path fill="#2faa53" d="M219.09 533.09h10.83v10.83h-10.83zM234.09 789.09h10.83v10.83h-10.83z"/>
<path fill="#69c45e" d="M249.09 548.09h10.83v10.83h-10.83zM234.09 563.09h10.83v10.83h-10.83zM204.09 638.09h10.83v10.83h-10.83zM219.09 638.09h10.83v10.83h-10.83zM279.08 638.09h10.83v10.83h-10.83zM264.08 668.09h10.83v10.83h-10.83zM264.08 789.09h10.83v10.83h-10.83zM279.08 789.09h10.83v10.83h-10.83zM204.09 925.09h10.83v10.83h-10.83zM249.09 925.09h10.83v10.83h-10.83z"/>
<path fill="#76c95f" d="M249.09 578.09h10.83v10.83h-10.83zM264.08 834.09h10.83v10.83h-10.83zM279.08 834.09h10.83v10.83h-10.83zM219.09 909.09h10.83v11.83h-10.83zM249.09 955.09h10.83v10.83h-10.83zM234.09 1090.09h10.83v10.83h-10.83z"/>
<path fill="#bee672" d="M309.08 578.09h10.83v10.83h-10.83zM309.08 593.09h10.83v10.83h-10.83zM264.08 1030.09h10.83v10.83h-10.83z"/>
<path fill="#78ca5f" d="M234.09 593.09h10.83v10.83h-10.83zM249.09 593.09h10.83v10.83h-10.83zM264.08 638.09h10.83v10.83h-10.83zM264.08 849.09h10.83v10.83h-10.83zM279.08 849.09h10.83v10.83h-10.83zM219.09 925.09h10.83v10.83h-10.83zM249.09 970.09h10.83v10.83h-10.83zM249.09 985.09h10.83v10.83h-10.83zM234.09 1105.09h10.83v10.83h-10.83z"/>
<path fill="#a7dd64" d="M309.08 638.09h10.83v10.83h-10.83zM294.08 668.09h10.83v10.83h-10.83zM294.08 789.09h10.83v10.83h-10.83zM309.08 789.09h10.83v10.83h-10.83zM174.09 864.09h10.83v10.83h-10.83zM189.09 940.09h10.83v10.83h-10.83zM189.09 955.09h10.83v10.83h-10.83z"/>
<path fill="#ffea94" d="M324.08 638.09h10.83v10.83h-10.83zM324.08 864.09h10.83v10.83h-10.83z"/>
<path fill="#fff09e" d="M339.08 638.09h11.83v10.83h-11.83zM324.08 668.09h10.83v10.83h-10.83zM324.08 834.09h10.83v10.83h-10.83z"/>
<path fill="#129c4d" d="M219.09 698.09h10.83v11.83h-10.83zM234.09 698.09h10.83v11.83h-10.83zM234.09 744.09h10.83v10.83h-10.83z"/>
<path fill="#0c9047" d="M249.09 698.09h10.83v11.83h-10.83zM174.09 714.09h10.83v10.83h-10.83zM204.09 729.09h10.83v10.83h-10.83zM234.09 729.09h10.83v10.83h-10.83z"/>
<path fill="#058341" d="M189.09 714.09h10.83v10.83h-10.83zM234.09 714.09h10.83v10.83h-10.83zM249.09 714.09h10.83v10.83h-10.83z"/>
<path fill="#00773b" d="M204.09 714.09h10.83v10.83h-10.83zM219.09 714.09h10.83v10.83h-10.83z"/>
<path fill="#fffab0" d="M339.08 759.09h11.83v10.83h-11.83z"/>
<path fill="#fff6a9" d="M339.08 789.09h11.83v10.83h-11.83z"/>
<path fill="#b1e16a" d="M294.08 879.09h10.83v10.83h-10.83zM189.09 1105.09h10.83v10.83h-10.83z"/>
<path fill="#64c25e" d="M204.09 909.09h10.83v11.83h-10.83zM249.09 909.09h10.83v11.83h-10.83z"/>
<path fill="#b7e46e" d="M294.08 909.09h10.83v11.83h-10.83zM264.08 1015.09h10.83v10.83h-10.83zM189.09 1120.09h10.83v11.83h-10.83z"/>
<path fill="#51ba5a" d="M234.09 925.09h10.83v10.83h-10.83z"/>
<path fill="#5bbe5c" d="M234.09 940.09h10.83v10.83h-10.83z"/>
<path fill="#f6fcab" d="M309.08 1015.09h10.83v10.83h-10.83z"/>
<path fill="#fafeb2" d="M309.08 1045.09h10.83v10.83h-10.83zM309.08 1060.09h10.83v10.83h-10.83zM309.08 1075.09h10.83v10.83h-10.83zM294.08 1090.09h10.83v10.83h-10.83zM309.08 1090.09h10.83v10.83h-10.83zM294.08 1105.09h10.83v10.83h-10.83zM309.08 1105.09h10.83v10.83h-10.83zM309.08 1120.09h10.83v11.83h-10.83zM309.08 1136.09h10.83v10.83h-10.83zM309.08 1151.09h10.83v10.83h-10.83z"/>
<path fill="#fdffb6" d="M294.08 1120.09h10.83v11.83h-10.83zM294.08 1136.09h10.83v10.83h-10.83z"/>
<path fill="#fffeb6" d="M294.08 1151.09h10.83v10.83h-10.83zM309.08 1166.09h10.83v10.83h-10.83z"/>
<path fill="#ffc46b" d="M249.09 1226.09h10.83v10.83h-10.83z"/>
<path fill="#ffbc64" d="M249.09 1241.09h10.83v10.83h-10.83z"/>
<rect x="172.5" y="33.5" width="301" height="1372" fill="none" stroke="#000" stroke-width="1.11"/>
<path d="M172.5 41.5h-5.36M172.5 56.5h-5.36M172.5 71.5h-5.36M172.5 86.5h-5.36M172.5 101.5h-5.36M172.5 116.5h-5.36M172.5 131.5h-5.36M172.5 146.5h-5.36M172.5 161.5h-5.36M172.5 177.5h-5.36M172.5 192.5h-5.36M172.5 207.5h-5.36M172.5 222.5h-5.36M172.5 237.5h-5.36M172.5 252.5h-5.36M172.5 267.5h-5.36M172.5 282.5h-5.36M172.5 297.5h-5.36M172.5 312.5h-5.36M172.5 327.5h-5.36M172.5 342.5h-5.36M172.5 357.5h-5.36M172.5 372.5h-5.36M172.5 388.5h-5.36M172.5 403.5h-5.36M172.5 418.5h-5.36M172.5 433.5h-5.36M172.5 448.5h-5.36M172.5 463.5h-5.36M172.5 478.5h-5.36M172.5 493.5h-5.36M172.5 508.5h-5.36M172.5 523.5h-5.36M172.5 538.5h-5.36M172.5 553.5h-5.36M172.5 568.5h-5.36M172.5 583.5h-5.36M172.5 599.5h-5.36M172.5 614.5h-5.36M172.5 629.5h-5.36M172.5 644.5h-5.36M172.5 659.5h-5.36M172.5 674.5h-5.36M172.5 689.5h-5.36M172.5 704.5h-5.36M172.5 719.5h-5.36M172.5 734.5h-5.36M172.5 749.5h-5.36M172.5 764.5h-5.36M172.5 779.5h-5.36M172.5 794.5h-5.36M172.5 810.5h-5.36M172.5 825.5h-5.36M172.5 840.5h-5.36M172.5 855.5h-5.36M172.5 870.5h-5.36M172.5 885.5h-5.36M172.5 900.5h-5.36M172.5 915.5h-5.36M172.5 930.5h-5.36M172.5 945.5h-5.36M172.5 960.5h-5.36M172.5 975.5h-5.36M172.5 990.5h-5.36M172.5 1005.5h-5.36M172.5 1021.5h-5.36M172.5 1036.5h-5.36M172.5 1051.5h-5.36M172.5 1066.5h-5.36M172.5 1081.5h-5.36M172.5 1096.5h-5.36M172.5 1111.5h-5.36M172.5 1126.5h-5.36M172.5 1141.5h-5.36M172.5 1156.5h-5.36M172.5 1171.5h-5.36M172.5 1186.5h-5.36M172.5 1201.5h-5.36M172.5 1216.5h-5.36M172.5 1232.5h-5.36M172.5 1247.5h-5.36M172.5 1262.5h-5.36M172.5 1277.5h-5.36M172.5 1292.5h-5.36M172.5 1307.5h-5.36M172.5 1322.5h-5.36M172.5 1337.5h-5.36M172.5 1352.5h-5.36M172.5 1367.5h-5.36M172.5 1382.5h-5.36M172.5 1397.5h-5.36M179.5 1405.5v5.36M194.5 1405.5v5.36M209.5 1405.5v5.36M224.5 1405.5v5.36M239.5 1405.5v5.36M255.5 1405.5v5.36M270.5 1405.5v5.36M285.5 1405.5v5.36M300.5 1405.5v5.36M315.5 1405.5v5.36M330.5 1405.5v5.36M345.5 1405.5v5.36M360.5 1405.5v5.36M375.5 1405.5v5.36M390.5 1405.5v5.36M405.5 1405.5v5.36M420.5 1405.5v5.36M435.5 1405.5v5.36M450.5 1405.5v5.36M466.5 1405.5v5.36" stroke="#000" stroke-width="1.11" fill="none"/>
<g font-size="17.3" text-anchor="end">
<text x="162.04" y="48.64">45</text><text x="162.04" y="63.71">44</text><text x="162.04" y="78.78">43</text><text x="162.04" y="93.86">42</text><text x="162.04" y="108.93">41</text><text x="162.04" y="124">40</text><text x="162.04" y="139.08">39</text><text x="162.04" y="154.15">38</text><text x="162.04" y="169.23">37</text><text x="162.04" y="184.3">36</text><text x="162.04" y="199.37">35</text><text x="162.04" y="214.45">34</text><text x="162.04" y="229.52">33</text><text x="162.04" y="244.59">32</text><text x="162.04" y="259.67">31</text><text x="162.04" y="274.74">30</text><text x="162.04" y="289.81">29</text><text x="162.04" y="304.89">28</text><text x="162.04" y="319.96">27</text><text x="162.04" y="335.04">26</text><text x="162.04" y="350.11">25</text><text x="162.04" y="365.18">24</text><text x="162.04" y="380.26">23</text><text x="162.04" y="395.33">22</text><text x="162.04" y="410.4">21</text><text x="162.04" y="425.48">20</text><text x="162.04" y="440.55">19</text><text x="162.04" y="455.62">18</text><text x="162.04" y="470.7">17</text><text x="162.04" y="485.77">16</text><text x="162.04" y="500.84">15</text><text x="162.04" y="515.92">14</text><text x="162.04" y="530.99">13</text><text x="162.04" y="546.07">12</text><text x="162.04" y="561.14">11</text><text x="162.04" y="576.21">10</text><text x="162.04" y="591.29">9</text><text x="162.04" y="606.36">8</text><text x="162.04" y="621.43">7</text><text x="162.04" y="636.51">6</text><text x="162.04" y="651.58">5</text><text x="162.04" y="666.65">4</text><text x="162.04" y="681.73">3</text><text x="162.04" y="696.8">2</text><text x="162.04" y="711.88">1</text><text x="162.04" y="726.95">0</text><text x="162.04" y="742.02">-1</text><text x="162.04" y="757.1">-2</text><text x="162.04" y="772.17">-3</text><text x="162.04" y="787.24">-4</text><text x="162.04" y="802.32">-5</text><text x="162.04" y="817.39">-6</text><text x="162.04" y="832.46">-7</text><text x="162.04" y="847.54">-8</text><text x="162.04" y="862.61">-9</text><text x="162.04" y="877.68">-10</text><text x="162.04" y="892.76">-11</text><text x="162.04" y="907.83">-12</text><text x="162.04" y="922.91">-13</text><text x="162.04" y="937.98">-14</text><text x="162.04" y="953.05">-15</text><text x="162.04" y="968.13">-16</text><text x="162.04" y="983.2">-17</text><text x="162.04" y="998.27">-18</text><text x="162.04" y="1013.35">-19</text><text x="162.04" y="1028.42">-20</text><text x="162.04" y="1043.49">-21</text><text x="162.04" y="1058.57">-22</text><text x="162.04" y="1073.64">-23</text><text x="162.04" y="1088.72">-24</text><text x="162.04" y="1103.79">-25</text><text x="162.04" y="1118.86">-26</text><text x="162.04" y="1133.94">-27</text><text x="162.04" y="1149.01">-28</text><text x="162.04" y="1164.08">-29</text><text x="162.04" y="1179.16">-30</text><text x="162.04" y="1194.23">-31</text><text x="162.04" y="1209.3">-32</text><text x="162.04" y="1224.38">-33</text><text x="162.04" y="1239.45">-34</text><text x="162.04" y="1254.52">-35</text><text x="162.04" y="1269.6">-36</text><text x="162.04" y="1284.67">-37</text><text x="162.04" y="1299.75">-38</text><text x="162.04" y="1314.82">-39</text><text x="162.04" y="1329.89">-40</text><text x="162.04" y="1344.97">-41</text><text x="162.04" y="1360.04">-42</text><text x="162.04" y="1375.11">-43</text><text x="162.04" y="1390.19">-44</text><text x="162.04" y="1405.26">-45</text>
</g>
<g font-size="19.44" text-anchor="end">
<text transform="translate(178.89 1416.92) rotate(-45)" x="0" y="14.4">1 C</text><text transform="translate(193.94 1416.92) rotate(-45)" x="0" y="14.4">1 P</text><text transform="translate(209 1416.92) rotate(-45)" x="0" y="14.4">2 C</text><text transform="translate(224.05 1416.92) rotate(-45)" x="0" y="14.4">2 P</text><text transform="translate(239.11 1416.92) rotate(-45)" x="0" y="14.4">3 C</text><text transform="translate(254.16 1416.92) rotate(-45)" x="0" y="14.4">3 P</text><text transform="translate(269.22 1416.92) rotate(-45)" x="0" y="14.4">4 C</text><text transform="translate(284.27 1416.92) rotate(-45)" x="0" y="14.4">4 P</text><text transform="translate(299.33 1416.92) rotate(-45)" x="0" y="14.4">5 C</text><text transform="translate(314.38 1416.92) rotate(-45)" x="0" y="14.4">5 P</text><text transform="translate(329.44 1416.92) rotate(-45)" x="0" y="14.4">6 C</text><text transform="translate(344.49 1416.92) rotate(-45)" x="0" y="14.4">6 P</text><text transform="translate(359.55 1416.92) rotate(-45)" x="0" y="14.4">7 C</text><text transform="translate(374.6 1416.92) rotate(-45)" x="0" y="14.4">7 P</text><text transform="translate(389.66 1416.92) rotate(-45)" x="0" y="14.4">8 C</text><text transform="translate(404.71 1416.92) rotate(-45)" x="0" y="14.4">8 P</text><text transform="translate(419.77 1416.92) rotate(-45)" x="0" y="14.4">9 C</text><text transform="translate(434.82 1416.92) rotate(-45)" x="0" y="14.4">9 P</text><text transform="translate(449.88 1416.92) rotate(-45)" x="0" y="14.4">10 C</text><text transform="translate(464.93 1416.92) rotate(-45)" x="0" y="14.4">10 P</text>
</g>
<text x="9.46" y="25.6" font-size="22.22" font-weight="bold" textLength="625.5" lengthAdjust="spacing">Market Maker Coverage Heatmap December 2025</text>
<text x="322.91" y="1476.5" font-size="13.89" text-anchor="middle">expiry index</text>
<text transform="translate(123.26 721.18) rotate(-90)" font-size="13.89" text-anchor="middle">strike index w.r.t. ATM, OTM in pos. dir.</text>
<rect x="478.5" y="33.5" width="6" height="1372" fill="url(#cb)" stroke="#000" stroke-width="1.11"/>
<path d="M484.5 1405.5h5.36M484.5 1228.5h5.36M484.5 1051.5h5.36M484.5 875.5h5.36M484.5 699.5h5.36M484.5 533.5h5.36M484.5 366.5h5.36M484.5 200.5h5.36M484.5 33.5h5.36" stroke="#000" stroke-width="1.11" fill="none"/>
<g font-size="13.2"><text x="494.52" y="1411.94">0</text><text x="494.52" y="1235.2">5</text><text x="494.52" y="1058.46">10</text><text x="494.52" y="881.72">15</text><text x="494.52" y="706.21">20</text><text x="494.52" y="539.77">25</text><text x="494.52" y="373.32">30</text><text x="494.52" y="206.88">35</text><text x="494.52" y="40.43">40</text></g>
<text transform="translate(527.1 721.18) rotate(-90)" font-size="13.89" text-anchor="middle">time in hours</text>
</g>
<g>
<path fill="#bc0624" d="M802.09 35.09h10.83v10.83h-10.83zM817.09 35.09h10.83v10.83h-10.83zM832.09 35.09h10.83v10.83h-10.83zM953.09 35.09h10.83v10.83h-10.83zM968.09 35.09h10.83v10.83h-10.83zM983.09 35.09h10.83v10.83h-10.83zM998.09 35.09h10.83v10.83h-10.83zM1013.09 35.09h10.83v10.83h-10.83zM1028.09 35.09h10.83v10.83h-10.83zM1043.09 35.09h10.83v10.83h-10.83zM1058.09 35.09h10.83v10.83h-10.83zM1073.09 35.09h10.83v10.83h-10.83zM1088.09 35.09h10.83v10.83h-10.83zM802.09 50.09h10.83v10.83h-10.83zM817.09 50.09h10.83v10.83h-10.83zM832.09 50.09h10.83v10.83h-10.83zM953.09 50.09h10.83v10.83h-10.83zM968.09 50.09h10.83v10.83h-10.83zM983.09 50.09h10.83v10.83h-10.83zM998.09 50.09h10.83v10.83h-10.83zM1013.09 50.09h10.83v10.83h-10.83zM1028.09 50.09h10.83v10.83h-10.83zM1043.09 50.09h10.83v10.83h-10.83zM1058.09 50.09h10.83v10.83h-10.83zM1073.09 50.09h10.83v10.83h-10.83zM1088.09 50.09h10.83v10.83h-10.83zM802.09 65.08h10.83v11.83h-10.83zM817.09 65.08h10.83v11.83h-10.83zM832.09 65.08h10.83v11.83h-10.83zM953.09 65.08h10.83v11.83h-10.83zM968.09 65.08h10.83v11.83h-10.83zM983.09 65.08h10.83v11.83h-10.83zM998.09 65.08h10.83v11.83h-10.83zM1013.09 65.08h10.83v11.83h-10.83zM1028.09 65.08h10.83v11.83h-10.83zM1043.09 65.08h10.83v11.83h-10.83zM1058.09 65.08h10.83v11.83h-10.83zM1073.09 65.08h10.83v11.83h-10.83zM1088.09 65.08h10.83v11.83h-10.83zM802.09 81.08h10.83v10.83h-10.83zM817.09 81.08h10.83v10.83h-10.83zM832.09 81.08h10.83v10.83h-10.83zM953.09 81.08h10.83v10.83h-10.83zM968.09 81.08h10.83v10.83h-10.83zM983.09 81.08h10.83v10.83h-10.83zM998.09 81.08h10.83v10.83h-10.83zM1013.09 81.08h10.83v10.83h-10.83zM1028.09 81.08h10.83v10.83h-10.83zM1043.09 81.08h10.83v10.83h-10.83zM1058.09 81.08h10.83v10.83h-10.83zM1073.09 81.08h10.83v10.83h-10.83zM1088.09 81.08h10.83v10.83h-10.83zM802.09 96.08h10.83v10.83h-10.83zM817.09 96.08h10.83v10.83h-10.83zM832.09 96.08h10.83v10.83h-10.83zM953.09 96.08h10.83v10.83h-10.83zM968.09 96.08h10.83v10.83h-10.83zM983.09 96.08h10.83v10.83h-10.83zM998.09 96.08h10.83v10.83h-10.83zM1013.09 96.08h10.83v10.83h-10.83zM1028.09 96.08h10.83v10.83h-10.83zM1043.09 96.08h10.83v10.83h-10.83zM1058.09 96.08h10.83v10.83h-10.83zM1073.09 96.08h10.83v10.83h-10.83zM1088.09 96.08h10.83v10.83h-10.83zM802.09 111.08h10.83v10.83h-10.83zM817.09 111.08h10.83v10.83h-10.83zM832.09 111.08h10.83v10.83h-10.83zM953.09 111.08h10.83v10.83h-10.83zM968.09 111.08h10.83v10.83h-10.83zM983.09 111.08h10.83v10.83h-10.83zM998.09 111.08h10.83v10.83h-10.83zM1013.09 111.08h10.83v10.83h-10.83zM1028.09 111.08h10.83v10.83h-10.83zM1043.09 111.08h10.83v10.83h-10.83zM1058.09 111.08h10.83v10.83h-10.83zM1073.09 111.08h10.83v10.83h-10.83zM1088.09 111.08h10.83v10.83h-10.83zM802.09 126.08h10.83v10.83h-10.83zM817.09 126.08h10.83v10.83h-10.83zM832.09 126.08h10.83v10.83h-10.83zM953.09 126.08h10.83v10.83h-10.83zM968.09 126.08h10.83v10.83h-10.83zM983.09 126.08h10.83v10.83h-10.83zM998.09 126.08h10.83v10.83h-10.83zM1013.09 126.08h10.83v10.83h-10.83zM1028.09 126.08h10.83v10.83h-10.83zM1043.09 126.08h10.83v10.83h-10.83zM1058.09 126.08h10.83v10.83h-10.83zM1073.09 126.08h10.83v10.83h-10.83zM1088.09 126.08h10.83v10.83h-10.83zM802.09 141.09h10.83v10.83h-10.83zM817.09 141.09h10.83v10.83h-10.83zM832.09 141.09h10.83v10.83h-10.83zM953.09 141.09h10.83v10.83h-10.83zM968.09 141.09h10.83v10.83h-10.83zM983.09 141.09h10.83v10.83h-10.83zM998.09 141.09h10.83v10.83h-10.83zM1013.09 141.09h10.83v10.83h-10.83zM1028.09 141.09h10.83v10.83h-10.83zM1043.09 141.09h10.83v10.83h-10.83zM1058.09 141.09h10.83v10.83h-10.83zM1073.09 141.09h10.83v10.83h-10.83zM1088.09 141.09h10.83v10.83h-10.83zM802.09 156.09h10.83v10.83h-10.83zM817.09 156.09h10.83v10.83h-10.83zM832.09 156.09h10.83v10.83h-10.83zM953.09 156.09h10.83v10.83h-10.83zM968.09 156.09h10.83v10.83h-10.83zM983.09 156.09h10.83v10.83h-10.83zM998.09 156.09h10.83v10.83h-10.83zM1013.09 156.09h10.83v10.83h-10.83zM1028.09 156.09h10.83v10.83h-10.83zM1043.09 156.09h10.83v10.83h-10.83zM1058.09 156.09h10.83v10.83h-10.83zM1073.09 156.09h10.83v10.83h-10.83zM1088.09 156.09h10.83v10.83h-10.83zM802.09 171.09h10.83v10.83h-10.83zM817.09 171.09h10.83v10.83h-10.83zM832.09 171.09h10.83v10.83h-10.83zM953.09 171.09h10.83v10.83h-10.83zM968.09 171.09h10.83v10.83h-10.83zM983.09 171.09h10.83v10.83h-10.83zM998.09 171.09h10.83v10.83h-10.83zM1013.09 171.09h10.83v10.83h-10.83zM1028.09 171.09h10.83v10.83h-10.83zM1043.09 171.09h10.83v10.83h-10.83zM1058.09 171.09h10.83v10.83h-10.83zM1073.09 171.09h10.83v10.83h-10.83zM1088.09 171.09h10.83v10.83h-10.83zM802.09 186.09h10.83v10.83h-10.83zM817.09 186.09h10.83v10.83h-10.83zM832.09 186.09h10.83v10.83h-10.83zM953.09 186.09h10.83v10.83h-10.83zM968.09 186.09h10.83v10.83h-10.83zM983.09 186.09h10.83v10.83h-10.83zM998.09 186.09h10.83v10.83h-10.83zM1013.09 186.09h10.83v10.83h-10.83zM1028.09 186.09h10.83v10.83h-10.83zM1043.09 186.09h10.83v10.83h-10.83zM1058.09 186.09h10.83v10.83h-10.83zM1073.09 186.09h10.83v10.83h-10.83zM1088.09 186.09h10.83v10.83h-10.83zM802.09 201.09h10.83v10.83h-10.83zM817.09 201.09h10.83v10.83h-10.83zM832.09 201.09h10.83v10.83h-10.83zM953.09 201.09h10.83v10.83h-10.83zM968.09 201.09h10.83v10.83h-10.83zM983.09 201.09h10.83v10.83h-10.83zM998.09 201.09h10.83v10.83h-10.83zM1013.09 201.09h10.83v10.83h-10.83zM1028.09 201.09h10.83v10.83h-10.83zM1043.09 201.09h10.83v10.83h-10.83zM1058.09 201.09h10.83v10.83h-10.83zM1073.09 201.09h10.83v10.83h-10.83zM1088.09 201.09h10.83v10.83h-10.83zM802.09 216.09h10.83v10.83h-10.83zM817.09 216.09h10.83v10.83h-10.83zM832.09 216.09h10.83v10.83h-10.83zM953.09 216.09h10.83v10.83h-10.83zM968.09 216.09h10.83v10.83h-10.83zM983.09 216.09h10.83v10.83h-10.83zM998.09 216.09h10.83v10.83h-10.83zM1013.09 216.09h10.83v10.83h-10.83zM1028.09 216.09h10.83v10.83h-10.83zM1043.09 216.09h10.83v10.83h-10.83zM1058.09 216.09h10.83v10.83h-10.83zM1073.09 216.09h10.83v10.83h-10.83zM1088.09 216.09h10.83v10.83h-10.83zM802.09 231.09h10.83v10.83h-10.83zM817.09 231.09h10.83v10.83h-10.83zM832.09 231.09h10.83v10.83h-10.83zM953.09 231.09h10.83v10.83h-10.83zM968.09 231.09h10.83v10.83h-10.83zM983.09 231.09h10.83v10.83h-10.83zM1013.09 231.09h10.83v10.83h-10.83zM1043.09 231.09h10.83v10.83h-10.83zM1073.09 231.09h10.83v10.83h-10.83zM802.09 246.09h10.83v10.83h-10.83zM817.09 246.09h10.83v10.83h-10.83zM832.09 246.09h10.83v10.83h-10.83zM953.09 246.09h10.83v10.83h-10.83zM983.09 246.09h10.83v10.83h-10.83zM1013.09 246.09h10.83v10.83h-10.83zM1043.09 246.09h10.83v10.83h-10.83zM1073.09 246.09h10.83v10.83h-10.83zM953.09 261.08h10.83v10.83h-10.83zM983.09 261.08h10.83v10.83h-10.83zM1013.09 261.08h10.83v10.83h-10.83zM1043.09 261.08h10.83v10.83h-10.83zM1073.09 261.08h10.83v10.83h-10.83zM953.09 276.08h10.83v11.83h-10.83zM983.09 276.08h10.83v11.83h-10.83zM1013.09 276.08h10.83v11.83h-10.83zM1043.09 276.08h10.83v11.83h-10.83zM1073.09 276.08h10.83v11.83h-10.83zM953.09 292.08h10.83v10.83h-10.83zM983.09 292.08h10.83v10.83h-10.83zM1013.09 292.08h10.83v10.83h-10.83zM1043.09 292.08h10.83v10.83h-10.83zM1073.09 292.08h10.83v10.83h-10.83zM953.09 307.08h10.83v10.83h-10.83zM983.09 307.08h10.83v10.83h-10.83zM1013.09 307.08h10.83v10.83h-10.83zM1043.09 307.08h10.83v10.83h-10.83zM1073.09 307.08h10.83v10.83h-10.83zM953.09 322.08h10.83v10.83h-10.83zM983.09 322.08h10.83v10.83h-10.83zM1013.09 322.08h10.83v10.83h-10.83zM1043.09 322.08h10.83v10.83h-10.83zM1073.09 322.08h10.83v10.83h-10.83zM953.09 337.08h10.83v10.83h-10.83zM983.09 337.08h10.83v10.83h-10.83zM1013.09 337.08h10.83v10.83h-10.83zM1043.09 337.08h10.83v10.83h-10.83zM1073.09 337.08h10.83v10.83h-10.83zM953.09 352.08h10.83v10.83h-10.83zM983.09 352.08h10.83v10.83h-10.83zM1013.09 352.08h10.83v10.83h-10.83zM1043.09 352.08h10.83v10.83h-10.83zM1073.09 352.08h10.83v10.83h-10.83zM953.09 367.08h10.83v10.83h-10.83zM983.09 367.08h10.83v10.83h-10.83zM1013.09 367.08h10.83v10.83h-10.83zM1043.09 367.08h10.83v10.83h-10.83zM1073.09 367.08h10.83v10.83h-10.83zM953.09 382.08h10.83v10.83h-10.83zM983.09 382.08h10.83v10.83h-10.83zM1013.09 382.08h10.83v10.83h-10.83zM1043.09 382.08h10.83v10.83h-10.83zM1073.09 382.08h10.83v10.83h-10.83zM983.09 397.08h10.83v10.83h-10.83zM1013.09 397.08h10.83v10.83h-10.83zM1043.09 397.08h10.83v10.83h-10.83zM1073.09 397.08h10.83v10.83h-10.83zM983.09 412.08h10.83v10.83h-10.83zM1013.09 412.08h10.83v10.83h-10.83zM1043.09 412.08h10.83v10.83h-10.83zM1073.09 412.08h10.83v10.83h-10.83zM1043.09 427.08h10.83v10.83h-10.83zM1073.09 427.08h10.83v10.83h-10.83zM1073.09 442.08h10.83v10.83h-10.83zM1088.09 1030.09h10.83v10.83h-10.83zM1058.09 1045.09h10.83v10.83h-10.83zM1088.09 1045.09h10.83v10.83h-10.83zM998.09 1060.09h10.83v10.83h-10.83zM1058.09 1060.09h10.83v10.83h-10.83zM1088.09 1060.09h10.83v10.83h-10.83zM968.09 1075.09h10.83v10.83h-10.83zM998.09 1075.09h10.83v10.83h-10.83zM1028.09 1075.09h10.83v10.83h-10.83zM1058.09 1075.09h10.83v10.83h-10.83zM1088.09 1075.09h10.83v10.83h-10.83zM968.09 1090.09h10.83v10.83h-10.83zM998.09 1090.09h10.83v10.83h-10.83zM1028.09 1090.09h10.83v10.83h-10.83zM1058.09 1090.09h10.83v10.83h-10.83zM1088.09 1090.09h10.83v10.83h-10.83zM968.09 1105.09h10.83v10.83h-10.83zM998.09 1105.09h10.83v10.83h-10.83zM1028.09 1105.09h10.83v10.83h-10.83zM1058.09 1105.09h10.83v10.83h-10.83zM1088.09 1105.09h10.83v10.83h-10.83zM968.09 1120.09h10.83v11.83h-10.83zM998.09 1120.09h10.83v11.83h-10.83zM1028.09 1120.09h10.83v11.83h-10.83zM1058.09 1120.09h10.83v11.83h-10.83zM1088.09 1120.09h10.83v11.83h-10.83zM968.09 1136.09h10.83v10.83h-10.83zM998.09 1136.09h10.83v10.83h-10.83zM1028.09 1136.09h10.83v10.83h-10.83zM1058.09 1136.09h10.83v10.83h-10.83zM1088.09 1136.09h10.83v10.83h-10.83zM968.09 1151.09h10.83v10.83h-10.83zM998.09 1151.09h10.83v10.83h-10.83zM1013.09 1151.09h10.83v10.83h-10.83zM1028.09 1151.09h10.83v10.83h-10.83zM1043.09 1151.09h10.83v10.83h-10.83zM1058.09 1151.09h10.83v10.83h-10.83zM1073.09 1151.09h10.83v10.83h-10.83zM1088.09 1151.09h10.83v10.83h-10.83zM968.09 1166.09h10.83v10.83h-10.83zM983.09 1166.09h10.83v10.83h-10.83zM998.09 1166.09h10.83v10.83h-10.83zM1013.09 1166.09h10.83v10.83h-10.83zM1028.09 1166.09h10.83v10.83h-10.83zM1043.09 1166.09h10.83v10.83h-10.83zM1058.09 1166.09h10.83v10.83h-10.83zM1073.09 1166.09h10.83v10.83h-10.83zM1088.09 1166.09h10.83v10.83h-10.83zM968.09 1181.09h10.83v10.83h-10.83zM983.09 1181.09h10.83v10.83h-10.83zM998.09 1181.09h10.83v10.83h-10.83zM1013.09 1181.09h10.83v10.83h-10.83zM1028.09 1181.09h10.83v10.83h-10.83zM1043.09 1181.09h10.83v10.83h-10.83zM1058.09 1181.09h10.83v10.83h-10.83zM1073.09 1181.09h10.83v10.83h-10.83zM1088.09 1181.09h10.83v10.83h-10.83zM953.09 1196.09h10.83v10.83h-10.83zM968.09 1196.09h10.83v10.83h-10.83zM983.09 1196.09h10.83v10.83h-10.83zM998.09 1196.09h10.83v10.83h-10.83zM1013.09 1196.09h10.83v10.83h-10.83zM1028.09 1196.09h10.83v10.83h-10.83zM1043.09 1196.09h10.83v10.83h-10.83zM1058.09 1196.09h10.83v10.83h-10.83zM1073.09 1196.09h10.83v10.83h-10.83zM1088.09 1196.09h10.83v10.83h-10.83zM953.09 1211.09h10.83v10.83h-10.83zM968.09 1211.09h10.83v10.83h-10.83zM983.09 1211.09h10.83v10.83h-10.83zM998.09 1211.09h10.83v10.83h-10.83zM1013.09 1211.09h10.83v10.83h-10.83zM1028.09 1211.09h10.83v10.83h-10.83zM1043.09 1211.09h10.83v10.83h-10.83zM1058.09 1211.09h10.83v10.83h-10.83zM1073.09 1211.09h10.83v10.83h-10.83zM1088.09 1211.09h10.83v10.83h-10.83zM953.09 1226.09h10.83v10.83h-10.83zM968.09 1226.09h10.83v10.83h-10.83zM983.09 1226.09h10.83v10.83h-10.83zM998.09 1226.09h10.83v10.83h-10.83zM1013.09 1226.09h10.83v10.83h-10.83zM1028.09 1226.09h10.83v10.83h-10.83zM1043.09 1226.09h10.83v10.83h-10.83zM1058.09 1226.09h10.83v10.83h-10.83zM1073.09 1226.09h10.83v10.83h-10.83zM1088.09 1226.09h10.83v10.83h-10.83zM953.09 1241.09h10.83v10.83h-10.83zM968.09 1241.09h10.83v10.83h-10.83zM983.09 1241.09h10.83v10.83h-10.83zM998.09 1241.09h10.83v10.83h-10.83zM1013.09 1241.09h10.83v10.83h-10.83zM1028.09 1241.09h10.83v10.83h-10.83zM1043.09 1241.09h10.83v10.83h-10.83zM1058.09 1241.09h10.83v10.83h-10.83zM1073.09 1241.09h10.83v10.83h-10.83zM1088.09 1241.09h10.83v10.83h-10.83zM953.09 1256.09h10.83v10.83h-10.83zM968.09 1256.09h10.83v10.83h-10.83zM983.09 1256.09h10.83v10.83h-10.83zM998.09 1256.09h10.83v10.83h-10.83zM1013.09 1256.09h10.83v10.83h-10.83zM1028.09 1256.09h10.83v10.83h-10.83zM1043.09 1256.09h10.83v10.83h-10.83zM1058.09 1256.09h10.83v10.83h-10.83zM1073.09 1256.09h10.83v10.83h-10.83zM1088.09 1256.09h10.83v10.83h-10.83zM953.09 1271.09h10.83v10.83h-10.83zM968.09 1271.09h10.83v10.83h-10.83zM983.09 1271.09h10.83v10.83h-10.83zM998.09 1271.09h10.83v10.83h-10.83zM1013.09 1271.09h10.83v10.83h-10.83zM1028.09 1271.09h10.83v10.83h-10.83zM1043.09 1271.09h10.83v10.83h-10.83zM1058.09 1271.09h10.83v10.83h-10.83zM1073.09 1271.09h10.83v10.83h-10.83zM1088.09 1271.09h10.83v10.83h-10.83zM953.09 1286.09h10.83v10.83h-10.83zM968.09 1286.09h10.83v10.83h-10.83zM983.09 1286.09h10.83v10.83h-10.83zM998.09 1286.09h10.83v10.83h-10.83zM1013.09 1286.09h10.83v10.83h-10.83zM1028.09 1286.09h10.83v10.83h-10.83zM1043.09 1286.09h10.83v10.83h-10.83zM1058.09 1286.09h10.83v10.83h-10.83zM1073.09 1286.09h10.83v10.83h-10.83zM1088.09 1286.09h10.83v10.83h-10.83zM953.09 1301.09h10.83v10.83h-10.83zM968.09 1301.09h10.83v10.83h-10.83zM983.09 1301.09h10.83v10.83h-10.83zM998.09 1301.09h10.83v10.83h-10.83zM1013.09 1301.09h10.83v10.83h-10.83zM1028.09 1301.09h10.83v10.83h-10.83zM1043.09 1301.09h10.83v10.83h-10.83zM1058.09 1301.09h10.83v10.83h-10.83zM1073.09 1301.09h10.83v10.83h-10.83zM1088.09 1301.09h10.83v10.83h-10.83zM953.09 1316.09h10.83v10.83h-10.83zM968.09 1316.09h10.83v10.83h-10.83zM983.09 1316.09h10.83v10.83h-10.83zM998.09 1316.09h10.83v10.83h-10.83zM1013.09 1316.09h10.83v10.83h-10.83zM1028.09 1316.09h10.83v10.83h-10.83zM1043.09 1316.09h10.83v10.83h-10.83zM1058.09 1316.09h10.83v10.83h-10.83zM1073.09 1316.09h10.83v10.83h-10.83zM1088.09 1316.09h10.83v10.83h-10.83zM953.09 1331.09h10.83v11.83h-10.83zM968.09 1331.09h10.83v11.83h-10.83zM983.09 1331.09h10.83v11.83h-10.83zM998.09 1331.09h10.83v11.83h-10.83zM1013.09 1331.09h10.83v11.83h-10.83zM1028.09 1331.09h10.83v11.83h-10.83zM1043.09 1331.09h10.83v11.83h-10.83zM1058.09 1331.09h10.83v11.83h-10.83zM1073.09 1331.09h10.83v11.83h-10.83zM1088.09 1331.09h10.83v11.83h-10.83zM953.09 1347.09h10.83v10.83h-10.83zM968.09 1347.09h10.83v10.83h-10.83zM983.09 1347.09h10.83v10.83h-10.83zM998.09 1347.09h10.83v10.83h-10.83zM1013.09 1347.09h10.83v10.83h-10.83zM1028.09 1347.09h10.83v10.83h-10.83zM1043.09 1347.09h10.83v10.83h-10.83zM1058.09 1347.09h10.83v10.83h-10.83zM1073.09 1347.09h10.83v10.83h-10.83zM1088.09 1347.09h10.83v10.83h-10.83zM953.09 1362.09h10.83v10.83h-10.83zM968.09 1362.09h10.83v10.83h-10.83zM983.09 1362.09h10.83v10.83h-10.83zM998.09 1362.09h10.83v10.83h-10.83zM1013.09 1362.09h10.83v10.83h-10.83zM1028.09 1362.09h10.83v10.83h-10.83zM1043.09 1362.09h10.83v10.83h-10.83zM1058.09 1362.09h10.83v10.83h-10.83zM1073.09 1362.09h10.83v10.83h-10.83zM1088.09 1362.09h10.83v10.83h-10.83zM953.09 1377.09h10.83v10.83h-10.83zM968.09 1377.09h10.83v10.83h-10.83zM983.09 1377.09h10.83v10.83h-10.83zM998.09 1377.09h10.83v10.83h-10.83zM1013.09 1377.09h10.83v10.83h-10.83zM1028.09 1377.09h10.83v10.83h-10.83zM1043.09 1377.09h10.83v10.83h-10.83zM1058.09 1377.09h10.83v10.83h-10.83zM1073.09 1377.09h10.83v10.83h-10.83zM1088.09 1377.09h10.83v10.83h-10.83zM953.09 1392.09h10.83v10.83h-10.83zM968.09 1392.09h10.83v10.83h-10.83zM983.09 1392.09h10.83v10.83h-10.83zM998.09 1392.09h10.83v10.83h-10.83zM1013.09 1392.09h10.83v10.83h-10.83zM1028.09 1392.09h10.83v10.83h-10.83zM1043.09 1392.09h10.83v10.83h-10.83zM1058.09 1392.09h10.83v10.83h-10.83zM1073.09 1392.09h10.83v10.83h-10.83zM1088.09 1392.09h10.83v10.83h-10.83z"/>
<path fill="#ffe88f" d="M847.09 35.09h10.83v10.83h-10.83zM862.09 35.09h10.83v10.83h-10.83zM877.09 35.09h10.83v10.83h-10.83zM907.09 1090.09h10.83v10.83h-10.83z"/>
<path fill="#ea3b28" d="M892.09 35.09h10.83v10.83h-10.83zM968.09 292.08h10.83v10.83h-10.83zM1028.09 322.08h10.83v10.83h-10.83zM1088.09 337.08h10.83v10.83h-10.83zM1058.09 970.09h10.83v10.83h-10.83zM1088.09 970.09h10.83v10.83h-10.83zM998.09 985.09h10.83v10.83h-10.83zM968.09 1015.09h10.83v10.83h-10.83zM1043.09 1105.09h10.83v10.83h-10.83zM983.09 1120.09h10.83v11.83h-10.83z"/>
<path fill="#fffbb2" d="M907.09 35.09h10.83v10.83h-10.83zM847.09 96.08h10.83v10.83h-10.83zM862.09 96.08h10.83v10.83h-10.83zM877.09 96.08h10.83v10.83h-10.83zM922.09 246.09h11.83v10.83h-11.83zM998.09 578.09h10.83v10.83h-10.83zM1028.09 578.09h10.83v10.83h-10.83zM1088.09 578.09h10.83v10.83h-10.83zM1028.09 593.09h10.83v10.83h-10.83zM1058.09 593.09h10.83v10.83h-10.83zM1088.09 593.09h10.83v10.83h-10.83zM1028.09 608.09h10.83v10.83h-10.83zM1088.09 608.09h10.83v10.83h-10.83zM983.09 623.09h10.83v10.83h-10.83zM1028.09 623.09h10.83v10.83h-10.83zM1013.09 638.09h10.83v10.83h-10.83zM1013.09 653.09h10.83v10.83h-10.83zM1013.09 668.09h10.83v10.83h-10.83zM1058.09 698.09h10.83v11.83h-10.83zM1028.09 729.09h10.83v10.83h-10.83zM1043.09 729.09h10.83v10.83h-10.83zM1013.09 759.09h10.83v10.83h-10.83zM983.09 789.09h10.83v10.83h-10.83zM847.09 1000.09h10.83v10.83h-10.83zM862.09 1000.09h10.83v10.83h-10.83zM877.09 1000.09h10.83v10.83h-10.83zM953.09 1045.09h10.83v10.83h-10.83zM892.09 1120.09h10.83v11.83h-10.83z"/>
<path fill="#ff8c4a" d="M922.09 35.09h11.83v10.83h-11.83zM922.09 50.09h11.83v10.83h-11.83zM922.09 65.08h11.83v11.83h-11.83zM892.09 156.09h10.83v10.83h-10.83zM802.09 322.08h10.83v10.83h-10.83zM817.09 322.08h10.83v10.83h-10.83zM832.09 322.08h10.83v10.83h-10.83zM1058.09 382.08h10.83v10.83h-10.83zM998.09 397.08h10.83v10.83h-10.83zM1028.09 397.08h10.83v10.83h-10.83zM953.09 533.09h10.83v10.83h-10.83zM953.09 548.09h10.83v10.83h-10.83zM983.09 578.09h10.83v10.83h-10.83zM1013.09 578.09h10.83v10.83h-10.83zM1043.09 578.09h10.83v10.83h-10.83zM1088.09 940.09h10.83v10.83h-10.83zM983.09 1060.09h10.83v10.83h-10.83zM983.09 1075.09h10.83v10.83h-10.83zM1013.09 1075.09h10.83v10.83h-10.83zM953.09 1120.09h10.83v11.83h-10.83zM802.09 1181.09h10.83v10.83h-10.83zM817.09 1181.09h10.83v10.83h-10.83zM802.09 1196.09h10.83v10.83h-10.83zM802.09 1211.09h10.83v10.83h-10.83zM817.09 1211.09h10.83v10.83h-10.83zM832.09 1211.09h10.83v10.83h-10.83zM802.09 1226.09h10.83v10.83h-10.83zM817.09 1226.09h10.83v10.83h-10.83zM832.09 1226.09h10.83v10.83h-10.83zM802.09 1241.09h10.83v10.83h-10.83zM817.09 1241.09h10.83v10.83h-10.83zM832.09 1241.09h10.83v10.83h-10.83zM802.09 1256.09h10.83v10.83h-10.83zM817.09 1256.09h10.83v10.83h-10.83zM832.09 1256.09h10.83v10.83h-10.83zM802.09 1271.09h10.83v10.83h-10.83zM817.09 1271.09h10.83v10.83h-10.83zM832.09 1271.09h10.83v10.83h-10.83zM802.09 1286.09h10.83v10.83h-10.83zM817.09 1286.09h10.83v10.83h-10.83zM832.09 1286.09h10.83v10.83h-10.83zM802.09 1301.09h10.83v10.83h-10.83zM817.09 1301.09h10.83v10.83h-10.83zM832.09 1301.09h10.83v10.83h-10.83zM802.09 1316.09h10.83v10.83h-10.83zM817.09 1316.09h10.83v10.83h-10.83zM832.09 1316.09h10.83v10.83h-10.83zM802.09 1331.09h10.83v11.83h-10.83zM817.09 1331.09h10.83v11.83h-10.83zM832.09 1331.09h10.83v11.83h-10.83zM802.09 1347.09h10.83v10.83h-10.83zM817.09 1347.09h10.83v10.83h-10.83zM832.09 1347.09h10.83v10.83h-10.83zM802.09 1362.09h10.83v10.83h-10.83zM817.09 1362.09h10.83v10.83h-10.83zM832.09 1362.09h10.83v10.83h-10.83zM802.09 1377.09h10.83v10.83h-10.83zM817.09 1377.09h10.83v10.83h-10.83zM832.09 1377.09h10.83v10.83h-10.83zM802.09 1392.09h10.83v10.83h-10.83zM817.09 1392.09h10.83v10.83h-10.83zM832.09 1392.09h10.83v10.83h-10.83z"/>
<path fill="#eef9a1" d="M938.09 35.09h10.83v10.83h-10.83zM907.09 81.08h10.83v10.83h-10.83zM847.09 156.09h10.83v10.83h-10.83zM862.09 156.09h10.83v10.83h-10.83zM877.09 156.09h10.83v10.83h-10.83zM968.09 397.08h10.83v10.83h-10.83zM802.09 412.08h10.83v10.83h-10.83zM817.09 412.08h10.83v10.83h-10.83zM832.09 412.08h10.83v10.83h-10.83zM998.09 593.09h10.83v10.83h-10.83zM983.09 774.09h10.83v10.83h-10.83zM998.09 774.09h10.83v10.83h-10.83z"/>
<path fill="#ffea94" d="M847.09 50.09h10.83v10.83h-10.83zM862.09 50.09h10.83v10.83h-10.83zM877.09 50.09h10.83v10.83h-10.83zM1028.09 518.09h10.83v10.83h-10.83zM1058.09 518.09h10.83v10.83h-10.83zM907.09 1075.09h10.83v10.83h-10.83zM802.09 1105.09h10.83v10.83h-10.83zM817.09 1105.09h10.83v10.83h-10.83zM832.09 1105.09h10.83v10.83h-10.83zM847.09 1105.09h10.83v10.83h-10.83zM862.09 1105.09h10.83v10.83h-10.83zM877.09 1105.09h10.83v10.83h-10.83zM907.09 1105.09h10.83v10.83h-10.83zM847.09 1120.09h10.83v11.83h-10.83zM862.09 1120.09h10.83v11.83h-10.83zM877.09 1120.09h10.83v11.83h-10.83zM847.09 1136.09h10.83v10.83h-10.83zM862.09 1136.09h10.83v10.83h-10.83zM877.09 1136.09h10.83v10.83h-10.83zM847.09 1151.09h10.83v10.83h-10.83zM862.09 1151.09h10.83v10.83h-10.83zM877.09 1151.09h10.83v10.83h-10.83zM847.09 1166.09h10.83v10.83h-10.83zM862.09 1166.09h10.83v10.83h-10.83zM877.09 1166.09h10.83v10.83h-10.83z"/>
<path fill="#ed422b" d="M892.09 50.09h10.83v10.83h-10.83z"/>
<path fill="#fdffb6" d="M907.09 50.09h10.83v10.83h-10.83zM1028.09 744.09h10.83v10.83h-10.83zM907.09 1000.09h10.83v10.83h-10.83z"/>
<path fill="#e9f79a" d="M938.09 50.09h10.83v10.83h-10.83z"/>
<path fill="#ffec98" d="M847.09 65.08h10.83v11.83h-10.83zM862.09 65.08h10.83v11.83h-10.83zM877.09 65.08h10.83v11.83h-10.83zM802.09 1090.09h10.83v10.83h-10.83zM817.09 1090.09h10.83v10.83h-10.83zM832.09 1090.09h10.83v10.83h-10.83zM847.09 1090.09h10.83v10.83h-10.83zM862.09 1090.09h10.83v10.83h-10.83zM877.09 1090.09h10.83v10.83h-10.83z"/>
<path fill="#f04a2e" d="M892.09 65.08h10.83v11.83h-10.83zM998.09 322.08h10.83v10.83h-10.83zM1028.09 337.08h10.83v10.83h-10.83zM1058.09 337.08h10.83v10.83h-10.83zM1088.09 352.08h10.83v10.83h-10.83zM953.09 472.08h10.83v10.83h-10.83zM983.09 472.08h10.83v10.83h-10.83zM1013.09 472.08h10.83v10.83h-10.83zM1043.09 472.08h10.83v10.83h-10.83zM1073.09 472.08h10.83v10.83h-10.83zM998.09 970.09h10.83v10.83h-10.83zM1028.09 970.09h10.83v10.83h-10.83zM968.09 985.09h10.83v10.83h-10.83zM968.09 1000.09h10.83v10.83h-10.83zM1013.09 1105.09h10.83v10.83h-10.83zM953.09 1136.09h10.83v10.83h-10.83z"/>
<path fill="#f9fdb0" d="M907.09 65.08h10.83v11.83h-10.83zM1028.09 638.09h10.83v10.83h-10.83zM1028.09 653.09h10.83v10.83h-10.83zM1028.09 668.09h10.83v10.83h-10.83zM968.09 940.09h10.83v10.83h-10.83zM892.09 1105.09h10.83v10.83h-10.83z"/>
<path fill="#e2f490" d="M938.09 65.08h10.83v11.83h-10.83zM907.09 96.08h10.83v10.83h-10.83zM847.09 186.09h10.83v10.83h-10.83zM862.09 186.09h10.83v10.83h-10.83zM877.09 186.09h10.83v10.83h-10.83zM953.09 608.09h10.83v10.83h-10.83zM998.09 608.09h10.83v10.83h-10.83zM983.09 638.09h10.83v10.83h-10.83zM1043.09 714.09h10.83v10.83h-10.83zM1013.09 729.09h10.83v10.83h-10.83zM968.09 819.09h10.83v10.83h-10.83zM968.09 834.09h10.83v10.83h-10.83zM953.09 909.09h10.83v11.83h-10.83zM892.09 1090.09h10.83v10.83h-10.83z"/>
<path fill="#fff4a5" d="M847.09 81.08h10.83v10.83h-10.83zM862.09 81.08h10.83v10.83h-10.83zM877.09 81.08h10.83v10.83h-10.83zM817.09 397.08h10.83v10.83h-10.83zM832.09 397.08h10.83v10.83h-10.83zM998.09 563.09h10.83v10.83h-10.83zM1028.09 563.09h10.83v10.83h-10.83zM1058.09 563.09h10.83v10.83h-10.83zM1088.09 563.09h10.83v10.83h-10.83zM1058.09 578.09h10.83v10.83h-10.83zM1058.09 608.09h10.83v10.83h-10.83zM1013.09 623.09h10.83v10.83h-10.83zM1058.09 623.09h10.83v10.83h-10.83zM1073.09 623.09h10.83v10.83h-10.83zM1088.09 623.09h10.83v10.83h-10.83zM1043.09 638.09h10.83v10.83h-10.83zM1058.09 638.09h10.83v10.83h-10.83zM1073.09 638.09h10.83v10.83h-10.83zM1088.09 638.09h10.83v10.83h-10.83zM1043.09 653.09h10.83v10.83h-10.83zM1058.09 653.09h10.83v10.83h-10.83zM1073.09 653.09h10.83v10.83h-10.83zM1088.09 653.09h10.83v10.83h-10.83zM1043.09 668.09h10.83v10.83h-10.83zM1058.09 668.09h10.83v10.83h-10.83zM1073.09 668.09h10.83v10.83h-10.83zM1088.09 668.09h10.83v10.83h-10.83zM1058.09 683.09h10.83v10.83h-10.83zM1073.09 683.09h10.83v10.83h-10.83zM1073.09 729.09h10.83v10.83h-10.83zM1028.09 759.09h10.83v10.83h-10.83zM1043.09 759.09h10.83v10.83h-10.83zM1058.09 759.09h10.83v10.83h-10.83zM1073.09 759.09h10.83v10.83h-10.83zM1088.09 759.09h10.83v10.83h-10.83zM998.09 789.09h10.83v10.83h-10.83zM802.09 1015.09h10.83v10.83h-10.83zM817.09 1015.09h10.83v10.83h-10.83zM832.09 1015.09h10.83v10.83h-10.83zM907.09 1045.09h10.83v10.83h-10.83zM938.09 1105.09h10.83v10.83h-10.83zM922.09 1166.09h11.83v10.83h-11.83z"/>
<path fill="#f35131" d="M892.09 81.08h10.83v10.83h-10.83z"/>
<path fill="#ff944d" d="M922.09 81.08h11.83v10.83h-11.83z"/>
<path fill="#d9f183" d="M938.09 81.08h10.83v10.83h-10.83zM907.09 111.08h10.83v10.83h-10.83zM847.09 201.09h10.83v10.83h-10.83zM862.09 201.09h10.83v10.83h-10.83zM877.09 201.09h10.83v10.83h-10.83zM998.09 623.09h10.83v10.83h-10.83zM998.09 638.09h10.83v10.83h-10.83zM983.09 653.09h10.83v10.83h-10.83zM998.09 653.09h10.83v10.83h-10.83zM983.09 668.09h10.83v10.83h-10.83zM998.09 668.09h10.83v10.83h-10.83zM983.09 683.09h10.83v10.83h-10.83zM998.09 683.09h10.83v10.83h-10.83zM983.09 698.09h10.83v11.83h-10.83zM983.09 744.09h10.83v10.83h-10.83zM983.09 759.09h10.83v10.83h-10.83zM998.09 759.09h10.83v10.83h-10.83zM968.09 804.09h10.83v10.83h-10.83zM953.09 819.09h10.83v10.83h-10.83zM953.09 834.09h10.83v10.83h-10.83zM953.09 849.09h10.83v10.83h-10.83zM953.09 864.09h10.83v10.83h-10.83zM968.09 864.09h10.83v10.83h-10.83zM968.09 879.09h10.83v10.83h-10.83zM968.09 894.09h10.83v10.83h-10.83zM968.09 909.09h10.83v11.83h-10.83zM968.09 925.09h10.83v10.83h-10.83zM953.09 955.09h10.83v10.83h-10.83zM938.09 1015.09h10.83v10.83h-10.83zM953.09 1015.09h10.83v10.83h-10.83z"/>
<path fill="#f65834" d="M892.09 96.08h10.83v10.83h-10.83zM998.09 337.08h10.83v10.83h-10.83zM1028.09 352.08h10.83v10.83h-10.83zM1058.09 352.08h10.83v10.83h-10.83zM953.09 487.08h10.83v11.83h-10.83zM983.09 487.08h10.83v11.83h-10.83zM1013.09 487.08h10.83v11.83h-10.83zM1043.09 487.08h10.83v11.83h-10.83zM1073.09 487.08h10.83v11.83h-10.83zM1043.09 503.08h10.83v10.83h-10.83zM1073.09 503.08h10.83v10.83h-10.83zM1073.09 1075.09h10.83v10.83h-10.83zM983.09 1105.09h10.83v10.83h-10.83z"/>
<path fill="#ff9b51" d="M922.09 96.08h11.83v10.83h-11.83zM892.09 171.09h10.83v10.83h-10.83zM802.09 337.08h10.83v10.83h-10.83zM817.09 337.08h10.83v10.83h-10.83zM832.09 337.08h10.83v10.83h-10.83zM1088.09 382.08h10.83v10.83h-10.83zM1058.09 397.08h10.83v10.83h-10.83zM998.09 412.08h10.83v10.83h-10.83zM1028.09 412.08h10.83v10.83h-10.83zM953.09 563.09h10.83v10.83h-10.83zM1073.09 578.09h10.83v10.83h-10.83zM983.09 593.09h10.83v10.83h-10.83zM1013.09 593.09h10.83v10.83h-10.83zM998.09 940.09h10.83v10.83h-10.83zM1028.09 940.09h10.83v10.83h-10.83zM1058.09 940.09h10.83v10.83h-10.83zM983.09 1045.09h10.83v10.83h-10.83zM1013.09 1045.09h10.83v10.83h-10.83zM1043.09 1045.09h10.83v10.83h-10.83zM1073.09 1045.09h10.83v10.83h-10.83zM1013.09 1060.09h10.83v10.83h-10.83zM1043.09 1060.09h10.83v10.83h-10.83zM847.09 1181.09h10.83v10.83h-10.83zM862.09 1181.09h10.83v10.83h-10.83zM877.09 1181.09h10.83v10.83h-10.83zM892.09 1181.09h10.83v10.83h-10.83zM907.09 1181.09h10.83v10.83h-10.83zM922.09 1181.09h11.83v10.83h-11.83zM938.09 1181.09h10.83v10.83h-10.83zM847.09 1196.09h10.83v10.83h-10.83zM862.09 1196.09h10.83v10.83h-10.83zM877.09 1196.09h10.83v10.83h-10.83zM892.09 1196.09h10.83v10.83h-10.83zM907.09 1196.09h10.83v10.83h-10.83zM922.09 1196.09h11.83v10.83h-11.83zM938.09 1196.09h10.83v10.83h-10.83zM847.09 1211.09h10.83v10.83h-10.83zM862.09 1211.09h10.83v10.83h-10.83zM877.09 1211.09h10.83v10.83h-10.83zM892.09 1211.09h10.83v10.83h-10.83zM907.09 1211.09h10.83v10.83h-10.83zM922.09 1211.09h11.83v10.83h-11.83zM938.09 1211.09h10.83v10.83h-10.83zM847.09 1226.09h10.83v10.83h-10.83zM862.09 1226.09h10.83v10.83h-10.83zM877.09 1226.09h10.83v10.83h-10.83zM892.09 1226.09h10.83v10.83h-10.83zM907.09 1226.09h10.83v10.83h-10.83zM922.09 1226.09h11.83v10.83h-11.83zM938.09 1226.09h10.83v10.83h-10.83zM847.09 1241.09h10.83v10.83h-10.83zM862.09 1241.09h10.83v10.83h-10.83zM877.09 1241.09h10.83v10.83h-10.83zM892.09 1241.09h10.83v10.83h-10.83zM907.09 1241.09h10.83v10.83h-10.83zM922.09 1241.09h11.83v10.83h-11.83zM938.09 1241.09h10.83v10.83h-10.83zM847.09 1256.09h10.83v10.83h-10.83zM862.09 1256.09h10.83v10.83h-10.83zM877.09 1256.09h10.83v10.83h-10.83zM892.09 1256.09h10.83v10.83h-10.83zM907.09 1256.09h10.83v10.83h-10.83zM922.09 1256.09h11.83v10.83h-11.83zM938.09 1256.09h10.83v10.83h-10.83zM847.09 1271.09h10.83v10.83h-10.83zM862.09 1271.09h10.83v10.83h-10.83zM877.09 1271.09h10.83v10.83h-10.83zM892.09 1271.09h10.83v10.83h-10.83zM907.09 1271.09h10.83v10.83h-10.83zM922.09 1271.09h11.83v10.83h-11.83zM938.09 1271.09h10.83v10.83h-10.83zM847.09 1286.09h10.83v10.83h-10.83zM862.09 1286.09h10.83v10.83h-10.83zM877.09 1286.09h10.83v10.83h-10.83zM892.09 1286.09h10.83v10.83h-10.83zM907.09 1286.09h10.83v10.83h-10.83zM922.09 1286.09h11.83v10.83h-11.83zM938.09 1286.09h10.83v10.83h-10.83zM847.09 1301.09h10.83v10.83h-10.83zM862.09 1301.09h10.83v10.83h-10.83zM877.09 1301.09h10.83v10.83h-10.83zM892.09 1301.09h10.83v10.83h-10.83zM907.09 1301.09h10.83v10.83h-10.83zM922.09 1301.09h11.83v10.83h-11.83zM938.09 1301.09h10.83v10.83h-10.83zM847.09 1316.09h10.83v10.83h-10.83zM862.09 1316.09h10.83v10.83h-10.83zM877.09 1316.09h10.83v10.83h-10.83zM892.09 1316.09h10.83v10.83h-10.83zM907.09 1316.09h10.83v10.83h-10.83zM922.09 1316.09h11.83v10.83h-11.83zM938.09 1316.09h10.83v10.83h-10.83zM847.09 1331.09h10.83v11.83h-10.83zM862.09 1331.09h10.83v11.83h-10.83zM877.09 1331.09h10.83v11.83h-10.83zM892.09 1331.09h10.83v11.83h-10.83zM907.09 1331.09h10.83v11.83h-10.83zM922.09 1331.09h11.83v11.83h-11.83zM938.09 1331.09h10.83v11.83h-10.83zM847.09 1347.09h10.83v10.83h-10.83zM862.09 1347.09h10.83v10.83h-10.83zM877.09 1347.09h10.83v10.83h-10.83zM892.09 1347.09h10.83v10.83h-10.83zM907.09 1347.09h10.83v10.83h-10.83zM922.09 1347.09h11.83v10.83h-11.83zM938.09 1347.09h10.83v10.83h-10.83zM847.09 1362.09h10.83v10.83h-10.83zM862.09 1362.09h10.83v10.83h-10.83zM877.09 1362.09h10.83v10.83h-10.83zM892.09 1362.09h10.83v10.83h-10.83zM907.09 1362.09h10.83v10.83h-10.83zM922.09 1362.09h11.83v10.83h-11.83zM938.09 1362.09h10.83v10.83h-10.83zM847.09 1377.09h10.83v10.83h-10.83zM862.09 1377.09h10.83v10.83h-10.83zM877.09 1377.09h10.83v10.83h-10.83zM892.09 1377.09h10.83v10.83h-10.83zM907.09 1377.09h10.83v10.83h-10.83zM922.09 1377.09h11.83v10.83h-11.83zM938.09 1377.09h10.83v10.83h-10.83zM847.09 1392.09h10.83v10.83h-10.83zM862.09 1392.09h10.83v10.83h-10.83zM877.09 1392.09h10.83v10.83h-10.83zM892.09 1392.09h10.83v10.83h-10.83zM907.09 1392.09h10.83v10.83h-10.83zM922.09 1392.09h11.83v10.83h-11.83zM938.09 1392.09h10.83v10.83h-10.83z"/>
<path fill="#caeb7a" d="M938.09 96.08h10.83v10.83h-10.83zM907.09 141.09h10.83v10.83h-10.83zM847.09 216.09h10.83v10.83h-10.83zM862.09 216.09h10.83v10.83h-10.83zM877.09 216.09h10.83v10.83h-10.83zM968.09 412.08h10.83v10.83h-10.83zM802.09 427.08h10.83v10.83h-10.83zM817.09 427.08h10.83v10.83h-10.83zM832.09 427.08h10.83v10.83h-10.83zM998.09 698.09h10.83v11.83h-10.83zM1013.09 714.09h10.83v10.83h-10.83zM983.09 729.09h10.83v10.83h-10.83zM953.09 1000.09h10.83v10.83h-10.83z"/>
<path fill="#ffffb8" d="M847.09 111.08h10.83v10.83h-10.83zM862.09 111.08h10.83v10.83h-10.83zM877.09 111.08h10.83v10.83h-10.83zM802.09 970.09h10.83v10.83h-10.83zM817.09 970.09h10.83v10.83h-10.83zM832.09 970.09h10.83v10.83h-10.83zM847.09 985.09h10.83v10.83h-10.83zM862.09 985.09h10.83v10.83h-10.83zM877.09 985.09h10.83v10.83h-10.83zM938.09 1045.09h10.83v10.83h-10.83zM938.09 1060.09h10.83v10.83h-10.83zM938.09 1075.09h10.83v10.83h-10.83zM922.09 1136.09h11.83v10.83h-11.83z"/>
<path fill="#fe693b" d="M892.09 111.08h10.83v10.83h-10.83zM802.09 261.08h10.83v10.83h-10.83zM817.09 261.08h10.83v10.83h-10.83zM832.09 261.08h10.83v10.83h-10.83zM802.09 276.08h10.83v11.83h-10.83zM802.09 292.08h10.83v10.83h-10.83zM998.09 352.08h10.83v10.83h-10.83zM998.09 367.08h10.83v10.83h-10.83zM1028.09 367.08h10.83v10.83h-10.83zM1058.09 367.08h10.83v10.83h-10.83zM953.09 503.08h10.83v10.83h-10.83zM983.09 503.08h10.83v10.83h-10.83zM1013.09 503.08h10.83v10.83h-10.83zM983.09 518.09h10.83v10.83h-10.83zM1013.09 518.09h10.83v10.83h-10.83zM1043.09 518.09h10.83v10.83h-10.83zM1073.09 518.09h10.83v10.83h-10.83zM1043.09 533.09h10.83v10.83h-10.83zM1043.09 1090.09h10.83v10.83h-10.83z"/>
<path fill="#ffab57" d="M922.09 111.08h11.83v10.83h-11.83zM892.09 186.09h10.83v10.83h-10.83zM802.09 352.08h10.83v10.83h-10.83zM1088.09 397.08h10.83v10.83h-10.83zM998.09 427.08h10.83v10.83h-10.83zM1028.09 427.08h10.83v10.83h-10.83zM1043.09 593.09h10.83v10.83h-10.83zM1058.09 819.09h10.83v10.83h-10.83zM1058.09 834.09h10.83v10.83h-10.83zM1058.09 849.09h10.83v10.83h-10.83zM1058.09 864.09h10.83v10.83h-10.83zM1058.09 879.09h10.83v10.83h-10.83zM1058.09 894.09h10.83v10.83h-10.83zM1058.09 909.09h10.83v11.83h-10.83zM998.09 925.09h10.83v10.83h-10.83zM1028.09 925.09h10.83v10.83h-10.83zM1058.09 925.09h10.83v10.83h-10.83zM1088.09 925.09h10.83v10.83h-10.83zM1073.09 1015.09h10.83v10.83h-10.83zM983.09 1030.09h10.83v10.83h-10.83zM1013.09 1030.09h10.83v10.83h-10.83zM1043.09 1030.09h10.83v10.83h-10.83zM1073.09 1030.09h10.83v10.83h-10.83z"/>
<path fill="#b9e46f" d="M938.09 111.08h10.83v10.83h-10.83zM907.09 156.09h10.83v10.83h-10.83zM892.09 261.08h10.83v10.83h-10.83zM968.09 427.08h10.83v10.83h-10.83z"/>
<path fill="#fafeb2" d="M847.09 126.08h10.83v10.83h-10.83zM862.09 126.08h10.83v10.83h-10.83zM877.09 126.08h10.83v10.83h-10.83zM1013.09 698.09h10.83v11.83h-10.83z"/>
<path fill="#ff713f" d="M892.09 126.08h10.83v10.83h-10.83zM817.09 276.08h10.83v11.83h-10.83zM832.09 276.08h10.83v11.83h-10.83zM1073.09 533.09h10.83v10.83h-10.83z"/>
<path fill="#d2ee7f" d="M907.09 126.08h10.83v10.83h-10.83z"/>
<path fill="#ffb45e" d="M922.09 126.08h11.83v10.83h-11.83zM1028.09 864.09h10.83v10.83h-10.83zM1088.09 864.09h10.83v10.83h-10.83zM1028.09 879.09h10.83v10.83h-10.83zM1088.09 879.09h10.83v10.83h-10.83zM998.09 894.09h10.83v10.83h-10.83z"/>
<path fill="#b3e26b" d="M938.09 126.08h10.83v10.83h-10.83zM847.09 925.09h10.83v10.83h-10.83zM862.09 925.09h10.83v10.83h-10.83zM877.09 925.09h10.83v10.83h-10.83zM892.09 1060.09h10.83v10.83h-10.83z"/>
<path fill="#f6fcab" d="M847.09 141.09h10.83v10.83h-10.83zM862.09 141.09h10.83v10.83h-10.83zM877.09 141.09h10.83v10.83h-10.83zM802.09 955.09h10.83v10.83h-10.83zM817.09 955.09h10.83v10.83h-10.83zM832.09 955.09h10.83v10.83h-10.83z"/>
<path fill="#ff7942" d="M892.09 141.09h10.83v10.83h-10.83zM817.09 292.08h10.83v10.83h-10.83zM832.09 292.08h10.83v10.83h-10.83zM802.09 307.08h10.83v10.83h-10.83zM968.09 307.08h10.83v10.83h-10.83zM1088.09 367.08h10.83v10.83h-10.83zM998.09 382.08h10.83v10.83h-10.83zM1028.09 382.08h10.83v10.83h-10.83zM953.09 518.09h10.83v10.83h-10.83zM983.09 533.09h10.83v10.83h-10.83zM1013.09 533.09h10.83v10.83h-10.83zM983.09 548.09h10.83v10.83h-10.83zM1013.09 548.09h10.83v10.83h-10.83zM1043.09 548.09h10.83v10.83h-10.83zM1073.09 548.09h10.83v10.83h-10.83zM983.09 563.09h10.83v10.83h-10.83zM1013.09 563.09h10.83v10.83h-10.83zM1043.09 563.09h10.83v10.83h-10.83zM1073.09 563.09h10.83v10.83h-10.83zM998.09 955.09h10.83v10.83h-10.83zM1028.09 955.09h10.83v10.83h-10.83zM1058.09 955.09h10.83v10.83h-10.83zM1088.09 955.09h10.83v10.83h-10.83zM968.09 970.09h10.83v10.83h-10.83zM1073.09 1060.09h10.83v10.83h-10.83zM1043.09 1075.09h10.83v10.83h-10.83zM983.09 1090.09h10.83v10.83h-10.83zM1013.09 1090.09h10.83v10.83h-10.83zM832.09 1181.09h10.83v10.83h-10.83zM817.09 1196.09h10.83v10.83h-10.83zM832.09 1196.09h10.83v10.83h-10.83z"/>
<path fill="#ffba63" d="M922.09 141.09h11.83v10.83h-11.83zM892.09 201.09h10.83v10.83h-10.83zM817.09 352.08h10.83v10.83h-10.83zM832.09 352.08h10.83v10.83h-10.83zM1058.09 412.08h10.83v10.83h-10.83zM1088.09 412.08h10.83v10.83h-10.83zM998.09 442.08h10.83v10.83h-10.83zM1028.09 442.08h10.83v10.83h-10.83zM953.09 578.09h10.83v10.83h-10.83zM998.09 819.09h10.83v10.83h-10.83zM1028.09 819.09h10.83v10.83h-10.83zM1088.09 819.09h10.83v10.83h-10.83zM998.09 834.09h10.83v10.83h-10.83zM998.09 849.09h10.83v10.83h-10.83zM983.09 864.09h10.83v10.83h-10.83zM998.09 864.09h10.83v10.83h-10.83zM983.09 879.09h10.83v10.83h-10.83zM983.09 894.09h10.83v10.83h-10.83zM983.09 909.09h10.83v11.83h-10.83zM983.09 925.09h10.83v10.83h-10.83zM983.09 940.09h10.83v10.83h-10.83zM983.09 955.09h10.83v10.83h-10.83zM983.09 970.09h10.83v10.83h-10.83zM983.09 985.09h10.83v10.83h-10.83zM1013.09 985.09h10.83v10.83h-10.83zM1043.09 985.09h10.83v10.83h-10.83zM1073.09 985.09h10.83v10.83h-10.83zM983.09 1000.09h10.83v10.83h-10.83zM1013.09 1000.09h10.83v10.83h-10.83zM1043.09 1000.09h10.83v10.83h-10.83zM1073.09 1000.09h10.83v10.83h-10.83zM983.09 1015.09h10.83v10.83h-10.83zM1013.09 1015.09h10.83v10.83h-10.83zM1043.09 1015.09h10.83v10.83h-10.83z"/>
<path fill="#addf68" d="M938.09 141.09h10.83v10.83h-10.83zM907.09 171.09h10.83v10.83h-10.83zM938.09 231.09h10.83v10.83h-10.83zM938.09 246.09h10.83v10.83h-10.83zM968.09 442.08h10.83v10.83h-10.83zM922.09 1075.09h11.83v10.83h-11.83z"/>
<path fill="#ffc66d" d="M922.09 156.09h11.83v10.83h-11.83zM892.09 216.09h10.83v10.83h-10.83zM968.09 322.08h10.83v10.83h-10.83zM802.09 367.08h10.83v10.83h-10.83zM817.09 367.08h10.83v10.83h-10.83zM832.09 367.08h10.83v10.83h-10.83zM1058.09 427.08h10.83v10.83h-10.83zM1088.09 427.08h10.83v10.83h-10.83zM1058.09 442.08h10.83v10.83h-10.83zM998.09 457.08h10.83v10.83h-10.83zM1073.09 593.09h10.83v10.83h-10.83zM1058.09 789.09h10.83v10.83h-10.83zM1088.09 789.09h10.83v10.83h-10.83zM1058.09 804.09h10.83v10.83h-10.83zM1088.09 804.09h10.83v10.83h-10.83zM1043.09 819.09h10.83v10.83h-10.83zM1073.09 819.09h10.83v10.83h-10.83zM983.09 834.09h10.83v10.83h-10.83zM1013.09 834.09h10.83v10.83h-10.83zM1043.09 834.09h10.83v10.83h-10.83zM1073.09 834.09h10.83v10.83h-10.83zM1013.09 849.09h10.83v10.83h-10.83zM1013.09 864.09h10.83v10.83h-10.83zM953.09 1105.09h10.83v10.83h-10.83z"/>
<path fill="#a7dd64" d="M938.09 156.09h10.83v10.83h-10.83z"/>
<path fill="#e6f696" d="M847.09 171.09h10.83v10.83h-10.83zM862.09 171.09h10.83v10.83h-10.83zM877.09 171.09h10.83v10.83h-10.83zM953.09 1030.09h10.83v10.83h-10.83z"/>
<path fill="#ffd479" d="M922.09 171.09h11.83v10.83h-11.83zM892.09 231.09h10.83v10.83h-10.83zM1088.09 442.08h10.83v10.83h-10.83zM1028.09 457.08h10.83v10.83h-10.83zM1058.09 457.08h10.83v10.83h-10.83zM1088.09 457.08h10.83v10.83h-10.83zM998.09 472.08h10.83v10.83h-10.83zM1088.09 472.08h10.83v10.83h-10.83zM983.09 608.09h10.83v10.83h-10.83zM1058.09 774.09h10.83v10.83h-10.83zM1088.09 774.09h10.83v10.83h-10.83zM1043.09 789.09h10.83v10.83h-10.83zM998.09 804.09h10.83v10.83h-10.83zM1028.09 804.09h10.83v10.83h-10.83zM1043.09 804.09h10.83v10.83h-10.83zM983.09 819.09h10.83v10.83h-10.83z"/>
<path fill="#a0da61" d="M938.09 171.09h10.83v10.83h-10.83zM907.09 186.09h10.83v10.83h-10.83zM938.09 186.09h10.83v10.83h-10.83zM907.09 201.09h10.83v10.83h-10.83zM938.09 201.09h10.83v10.83h-10.83zM907.09 216.09h10.83v10.83h-10.83zM938.09 216.09h10.83v10.83h-10.83zM892.09 276.08h10.83v11.83h-10.83zM832.09 442.08h10.83v10.83h-10.83zM802.09 909.09h10.83v11.83h-10.83zM817.09 909.09h10.83v11.83h-10.83zM832.09 909.09h10.83v11.83h-10.83z"/>
<path fill="#ffe083" d="M922.09 186.09h11.83v10.83h-11.83zM892.09 246.09h10.83v10.83h-10.83zM968.09 337.08h10.83v10.83h-10.83zM968.09 352.08h10.83v10.83h-10.83zM802.09 382.08h10.83v10.83h-10.83zM817.09 382.08h10.83v10.83h-10.83zM832.09 382.08h10.83v10.83h-10.83zM1028.09 472.08h10.83v10.83h-10.83zM1058.09 472.08h10.83v10.83h-10.83zM998.09 487.08h10.83v11.83h-10.83zM1028.09 487.08h10.83v11.83h-10.83zM1088.09 503.08h10.83v10.83h-10.83zM1013.09 608.09h10.83v10.83h-10.83zM1043.09 774.09h10.83v10.83h-10.83zM1028.09 789.09h10.83v10.83h-10.83zM1073.09 789.09h10.83v10.83h-10.83zM1073.09 804.09h10.83v10.83h-10.83zM1013.09 819.09h10.83v10.83h-10.83zM968.09 955.09h10.83v10.83h-10.83z"/>
<path fill="#ffe68d" d="M922.09 201.09h11.83v10.83h-11.83zM922.09 216.09h11.83v10.83h-11.83zM968.09 367.08h10.83v10.83h-10.83zM998.09 503.08h10.83v10.83h-10.83zM1028.09 503.08h10.83v10.83h-10.83zM1058.09 503.08h10.83v10.83h-10.83zM998.09 518.09h10.83v10.83h-10.83zM1088.09 533.09h10.83v10.83h-10.83zM953.09 593.09h10.83v10.83h-10.83zM1013.09 774.09h10.83v10.83h-10.83zM1028.09 774.09h10.83v10.83h-10.83zM1073.09 774.09h10.83v10.83h-10.83zM1013.09 789.09h10.83v10.83h-10.83zM1013.09 804.09h10.83v10.83h-10.83zM802.09 1120.09h10.83v11.83h-10.83zM817.09 1120.09h10.83v11.83h-10.83zM832.09 1120.09h10.83v11.83h-10.83z"/>
<path fill="#c2e875" d="M847.09 231.09h10.83v10.83h-10.83zM862.09 231.09h10.83v10.83h-10.83zM877.09 231.09h10.83v10.83h-10.83z"/>
<path fill="#8dd360" d="M907.09 231.09h10.83v10.83h-10.83zM907.09 246.09h10.83v10.83h-10.83zM802.09 442.08h10.83v10.83h-10.83zM817.09 442.08h10.83v10.83h-10.83zM968.09 457.08h10.83v10.83h-10.83zM968.09 789.09h10.83v10.83h-10.83zM953.09 804.09h10.83v10.83h-10.83z"/>
<path fill="#ffee9a" d="M922.09 231.09h11.83v10.83h-11.83zM968.09 382.08h10.83v10.83h-10.83zM802.09 397.08h10.83v10.83h-10.83zM998.09 533.09h10.83v10.83h-10.83zM1028.09 533.09h10.83v10.83h-10.83zM1058.09 533.09h10.83v10.83h-10.83zM998.09 548.09h10.83v10.83h-10.83zM1088.09 548.09h10.83v10.83h-10.83zM1043.09 608.09h10.83v10.83h-10.83zM1073.09 608.09h10.83v10.83h-10.83zM1043.09 623.09h10.83v10.83h-10.83zM1088.09 683.09h10.83v10.83h-10.83zM1088.09 729.09h10.83v10.83h-10.83zM1058.09 744.09h10.83v10.83h-10.83zM983.09 804.09h10.83v10.83h-10.83zM802.09 1060.09h10.83v10.83h-10.83zM817.09 1060.09h10.83v10.83h-10.83zM832.09 1060.09h10.83v10.83h-10.83zM847.09 1060.09h10.83v10.83h-10.83zM862.09 1060.09h10.83v10.83h-10.83zM877.09 1060.09h10.83v10.83h-10.83zM802.09 1075.09h10.83v10.83h-10.83zM817.09 1075.09h10.83v10.83h-10.83zM832.09 1075.09h10.83v10.83h-10.83zM847.09 1075.09h10.83v10.83h-10.83zM862.09 1075.09h10.83v10.83h-10.83zM877.09 1075.09h10.83v10.83h-10.83zM953.09 1090.09h10.83v10.83h-10.83zM907.09 1120.09h10.83v11.83h-10.83z"/>
<path fill="#c81123" d="M998.09 231.09h10.83v10.83h-10.83zM1028.09 231.09h10.83v10.83h-10.83zM1058.09 231.09h10.83v10.83h-10.83zM1088.09 231.09h10.83v10.83h-10.83zM968.09 246.09h10.83v10.83h-10.83zM998.09 246.09h10.83v10.83h-10.83zM1028.09 246.09h10.83v10.83h-10.83zM1058.09 246.09h10.83v10.83h-10.83zM968.09 261.08h10.83v10.83h-10.83zM998.09 261.08h10.83v10.83h-10.83zM1028.09 261.08h10.83v10.83h-10.83zM1058.09 261.08h10.83v10.83h-10.83zM1088.09 261.08h10.83v10.83h-10.83zM968.09 276.08h10.83v11.83h-10.83zM998.09 276.08h10.83v11.83h-10.83zM1028.09 276.08h10.83v11.83h-10.83zM1058.09 276.08h10.83v11.83h-10.83zM1088.09 276.08h10.83v11.83h-10.83zM1028.09 292.08h10.83v10.83h-10.83zM1058.09 292.08h10.83v10.83h-10.83zM1088.09 292.08h10.83v10.83h-10.83zM953.09 397.08h10.83v10.83h-10.83zM953.09 412.08h10.83v10.83h-10.83zM1013.09 427.08h10.83v10.83h-10.83zM1013.09 442.08h10.83v10.83h-10.83zM1043.09 442.08h10.83v10.83h-10.83zM1088.09 1000.09h10.83v10.83h-10.83zM1058.09 1015.09h10.83v10.83h-10.83zM1088.09 1015.09h10.83v10.83h-10.83zM998.09 1030.09h10.83v10.83h-10.83zM1058.09 1030.09h10.83v10.83h-10.83zM968.09 1045.09h10.83v10.83h-10.83zM998.09 1045.09h10.83v10.83h-10.83zM1028.09 1045.09h10.83v10.83h-10.83zM968.09 1060.09h10.83v10.83h-10.83zM1028.09 1060.09h10.83v10.83h-10.83zM1073.09 1120.09h10.83v11.83h-10.83zM1013.09 1136.09h10.83v10.83h-10.83zM1043.09 1136.09h10.83v10.83h-10.83zM1073.09 1136.09h10.83v10.83h-10.83zM983.09 1151.09h10.83v10.83h-10.83zM953.09 1166.09h10.83v10.83h-10.83zM953.09 1181.09h10.83v10.83h-10.83z"/>
<path fill="#b7e46e" d="M847.09 246.09h10.83v10.83h-10.83zM862.09 246.09h10.83v10.83h-10.83zM877.09 246.09h10.83v10.83h-10.83zM938.09 1000.09h10.83v10.83h-10.83zM922.09 1090.09h11.83v10.83h-11.83z"/>
<path fill="#d61f22" d="M1088.09 246.09h10.83v10.83h-10.83zM998.09 292.08h10.83v10.83h-10.83zM1028.09 307.08h10.83v10.83h-10.83zM1058.09 307.08h10.83v10.83h-10.83zM1088.09 307.08h10.83v10.83h-10.83zM953.09 427.08h10.83v10.83h-10.83zM983.09 427.08h10.83v10.83h-10.83zM953.09 442.08h10.83v10.83h-10.83zM983.09 442.08h10.83v10.83h-10.83zM1013.09 457.08h10.83v10.83h-10.83zM1043.09 457.08h10.83v10.83h-10.83zM1073.09 457.08h10.83v10.83h-10.83zM1088.09 985.09h10.83v10.83h-10.83zM1058.09 1000.09h10.83v10.83h-10.83zM998.09 1015.09h10.83v10.83h-10.83zM1028.09 1015.09h10.83v10.83h-10.83zM968.09 1030.09h10.83v10.83h-10.83zM1028.09 1030.09h10.83v10.83h-10.83zM1073.09 1105.09h10.83v10.83h-10.83zM1013.09 1120.09h10.83v11.83h-10.83zM1043.09 1120.09h10.83v11.83h-10.83zM983.09 1136.09h10.83v10.83h-10.83zM953.09 1151.09h10.83v10.83h-10.83z"/>
<path fill="#00773b" d="M847.09 261.08h10.83v10.83h-10.83zM862.09 261.08h10.83v10.83h-10.83zM877.09 261.08h10.83v10.83h-10.83zM938.09 292.08h10.83v10.83h-10.83zM938.09 307.08h10.83v10.83h-10.83zM922.09 337.08h11.83v10.83h-11.83zM922.09 352.08h11.83v10.83h-11.83zM892.09 367.08h10.83v10.83h-10.83zM802.09 503.08h10.83v10.83h-10.83zM817.09 503.08h10.83v10.83h-10.83zM832.09 503.08h10.83v10.83h-10.83zM968.09 608.09h10.83v10.83h-10.83zM968.09 638.09h10.83v10.83h-10.83zM968.09 668.09h10.83v10.83h-10.83zM953.09 698.09h10.83v11.83h-10.83zM953.09 714.09h10.83v10.83h-10.83zM953.09 729.09h10.83v10.83h-10.83zM953.09 744.09h10.83v10.83h-10.83zM953.09 759.09h10.83v10.83h-10.83zM953.09 774.09h10.83v10.83h-10.83zM802.09 819.09h10.83v10.83h-10.83zM817.09 819.09h10.83v10.83h-10.83zM832.09 819.09h10.83v10.83h-10.83zM802.09 834.09h10.83v10.83h-10.83zM817.09 834.09h10.83v10.83h-10.83zM832.09 834.09h10.83v10.83h-10.83zM847.09 849.09h10.83v10.83h-10.83zM862.09 849.09h10.83v10.83h-10.83zM877.09 849.09h10.83v10.83h-10.83zM847.09 864.09h10.83v10.83h-10.83zM862.09 864.09h10.83v10.83h-10.83zM877.09 864.09h10.83v10.83h-10.83zM938.09 894.09h10.83v10.83h-10.83zM892.09 909.09h10.83v11.83h-10.83z"/>
<path fill="#006c36" d="M907.09 261.08h10.83v10.83h-10.83zM847.09 276.08h10.83v11.83h-10.83zM862.09 276.08h10.83v11.83h-10.83zM877.09 276.08h10.83v11.83h-10.83zM907.09 276.08h10.83v11.83h-10.83zM847.09 292.08h10.83v10.83h-10.83zM862.09 292.08h10.83v10.83h-10.83zM877.09 292.08h10.83v10.83h-10.83zM907.09 292.08h10.83v10.83h-10.83zM847.09 307.08h10.83v10.83h-10.83zM862.09 307.08h10.83v10.83h-10.83zM877.09 307.08h10.83v10.83h-10.83zM907.09 307.08h10.83v10.83h-10.83zM847.09 322.08h10.83v10.83h-10.83zM862.09 322.08h10.83v10.83h-10.83zM877.09 322.08h10.83v10.83h-10.83zM907.09 322.08h10.83v10.83h-10.83zM938.09 322.08h10.83v10.83h-10.83zM847.09 337.08h10.83v10.83h-10.83zM862.09 337.08h10.83v10.83h-10.83zM877.09 337.08h10.83v10.83h-10.83zM907.09 337.08h10.83v10.83h-10.83zM938.09 337.08h10.83v10.83h-10.83zM847.09 352.08h10.83v10.83h-10.83zM862.09 352.08h10.83v10.83h-10.83zM877.09 352.08h10.83v10.83h-10.83zM907.09 352.08h10.83v10.83h-10.83zM938.09 352.08h10.83v10.83h-10.83zM847.09 367.08h10.83v10.83h-10.83zM862.09 367.08h10.83v10.83h-10.83zM877.09 367.08h10.83v10.83h-10.83zM907.09 367.08h10.83v10.83h-10.83zM922.09 367.08h11.83v10.83h-11.83zM938.09 367.08h10.83v10.83h-10.83zM847.09 382.08h10.83v10.83h-10.83zM862.09 382.08h10.83v10.83h-10.83zM877.09 382.08h10.83v10.83h-10.83zM892.09 382.08h10.83v10.83h-10.83zM907.09 382.08h10.83v10.83h-10.83zM922.09 382.08h11.83v10.83h-11.83zM938.09 382.08h10.83v10.83h-10.83zM847.09 397.08h10.83v10.83h-10.83zM862.09 397.08h10.83v10.83h-10.83zM877.09 397.08h10.83v10.83h-10.83zM892.09 397.08h10.83v10.83h-10.83zM907.09 397.08h10.83v10.83h-10.83zM922.09 397.08h11.83v10.83h-11.83zM938.09 397.08h10.83v10.83h-10.83zM847.09 412.08h10.83v10.83h-10.83zM862.09 412.08h10.83v10.83h-10.83zM877.09 412.08h10.83v10.83h-10.83zM892.09 412.08h10.83v10.83h-10.83zM907.09 412.08h10.83v10.83h-10.83zM922.09 412.08h11.83v10.83h-11.83zM938.09 412.08h10.83v10.83h-10.83zM847.09 427.08h10.83v10.83h-10.83zM862.09 427.08h10.83v10.83h-10.83zM877.09 427.08h10.83v10.83h-10.83zM892.09 427.08h10.83v10.83h-10.83zM907.09 427.08h10.83v10.83h-10.83zM922.09 427.08h11.83v10.83h-11.83zM938.09 427.08h10.83v10.83h-10.83zM847.09 442.08h10.83v10.83h-10.83zM862.09 442.08h10.83v10.83h-10.83zM877.09 442.08h10.83v10.83h-10.83zM892.09 442.08h10.83v10.83h-10.83zM907.09 442.08h10.83v10.83h-10.83zM922.09 442.08h11.83v10.83h-11.83zM938.09 442.08h10.83v10.83h-10.83zM847.09 457.08h10.83v10.83h-10.83zM862.09 457.08h10.83v10.83h-10.83zM877.09 457.08h10.83v10.83h-10.83zM892.09 457.08h10.83v10.83h-10.83zM907.09 457.08h10.83v10.83h-10.83zM922.09 457.08h11.83v10.83h-11.83zM938.09 457.08h10.83v10.83h-10.83zM847.09 472.08h10.83v10.83h-10.83zM862.09 472.08h10.83v10.83h-10.83zM877.09 472.08h10.83v10.83h-10.83zM892.09 472.08h10.83v10.83h-10.83zM907.09 472.08h10.83v10.83h-10.83zM922.09 472.08h11.83v10.83h-11.83zM938.09 472.08h10.83v10.83h-10.83zM847.09 487.08h10.83v11.83h-10.83zM862.09 487.08h10.83v11.83h-10.83zM877.09 487.08h10.83v11.83h-10.83zM892.09 487.08h10.83v11.83h-10.83zM907.09 487.08h10.83v11.83h-10.83zM922.09 487.08h11.83v11.83h-11.83zM938.09 487.08h10.83v11.83h-10.83zM847.09 503.08h10.83v10.83h-10.83zM862.09 503.08h10.83v10.83h-10.83zM877.09 503.08h10.83v10.83h-10.83zM892.09 503.08h10.83v10.83h-10.83zM907.09 503.08h10.83v10.83h-10.83zM922.09 503.08h11.83v10.83h-11.83zM938.09 503.08h10.83v10.83h-10.83zM802.09 518.09h10.83v10.83h-10.83zM817.09 518.09h10.83v10.83h-10.83zM832.09 518.09h10.83v10.83h-10.83zM847.09 518.09h10.83v10.83h-10.83zM862.09 518.09h10.83v10.83h-10.83zM877.09 518.09h10.83v10.83h-10.83zM892.09 518.09h10.83v10.83h-10.83zM907.09 518.09h10.83v10.83h-10.83zM922.09 518.09h11.83v10.83h-11.83zM938.09 518.09h10.83v10.83h-10.83zM802.09 533.09h10.83v10.83h-10.83zM817.09 533.09h10.83v10.83h-10.83zM832.09 533.09h10.83v10.83h-10.83zM847.09 533.09h10.83v10.83h-10.83zM862.09 533.09h10.83v10.83h-10.83zM877.09 533.09h10.83v10.83h-10.83zM892.09 533.09h10.83v10.83h-10.83zM907.09 533.09h10.83v10.83h-10.83zM922.09 533.09h11.83v10.83h-11.83zM938.09 533.09h10.83v10.83h-10.83zM802.09 548.09h10.83v10.83h-10.83zM817.09 548.09h10.83v10.83h-10.83zM832.09 548.09h10.83v10.83h-10.83zM847.09 548.09h10.83v10.83h-10.83zM862.09 548.09h10.83v10.83h-10.83zM877.09 548.09h10.83v10.83h-10.83zM892.09 548.09h10.83v10.83h-10.83zM907.09 548.09h10.83v10.83h-10.83zM922.09 548.09h11.83v10.83h-11.83zM938.09 548.09h10.83v10.83h-10.83zM802.09 563.09h10.83v10.83h-10.83zM817.09 563.09h10.83v10.83h-10.83zM832.09 563.09h10.83v10.83h-10.83zM847.09 563.09h10.83v10.83h-10.83zM862.09 563.09h10.83v10.83h-10.83zM877.09 563.09h10.83v10.83h-10.83zM892.09 563.09h10.83v10.83h-10.83zM907.09 563.09h10.83v10.83h-10.83zM922.09 563.09h11.83v10.83h-11.83zM938.09 563.09h10.83v10.83h-10.83zM802.09 578.09h10.83v10.83h-10.83zM817.09 578.09h10.83v10.83h-10.83zM832.09 578.09h10.83v10.83h-10.83zM847.09 578.09h10.83v10.83h-10.83zM862.09 578.09h10.83v10.83h-10.83zM877.09 578.09h10.83v10.83h-10.83zM892.09 578.09h10.83v10.83h-10.83zM907.09 578.09h10.83v10.83h-10.83zM922.09 578.09h11.83v10.83h-11.83zM938.09 578.09h10.83v10.83h-10.83zM802.09 593.09h10.83v10.83h-10.83zM817.09 593.09h10.83v10.83h-10.83zM832.09 593.09h10.83v10.83h-10.83zM847.09 593.09h10.83v10.83h-10.83zM862.09 593.09h10.83v10.83h-10.83zM877.09 593.09h10.83v10.83h-10.83zM892.09 593.09h10.83v10.83h-10.83zM907.09 593.09h10.83v10.83h-10.83zM922.09 593.09h11.83v10.83h-11.83zM938.09 593.09h10.83v10.83h-10.83zM802.09 608.09h10.83v10.83h-10.83zM817.09 608.09h10.83v10.83h-10.83zM832.09 608.09h10.83v10.83h-10.83zM847.09 608.09h10.83v10.83h-10.83zM862.09 608.09h10.83v10.83h-10.83zM877.09 608.09h10.83v10.83h-10.83zM892.09 608.09h10.83v10.83h-10.83zM907.09 608.09h10.83v10.83h-10.83zM922.09 608.09h11.83v10.83h-11.83zM938.09 608.09h10.83v10.83h-10.83zM802.09 623.09h10.83v10.83h-10.83zM817.09 623.09h10.83v10.83h-10.83zM832.09 623.09h10.83v10.83h-10.83zM847.09 623.09h10.83v10.83h-10.83zM862.09 623.09h10.83v10.83h-10.83zM877.09 623.09h10.83v10.83h-10.83zM892.09 623.09h10.83v10.83h-10.83zM907.09 623.09h10.83v10.83h-10.83zM922.09 623.09h11.83v10.83h-11.83zM938.09 623.09h10.83v10.83h-10.83zM968.09 623.09h10.83v10.83h-10.83zM802.09 638.09h10.83v10.83h-10.83zM817.09 638.09h10.83v10.83h-10.83zM832.09 638.09h10.83v10.83h-10.83zM847.09 638.09h10.83v10.83h-10.83zM862.09 638.09h10.83v10.83h-10.83zM877.09 638.09h10.83v10.83h-10.83zM892.09 638.09h10.83v10.83h-10.83zM907.09 638.09h10.83v10.83h-10.83zM922.09 638.09h11.83v10.83h-11.83zM938.09 638.09h10.83v10.83h-10.83zM802.09 653.09h10.83v10.83h-10.83zM817.09 653.09h10.83v10.83h-10.83zM832.09 653.09h10.83v10.83h-10.83zM847.09 653.09h10.83v10.83h-10.83zM862.09 653.09h10.83v10.83h-10.83zM877.09 653.09h10.83v10.83h-10.83zM892.09 653.09h10.83v10.83h-10.83zM907.09 653.09h10.83v10.83h-10.83zM922.09 653.09h11.83v10.83h-11.83zM938.09 653.09h10.83v10.83h-10.83zM802.09 668.09h10.83v10.83h-10.83zM817.09 668.09h10.83v10.83h-10.83zM832.09 668.09h10.83v10.83h-10.83zM847.09 668.09h10.83v10.83h-10.83zM862.09 668.09h10.83v10.83h-10.83zM877.09 668.09h10.83v10.83h-10.83zM892.09 668.09h10.83v10.83h-10.83zM907.09 668.09h10.83v10.83h-10.83zM922.09 668.09h11.83v10.83h-11.83zM938.09 668.09h10.83v10.83h-10.83zM802.09 683.09h10.83v10.83h-10.83zM817.09 683.09h10.83v10.83h-10.83zM832.09 683.09h10.83v10.83h-10.83zM847.09 683.09h10.83v10.83h-10.83zM862.09 683.09h10.83v10.83h-10.83zM877.09 683.09h10.83v10.83h-10.83zM892.09 683.09h10.83v10.83h-10.83zM907.09 683.09h10.83v10.83h-10.83zM922.09 683.09h11.83v10.83h-11.83zM938.09 683.09h10.83v10.83h-10.83zM968.09 683.09h10.83v10.83h-10.83zM802.09 698.09h10.83v11.83h-10.83zM817.09 698.09h10.83v11.83h-10.83zM832.09 698.09h10.83v11.83h-10.83zM847.09 698.09h10.83v11.83h-10.83zM862.09 698.09h10.83v11.83h-10.83zM877.09 698.09h10.83v11.83h-10.83zM892.09 698.09h10.83v11.83h-10.83zM907.09 698.09h10.83v11.83h-10.83zM922.09 698.09h11.83v11.83h-11.83zM938.09 698.09h10.83v11.83h-10.83zM968.09 698.09h10.83v11.83h-10.83zM802.09 714.09h10.83v10.83h-10.83zM817.09 714.09h10.83v10.83h-10.83zM832.09 714.09h10.83v10.83h-10.83zM847.09 714.09h10.83v10.83h-10.83zM862.09 714.09h10.83v10.83h-10.83zM877.09 714.09h10.83v10.83h-10.83zM892.09 714.09h10.83v10.83h-10.83zM907.09 714.09h10.83v10.83h-10.83zM922.09 714.09h11.83v10.83h-11.83zM938.09 714.09h10.83v10.83h-10.83zM968.09 714.09h10.83v10.83h-10.83zM802.09 729.09h10.83v10.83h-10.83zM817.09 729.09h10.83v10.83h-10.83zM832.09 729.09h10.83v10.83h-10.83zM847.09 729.09h10.83v10.83h-10.83zM862.09 729.09h10.83v10.83h-10.83zM877.09 729.09h10.83v10.83h-10.83zM892.09 729.09h10.83v10.83h-10.83zM907.09 729.09h10.83v10.83h-10.83zM922.09 729.09h11.83v10.83h-11.83zM938.09 729.09h10.83v10.83h-10.83zM968.09 729.09h10.83v10.83h-10.83zM802.09 744.09h10.83v10.83h-10.83zM817.09 744.09h10.83v10.83h-10.83zM832.09 744.09h10.83v10.83h-10.83zM847.09 744.09h10.83v10.83h-10.83zM862.09 744.09h10.83v10.83h-10.83zM877.09 744.09h10.83v10.83h-10.83zM892.09 744.09h10.83v10.83h-10.83zM907.09 744.09h10.83v10.83h-10.83zM922.09 744.09h11.83v10.83h-11.83zM938.09 744.09h10.83v10.83h-10.83zM968.09 744.09h10.83v10.83h-10.83zM802.09 759.09h10.83v10.83h-10.83zM817.09 759.09h10.83v10.83h-10.83zM832.09 759.09h10.83v10.83h-10.83zM847.09 759.09h10.83v10.83h-10.83zM862.09 759.09h10.83v10.83h-10.83zM877.09 759.09h10.83v10.83h-10.83zM892.09 759.09h10.83v10.83h-10.83zM907.09 759.09h10.83v10.83h-10.83zM922.09 759.09h11.83v10.83h-11.83zM938.09 759.09h10.83v10.83h-10.83zM968.09 759.09h10.83v10.83h-10.83zM802.09 774.09h10.83v10.83h-10.83zM817.09 774.09h10.83v10.83h-10.83zM832.09 774.09h10.83v10.83h-10.83zM847.09 774.09h10.83v10.83h-10.83zM862.09 774.09h10.83v10.83h-10.83zM877.09 774.09h10.83v10.83h-10.83zM892.09 774.09h10.83v10.83h-10.83zM907.09 774.09h10.83v10.83h-10.83zM922.09 774.09h11.83v10.83h-11.83zM938.09 774.09h10.83v10.83h-10.83zM802.09 789.09h10.83v10.83h-10.83zM817.09 789.09h10.83v10.83h-10.83zM832.09 789.09h10.83v10.83h-10.83zM847.09 789.09h10.83v10.83h-10.83zM862.09 789.09h10.83v10.83h-10.83zM877.09 789.09h10.83v10.83h-10.83zM892.09 789.09h10.83v10.83h-10.83zM907.09 789.09h10.83v10.83h-10.83zM922.09 789.09h11.83v10.83h-11.83zM938.09 789.09h10.83v10.83h-10.83zM802.09 804.09h10.83v10.83h-10.83zM817.09 804.09h10.83v10.83h-10.83zM832.09 804.09h10.83v10.83h-10.83zM847.09 804.09h10.83v10.83h-10.83zM862.09 804.09h10.83v10.83h-10.83zM877.09 804.09h10.83v10.83h-10.83zM892.09 804.09h10.83v10.83h-10.83zM907.09 804.09h10.83v10.83h-10.83zM922.09 804.09h11.83v10.83h-11.83zM938.09 804.09h10.83v10.83h-10.83zM847.09 819.09h10.83v10.83h-10.83zM862.09 819.09h10.83v10.83h-10.83zM877.09 819.09h10.83v10.83h-10.83zM892.09 819.09h10.83v10.83h-10.83zM907.09 819.09h10.83v10.83h-10.83zM922.09 819.09h11.83v10.83h-11.83zM938.09 819.09h10.83v10.83h-10.83zM892.09 834.09h10.83v10.83h-10.83zM907.09 834.09h10.83v10.83h-10.83zM922.09 834.09h11.83v10.83h-11.83zM938.09 834.09h10.83v10.83h-10.83zM892.09 849.09h10.83v10.83h-10.83zM907.09 849.09h10.83v10.83h-10.83zM922.09 849.09h11.83v10.83h-11.83zM938.09 849.09h10.83v10.83h-10.83zM892.09 864.09h10.83v10.83h-10.83zM907.09 864.09h10.83v10.83h-10.83zM922.09 864.09h11.83v10.83h-11.83zM938.09 864.09h10.83v10.83h-10.83zM892.09 879.09h10.83v10.83h-10.83zM907.09 879.09h10.83v10.83h-10.83zM922.09 879.09h11.83v10.83h-11.83zM938.09 879.09h10.83v10.83h-10.83zM892.09 894.09h10.83v10.83h-10.83zM922.09 894.09h11.83v10.83h-11.83zM922.09 909.09h11.83v11.83h-11.83z"/>
<path fill="#61c15e" d="M922.09 261.08h11.83v10.83h-11.83zM892.09 322.08h10.83v10.83h-10.83zM968.09 518.09h10.83v10.83h-10.83zM953.09 623.09h10.83v10.83h-10.83zM953.09 789.09h10.83v10.83h-10.83zM862.09 894.09h10.83v10.83h-10.83zM877.09 894.09h10.83v10.83h-10.83z"/>
<path fill="#058341" d="M938.09 261.08h10.83v10.83h-10.83zM938.09 276.08h10.83v11.83h-10.83zM922.09 322.08h11.83v10.83h-11.83zM802.09 487.08h10.83v11.83h-10.83zM817.09 487.08h10.83v11.83h-10.83zM832.09 487.08h10.83v11.83h-10.83zM968.09 653.09h10.83v10.83h-10.83zM953.09 683.09h10.83v10.83h-10.83zM802.09 849.09h10.83v10.83h-10.83zM907.09 894.09h10.83v10.83h-10.83z"/>
<path fill="#4bb759" d="M922.09 276.08h11.83v11.83h-11.83zM802.09 457.08h10.83v10.83h-10.83zM817.09 457.08h10.83v10.83h-10.83zM832.09 457.08h10.83v10.83h-10.83zM817.09 879.09h10.83v10.83h-10.83zM832.09 879.09h10.83v10.83h-10.83zM847.09 894.09h10.83v10.83h-10.83z"/>
<path fill="#7ecc5f" d="M892.09 292.08h10.83v10.83h-10.83zM968.09 472.08h10.83v10.83h-10.83zM968.09 487.08h10.83v11.83h-10.83zM847.09 909.09h10.83v11.83h-10.83zM862.09 909.09h10.83v11.83h-10.83zM877.09 909.09h10.83v11.83h-10.83z"/>
<path fill="#39ae55" d="M922.09 292.08h11.83v10.83h-11.83zM892.09 337.08h10.83v10.83h-10.83zM968.09 533.09h10.83v10.83h-10.83zM968.09 548.09h10.83v10.83h-10.83zM968.09 563.09h10.83v10.83h-10.83zM968.09 578.09h10.83v10.83h-10.83zM802.09 879.09h10.83v10.83h-10.83zM892.09 955.09h10.83v10.83h-10.83z"/>
<path fill="#ff8145" d="M817.09 307.08h10.83v10.83h-10.83zM832.09 307.08h10.83v10.83h-10.83z"/>
<path fill="#71c75f" d="M892.09 307.08h10.83v10.83h-10.83zM968.09 503.08h10.83v10.83h-10.83zM802.09 894.09h10.83v10.83h-10.83zM817.09 894.09h10.83v10.83h-10.83zM832.09 894.09h10.83v10.83h-10.83z"/>
<path fill="#129c4d" d="M922.09 307.08h11.83v10.83h-11.83zM802.09 472.08h10.83v10.83h-10.83zM817.09 472.08h10.83v10.83h-10.83zM832.09 472.08h10.83v10.83h-10.83zM968.09 593.09h10.83v10.83h-10.83zM953.09 638.09h10.83v10.83h-10.83zM802.09 864.09h10.83v10.83h-10.83zM847.09 879.09h10.83v10.83h-10.83zM907.09 909.09h10.83v11.83h-10.83zM938.09 909.09h10.83v11.83h-10.83zM892.09 925.09h10.83v10.83h-10.83z"/>
<path fill="#e22a21" d="M998.09 307.08h10.83v10.83h-10.83zM1058.09 322.08h10.83v10.83h-10.83zM1088.09 322.08h10.83v10.83h-10.83zM953.09 457.08h10.83v10.83h-10.83zM983.09 457.08h10.83v10.83h-10.83zM1028.09 985.09h10.83v10.83h-10.83zM1058.09 985.09h10.83v10.83h-10.83zM998.09 1000.09h10.83v10.83h-10.83zM1028.09 1000.09h10.83v10.83h-10.83zM1073.09 1090.09h10.83v10.83h-10.83z"/>
<path fill="#0c9047" d="M892.09 352.08h10.83v10.83h-10.83zM953.09 653.09h10.83v10.83h-10.83zM953.09 668.09h10.83v10.83h-10.83zM817.09 849.09h10.83v10.83h-10.83zM832.09 849.09h10.83v10.83h-10.83z"/>
<path fill="#ffe387" d="M1058.09 487.08h10.83v11.83h-10.83zM1088.09 518.09h10.83v10.83h-10.83zM802.09 1151.09h10.83v10.83h-10.83zM817.09 1151.09h10.83v10.83h-10.83zM832.09 1151.09h10.83v10.83h-10.83zM802.09 1166.09h10.83v10.83h-10.83zM817.09 1166.09h10.83v10.83h-10.83zM832.09 1166.09h10.83v10.83h-10.83z"/>
<path fill="#ffda7e" d="M1088.09 487.08h10.83v11.83h-10.83z"/>
<path fill="#fff09e" d="M1028.09 548.09h10.83v10.83h-10.83zM1058.09 548.09h10.83v10.83h-10.83zM1043.09 683.09h10.83v10.83h-10.83zM1043.09 698.09h10.83v11.83h-10.83zM1073.09 698.09h10.83v11.83h-10.83zM1058.09 729.09h10.83v10.83h-10.83zM1073.09 744.09h10.83v10.83h-10.83zM1088.09 744.09h10.83v10.83h-10.83zM802.09 1030.09h10.83v10.83h-10.83zM817.09 1030.09h10.83v10.83h-10.83zM832.09 1030.09h10.83v10.83h-10.83zM847.09 1030.09h10.83v10.83h-10.83zM862.09 1030.09h10.83v10.83h-10.83zM877.09 1030.09h10.83v10.83h-10.83zM802.09 1045.09h10.83v10.83h-10.83zM817.09 1045.09h10.83v10.83h-10.83zM832.09 1045.09h10.83v10.83h-10.83zM847.09 1045.09h10.83v10.83h-10.83zM862.09 1045.09h10.83v10.83h-10.83zM877.09 1045.09h10.83v10.83h-10.83zM907.09 1060.09h10.83v10.83h-10.83zM953.09 1075.09h10.83v10.83h-10.83zM938.09 1120.09h10.83v11.83h-10.83zM907.09 1136.09h10.83v10.83h-10.83zM938.09 1136.09h10.83v10.83h-10.83zM892.09 1151.09h10.83v10.83h-10.83zM907.09 1151.09h10.83v10.83h-10.83zM938.09 1151.09h10.83v10.83h-10.83zM892.09 1166.09h10.83v10.83h-10.83zM907.09 1166.09h10.83v10.83h-10.83zM938.09 1166.09h10.83v10.83h-10.83z"/>
<path fill="#fff8ab" d="M1013.09 683.09h10.83v10.83h-10.83zM907.09 1030.09h10.83v10.83h-10.83zM938.09 1090.09h10.83v10.83h-10.83z"/>
<path fill="#f1faa5" d="M1028.09 683.09h10.83v10.83h-10.83zM1013.09 744.09h10.83v10.83h-10.83zM922.09 1120.09h11.83v11.83h-11.83z"/>
<path fill="#ddf389" d="M1028.09 698.09h10.83v11.83h-10.83zM1058.09 714.09h10.83v10.83h-10.83zM968.09 849.09h10.83v10.83h-10.83z"/>
<path fill="#fff6a9" d="M1088.09 698.09h10.83v11.83h-10.83zM1043.09 744.09h10.83v10.83h-10.83zM802.09 1000.09h10.83v10.83h-10.83zM817.09 1000.09h10.83v10.83h-10.83zM832.09 1000.09h10.83v10.83h-10.83z"/>
<path fill="#a9de65" d="M983.09 714.09h10.83v10.83h-10.83zM998.09 714.09h10.83v10.83h-10.83zM892.09 1045.09h10.83v10.83h-10.83z"/>
<path fill="#c4e976" d="M1028.09 714.09h10.83v10.83h-10.83zM907.09 985.09h10.83v10.83h-10.83zM892.09 1075.09h10.83v10.83h-10.83z"/>
<path fill="#edf89f" d="M1073.09 714.09h10.83v10.83h-10.83zM1088.09 714.09h10.83v10.83h-10.83zM938.09 1030.09h10.83v10.83h-10.83z"/>
<path fill="#ceed7c" d="M998.09 729.09h10.83v10.83h-10.83zM998.09 744.09h10.83v10.83h-10.83zM802.09 925.09h10.83v10.83h-10.83zM817.09 925.09h10.83v10.83h-10.83zM832.09 925.09h10.83v10.83h-10.83zM953.09 985.09h10.83v10.83h-10.83zM922.09 1105.09h11.83v10.83h-11.83z"/>
<path fill="#23a451" d="M968.09 774.09h10.83v10.83h-10.83zM817.09 864.09h10.83v10.83h-10.83zM832.09 864.09h10.83v10.83h-10.83zM862.09 879.09h10.83v10.83h-10.83zM877.09 879.09h10.83v10.83h-10.83zM938.09 925.09h10.83v10.83h-10.83z"/>
<path fill="#007139" d="M847.09 834.09h10.83v10.83h-10.83zM862.09 834.09h10.83v10.83h-10.83zM877.09 834.09h10.83v10.83h-10.83z"/>
<path fill="#ffb65f" d="M1028.09 834.09h10.83v10.83h-10.83zM1088.09 834.09h10.83v10.83h-10.83zM1028.09 849.09h10.83v10.83h-10.83zM1088.09 849.09h10.83v10.83h-10.83zM998.09 879.09h10.83v10.83h-10.83z"/>
<path fill="#ffc068" d="M983.09 849.09h10.83v10.83h-10.83zM1043.09 894.09h10.83v10.83h-10.83zM1073.09 894.09h10.83v10.83h-10.83zM1013.09 909.09h10.83v11.83h-10.83zM1043.09 909.09h10.83v11.83h-10.83zM1073.09 909.09h10.83v11.83h-10.83zM1013.09 925.09h10.83v10.83h-10.83zM1043.09 925.09h10.83v10.83h-10.83zM1073.09 925.09h10.83v10.83h-10.83zM1013.09 940.09h10.83v10.83h-10.83z"/>
<path fill="#ffc46b" d="M1043.09 849.09h10.83v10.83h-10.83zM1073.09 849.09h10.83v10.83h-10.83zM1043.09 864.09h10.83v10.83h-10.83zM1073.09 864.09h10.83v10.83h-10.83zM1013.09 879.09h10.83v10.83h-10.83zM1043.09 879.09h10.83v10.83h-10.83zM1073.09 879.09h10.83v10.83h-10.83zM1013.09 894.09h10.83v10.83h-10.83z"/>
<path fill="#daf185" d="M953.09 879.09h10.83v10.83h-10.83zM953.09 940.09h10.83v10.83h-10.83z"/>
<path fill="#e0f48d" d="M953.09 894.09h10.83v10.83h-10.83zM953.09 925.09h10.83v10.83h-10.83zM802.09 940.09h10.83v10.83h-10.83zM817.09 940.09h10.83v10.83h-10.83zM832.09 940.09h10.83v10.83h-10.83z"/>
<path fill="#ffb05a" d="M1028.09 894.09h10.83v10.83h-10.83zM1088.09 894.09h10.83v10.83h-10.83zM998.09 909.09h10.83v11.83h-10.83zM1028.09 909.09h10.83v11.83h-10.83zM1088.09 909.09h10.83v11.83h-10.83z"/>
<path fill="#69c45e" d="M907.09 925.09h10.83v10.83h-10.83zM922.09 1000.09h11.83v10.83h-11.83z"/>
<path fill="#088844" d="M922.09 925.09h11.83v10.83h-11.83z"/>
<path fill="#c8ea78" d="M847.09 940.09h10.83v10.83h-10.83zM862.09 940.09h10.83v10.83h-10.83zM877.09 940.09h10.83v10.83h-10.83z"/>
<path fill="#1aa04f" d="M892.09 940.09h10.83v10.83h-10.83z"/>
<path fill="#80cd60" d="M907.09 940.09h10.83v10.83h-10.83zM938.09 955.09h10.83v10.83h-10.83zM892.09 1000.09h10.83v10.83h-10.83z"/>
<path fill="#0f964a" d="M922.09 940.09h11.83v10.83h-11.83z"/>
<path fill="#42b257" d="M938.09 940.09h10.83v10.83h-10.83zM922.09 970.09h11.83v10.83h-11.83z"/>
<path fill="#ffbc64" d="M1043.09 940.09h10.83v10.83h-10.83zM1073.09 940.09h10.83v10.83h-10.83zM1013.09 955.09h10.83v10.83h-10.83zM1043.09 955.09h10.83v10.83h-10.83zM1073.09 955.09h10.83v10.83h-10.83zM1013.09 970.09h10.83v10.83h-10.83zM1043.09 970.09h10.83v10.83h-10.83zM1073.09 970.09h10.83v10.83h-10.83z"/>
<path fill="#e5f594" d="M847.09 955.09h10.83v10.83h-10.83zM862.09 955.09h10.83v10.83h-10.83zM877.09 955.09h10.83v10.83h-10.83z"/>
<path fill="#95d661" d="M907.09 955.09h10.83v10.83h-10.83zM938.09 970.09h10.83v10.83h-10.83zM892.09 1015.09h10.83v10.83h-10.83zM922.09 1030.09h11.83v10.83h-11.83z"/>
<path fill="#2faa53" d="M922.09 955.09h11.83v10.83h-11.83z"/>
<path fill="#f3fba7" d="M847.09 970.09h10.83v10.83h-10.83zM862.09 970.09h10.83v10.83h-10.83zM877.09 970.09h10.83v10.83h-10.83z"/>
<path fill="#55bb5b" d="M892.09 970.09h10.83v10.83h-10.83zM922.09 985.09h11.83v10.83h-11.83z"/>
<path fill="#a2db62" d="M907.09 970.09h10.83v10.83h-10.83zM938.09 985.09h10.83v10.83h-10.83zM892.09 1030.09h10.83v10.83h-10.83zM922.09 1060.09h11.83v10.83h-11.83z"/>
<path fill="#d4ef80" d="M953.09 970.09h10.83v10.83h-10.83z"/>
<path fill="#fffab0" d="M802.09 985.09h10.83v10.83h-10.83zM817.09 985.09h10.83v10.83h-10.83zM832.09 985.09h10.83v10.83h-10.83zM907.09 1015.09h10.83v10.83h-10.83zM922.09 1151.09h11.83v10.83h-11.83z"/>
<path fill="#64c25e" d="M892.09 985.09h10.83v10.83h-10.83z"/>
<path fill="#fff1a1" d="M847.09 1015.09h10.83v10.83h-10.83zM862.09 1015.09h10.83v10.83h-10.83zM877.09 1015.09h10.83v10.83h-10.83zM953.09 1060.09h10.83v10.83h-10.83zM892.09 1136.09h10.83v10.83h-10.83z"/>
<path fill="#86d060" d="M922.09 1015.09h11.83v10.83h-11.83z"/>
<path fill="#9bd861" d="M922.09 1045.09h11.83v10.83h-11.83z"/>
<path fill="#ffe489" d="M802.09 1136.09h10.83v10.83h-10.83zM817.09 1136.09h10.83v10.83h-10.83zM832.09 1136.09h10.83v10.83h-10.83z"/>
<rect x="800.5" y="33.5" width="301" height="1372" fill="none" stroke="#000" stroke-width="1.11"/>
<path d="M800.5 41.5h-5.36M800.5 56.5h-5.36M800.5 71.5h-5.36M800.5 86.5h-5.36M800.5 101.5h-5.36M800.5 116.5h-5.36M800.5 131.5h-5.36M800.5 146.5h-5.36M800.5 161.5h-5.36M800.5 177.5h-5.36M800.5 192.5h-5.36M800.5 207.5h-5.36M800.5 222.5h-5.36M800.5 237.5h-5.36M800.5 252.5h-5.36M800.5 267.5h-5.36M800.5 282.5h-5.36M800.5 297.5h-5.36M800.5 312.5h-5.36M800.5 327.5h-5.36M800.5 342.5h-5.36M800.5 357.5h-5.36M800.5 372.5h-5.36M800.5 388.5h-5.36M800.5 403.5h-5.36M800.5 418.5h-5.36M800.5 433.5h-5.36M800.5 448.5h-5.36M800.5 463.5h-5.36M800.5 478.5h-5.36M800.5 493.5h-5.36M800.5 508.5h-5.36M800.5 523.5h-5.36M800.5 538.5h-5.36M800.5 553.5h-5.36M800.5 568.5h-5.36M800.5 583.5h-5.36M800.5 599.5h-5.36M800.5 614.5h-5.36M800.5 629.5h-5.36M800.5 644.5h-5.36M800.5 659.5h-5.36M800.5 674.5h-5.36M800.5 689.5h-5.36M800.5 704.5h-5.36M800.5 719.5h-5.36M800.5 734.5h-5.36M800.5 749.5h-5.36M800.5 764.5h-5.36M800.5 779.5h-5.36M800.5 794.5h-5.36M800.5 810.5h-5.36M800.5 825.5h-5.36M800.5 840.5h-5.36M800.5 855.5h-5.36M800.5 870.5h-5.36M800.5 885.5h-5.36M800.5 900.5h-5.36M800.5 915.5h-5.36M800.5 930.5h-5.36M800.5 945.5h-5.36M800.5 960.5h-5.36M800.5 975.5h-5.36M800.5 990.5h-5.36M800.5 1005.5h-5.36M800.5 1021.5h-5.36M800.5 1036.5h-5.36M800.5 1051.5h-5.36M800.5 1066.5h-5.36M800.5 1081.5h-5.36M800.5 1096.5h-5.36M800.5 1111.5h-5.36M800.5 1126.5h-5.36M800.5 1141.5h-5.36M800.5 1156.5h-5.36M800.5 1171.5h-5.36M800.5 1186.5h-5.36M800.5 1201.5h-5.36M800.5 1216.5h-5.36M800.5 1232.5h-5.36M800.5 1247.5h-5.36M800.5 1262.5h-5.36M800.5 1277.5h-5.36M800.5 1292.5h-5.36M800.5 1307.5h-5.36M800.5 1322.5h-5.36M800.5 1337.5h-5.36M800.5 1352.5h-5.36M800.5 1367.5h-5.36M800.5 1382.5h-5.36M800.5 1397.5h-5.36M807.5 1405.5v5.36M823.5 1405.5v5.36M838.5 1405.5v5.36M853.5 1405.5v5.36M868.5 1405.5v5.36M883.5 1405.5v5.36M898.5 1405.5v5.36M913.5 1405.5v5.36M928.5 1405.5v5.36M943.5 1405.5v5.36M958.5 1405.5v5.36M973.5 1405.5v5.36M988.5 1405.5v5.36M1003.5 1405.5v5.36M1018.5 1405.5v5.36M1034.5 1405.5v5.36M1049.5 1405.5v5.36M1064.5 1405.5v5.36M1079.5 1405.5v5.36M1094.5 1405.5v5.36" stroke="#000" stroke-width="1.11" fill="none"/>
<g font-size="17.3" text-anchor="end">
<text x="790.3" y="48.64">45</text><text x="790.3" y="63.71">44</text><text x="790.3" y="78.78">43</text><text x="790.3" y="93.86">42</text><text x="790.3" y="108.93">41</text><text x="790.3" y="124">40</text><text x="790.3" y="139.08">39</text><text x="790.3" y="154.15">38</text><text x="790.3" y="169.23">37</text><text x="790.3" y="184.3">36</text><text x="790.3" y="199.37">35</text><text x="790.3" y="214.45">34</text><text x="790.3" y="229.52">33</text><text x="790.3" y="244.59">32</text><text x="790.3" y="259.67">31</text><text x="790.3" y="274.74">30</text><text x="790.3" y="289.81">29</text><text x="790.3" y="304.89">28</text><text x="790.3" y="319.96">27</text><text x="790.3" y="335.04">26</text><text x="790.3" y="350.11">25</text><text x="790.3" y="365.18">24</text><text x="790.3" y="380.26">23</text><text x="790.3" y="395.33">22</text><text x="790.3" y="410.4">21</text><text x="790.3" y="425.48">20</text><text x="790.3" y="440.55">19</text><text x="790.3" y="455.62">18</text><text x="790.3" y="470.7">17</text><text x="790.3" y="485.77">16</text><text x="790.3" y="500.84">15</text><text x="790.3" y="515.92">14</text><text x="790.3" y="530.99">13</text><text x="790.3" y="546.07">12</text><text x="790.3" y="561.14">11</text><text x="790.3" y="576.21">10</text><text x="790.3" y="591.29">9</text><text x="790.3" y="606.36">8</text><text x="790.3" y="621.43">7</text><text x="790.3" y="636.51">6</text><text x="790.3" y="651.58">5</text><text x="790.3" y="666.65">4</text><text x="790.3" y="681.73">3</text><text x="790.3" y="696.8">2</text><text x="790.3" y="711.88">1</text><text x="790.3" y="726.95">0</text><text x="790.3" y="742.02">-1</text><text x="790.3" y="757.1">-2</text><text x="790.3" y="772.17">-3</text><text x="790.3" y="787.24">-4</text><text x="790.3" y="802.32">-5</text><text x="790.3" y="817.39">-6</text><text x="790.3" y="832.46">-7</text><text x="790.3" y="847.54">-8</text><text x="790.3" y="862.61">-9</text><text x="790.3" y="877.68">-10</text><text x="790.3" y="892.76">-11</text><text x="790.3" y="907.83">-12</text><text x="790.3" y="922.91">-13</text><text x="790.3" y="937.98">-14</text><text x="790.3" y="953.05">-15</text><text x="790.3" y="968.13">-16</text><text x="790.3" y="983.2">-17</text><text x="790.3" y="998.27">-18</text><text x="790.3" y="1013.35">-19</text><text x="790.3" y="1028.42">-20</text><text x="790.3" y="1043.49">-21</text><text x="790.3" y="1058.57">-22</text><text x="790.3" y="1073.64">-23</text><text x="790.3" y="1088.72">-24</text><text x="790.3" y="1103.79">-25</text><text x="790.3" y="1118.86">-26</text><text x="790.3" y="1133.94">-27</text><text x="790.3" y="1149.01">-28</text><text x="790.3" y="1164.08">-29</text><text x="790.3" y="1179.16">-30</text><text x="790.3" y="1194.23">-31</text><text x="790.3" y="1209.3">-32</text><text x="790.3" y="1224.38">-33</text><text x="790.3" y="1239.45">-34</text><text x="790.3" y="1254.52">-35</text><text x="790.3" y="1269.6">-36</text><text x="790.3" y="1284.67">-37</text><text x="790.3" y="1299.75">-38</text><text x="790.3" y="1314.82">-39</text><text x="790.3" y="1329.89">-40</text><text x="790.3" y="1344.97">-41</text><text x="790.3" y="1360.04">-42</text><text x="790.3" y="1375.11">-43</text><text x="790.3" y="1390.19">-44</text><text x="790.3" y="1405.26">-45</text>
</g>
<g font-size="19.44" text-anchor="end">
<text transform="translate(807.15 1416.92) rotate(-45)" x="0" y="14.4">1 C</text><text transform="translate(822.2 1416.92) rotate(-45)" x="0" y="14.4">1 P</text><text transform="translate(837.26 1416.92) rotate(-45)" x="0" y="14.4">2 C</text><text transform="translate(852.31 1416.92) rotate(-45)" x="0" y="14.4">2 P</text><text transform="translate(867.37 1416.92) rotate(-45)" x="0" y="14.4">3 C</text><text transform="translate(882.42 1416.92) rotate(-45)" x="0" y="14.4">3 P</text><text transform="translate(897.48 1416.92) rotate(-45)" x="0" y="14.4">4 C</text><text transform="translate(912.53 1416.92) rotate(-45)" x="0" y="14.4">4 P</text><text transform="translate(927.59 1416.92) rotate(-45)" x="0" y="14.4">5 C</text><text transform="translate(942.64 1416.92) rotate(-45)" x="0" y="14.4">5 P</text><text transform="translate(957.7 1416.92) rotate(-45)" x="0" y="14.4">6 C</text><text transform="translate(972.75 1416.92) rotate(-45)" x="0" y="14.4">6 P</text><text transform="translate(987.81 1416.92) rotate(-45)" x="0" y="14.4">7 C</text><text transform="translate(1002.86 1416.92) rotate(-45)" x="0" y="14.4">7 P</text><text transform="translate(1017.92 1416.92) rotate(-45)" x="0" y="14.4">8 C</text><text transform="translate(1032.97 1416.92) rotate(-45)" x="0" y="14.4">8 P</text><text transform="translate(1048.03 1416.92) rotate(-45)" x="0" y="14.4">9 C</text><text transform="translate(1063.08 1416.92) rotate(-45)" x="0" y="14.4">9 P</text><text transform="translate(1078.14 1416.92) rotate(-45)" x="0" y="14.4">10 C</text><text transform="translate(1093.19 1416.92) rotate(-45)" x="0" y="14.4">10 P</text>
</g>
<text x="653.52" y="25.6" font-size="22.22" font-weight="bold" textLength="593.9" lengthAdjust="spacing">Market Maker Coverage Heatmap January 2026</text>
<text x="951.17" y="1476.5" font-size="13.89" text-anchor="middle">expiry index</text>
<text transform="translate(751.52 721.18) rotate(-90)" font-size="13.89" text-anchor="middle">strike index w.r.t. ATM, OTM in pos. dir.</text>
<rect x="1106.5" y="33.5" width="6" height="1372" fill="url(#cb2)" stroke="#000" stroke-width="1.11"/>
<path d="M1112.5 1405.5h5.36M1112.5 1271.5h5.36M1112.5 1138.5h5.36M1112.5 1005.5h5.36M1112.5 871.5h5.36M1112.5 738.5h5.36M1112.5 513.5h5.36M1112.5 273.5h5.36M1112.5 33.5h5.36" stroke="#000" stroke-width="1.11" fill="none"/>
<g font-size="13.2"><text x="1122.52" y="1411.94">0</text><text x="1122.52" y="1278.56">5</text><text x="1122.52" y="1145.17">10</text><text x="1122.52" y="1011.79">15</text><text x="1122.52" y="878.4">20</text><text x="1122.52" y="745.02">25</text><text x="1122.52" y="520.18">30</text><text x="1122.52" y="280.31">35</text><text x="1122.52" y="40.43">40</text></g>
<text transform="translate(1155.1 721.18) rotate(-90)" font-size="13.89" text-anchor="middle">time in hours</text>
</g>
</svg>
</body></html>
